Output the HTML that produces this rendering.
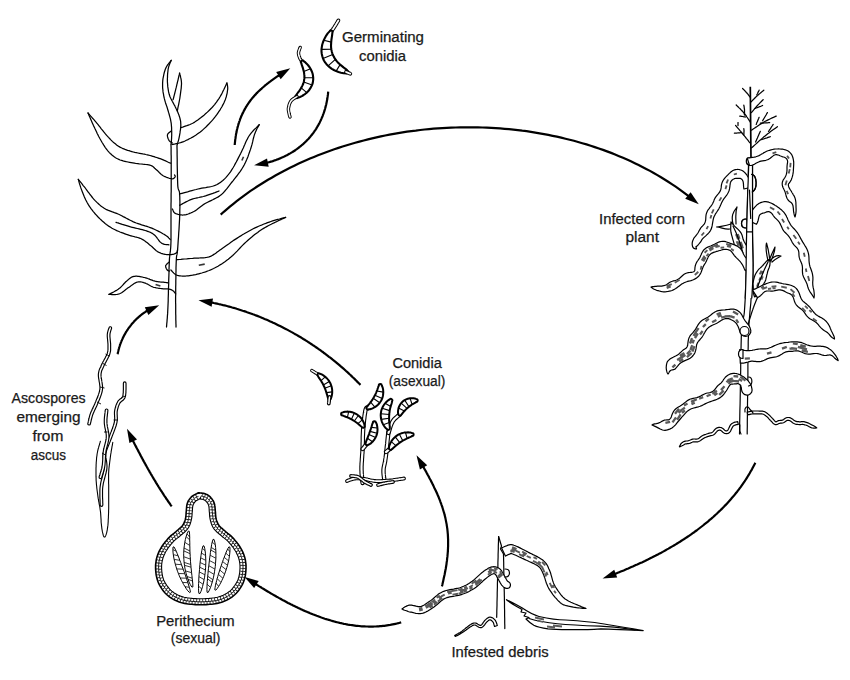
<!DOCTYPE html>
<html><head><meta charset="utf-8">
<style>
html,body{margin:0;padding:0;background:#fff;}
body{width:850px;height:680px;overflow:hidden;}
svg{display:block;}
text{font-family:"Liberation Sans",sans-serif;font-size:14px;fill:#1a1a1a;stroke:#1a1a1a;stroke-width:0.25px;}
.ln{fill:none;stroke:#000;stroke-width:1.2;stroke-linecap:round;stroke-linejoin:round;}
.lf{fill:#fff;stroke:#000;stroke-width:1.2;stroke-linejoin:round;}
.ar{fill:none;stroke:#000;stroke-width:2.4;}
.rbo{fill:none;stroke:#000;stroke-width:9;stroke-linecap:butt;stroke-linejoin:round;}
.rbi{fill:none;stroke:#fff;stroke-width:6.6;stroke-linecap:butt;stroke-linejoin:round;}
.rbd{fill:none;stroke:#555;stroke-width:2.2;stroke-dasharray:4 3;stroke-linejoin:round;}
</style></head>
<body>
<svg width="850" height="680" viewBox="0 0 850 680">

<g id="young"><path class="ln" style="stroke-width:1.25" d="M171.0,144.0 L171.0,144.9 L171.0,146.0 L171.1,147.4 L171.1,148.9 L171.1,150.5 L171.1,152.3 L171.1,154.1 L171.2,156.0 L171.2,158.0 L171.2,160.0 L171.2,162.1 L171.2,164.3 L171.2,166.5 L171.2,168.9 L171.2,171.4 L171.2,173.9 L171.2,176.4 L171.2,178.9 L171.2,181.5 L171.2,184.0 L171.2,186.5 L171.2,189.0 L171.2,191.4 L171.1,193.9 L171.1,196.4 L171.1,199.0 L171.1,201.6 L171.0,204.3 L171.0,207.1 L171.0,210.0 L171.0,213.1 L171.0,216.5 L171.0,220.0 L171.0,223.7 L171.0,227.3 L171.0,231.0 L171.0,234.5 L171.0,237.8 L171.0,240.8 L170.9,243.5 L170.8,245.8 L170.7,247.7 L170.5,249.4 L170.4,250.9 L170.2,252.2 L170.0,253.5 L169.8,254.9 L169.7,256.4 L169.5,258.0 L169.4,260.0 L169.3,262.2 L169.2,264.6 L169.1,267.2 L169.0,269.8 L169.0,272.5 L168.9,275.3 L168.8,278.1 L168.7,280.8 L168.7,283.4 L168.6,286.0 L168.5,288.5 L168.4,291.0 L168.4,293.5 L168.3,296.0 L168.2,298.5 L168.2,300.9 L168.1,303.2 L168.0,305.5 L167.9,307.7 L167.8,309.8 L167.7,311.9 L167.6,313.9 L167.4,316.0 L167.3,318.0 L167.1,319.9 L167.0,321.7 L166.8,323.3 L166.7,324.8 L166.6,326.0 L166.5,327.0"/><path class="ln" style="stroke-width:1.25" d="M177.0,145.0 L177.0,147.5 L177.1,150.8 L177.1,154.8 L177.2,159.2 L177.2,163.9 L177.3,168.6 L177.4,173.2 L177.5,177.4 L177.6,181.1 L177.7,184.0 L177.8,186.1 L178.0,187.6 L178.2,188.7 L178.5,189.4 L178.7,190.0 L178.9,190.4 L179.1,190.9 L179.3,191.5 L179.5,192.5 L179.6,193.8 L179.7,195.4 L179.8,197.2 L179.8,199.1 L179.9,201.1 L179.9,203.2 L179.9,205.4 L179.9,207.8 L179.8,210.3 L179.8,212.9 L179.7,215.6 L179.6,218.6 L179.4,222.0 L179.2,225.6 L179.0,229.4 L178.7,233.2 L178.5,237.0 L178.2,240.6 L178.0,243.9 L177.8,246.9 L177.6,249.4 L177.4,251.3 L177.3,252.7 L177.1,253.7 L177.0,254.4 L176.9,254.9 L176.7,255.5 L176.6,256.1 L176.5,257.0 L176.4,258.3 L176.3,260.0 L176.2,262.3 L176.1,264.9 L176.0,267.9 L176.0,271.1 L175.9,274.4 L175.9,277.8 L175.8,281.1 L175.8,284.3 L175.7,287.3 L175.7,290.0 L175.7,292.4 L175.7,294.7 L175.6,296.8 L175.6,298.8 L175.6,300.7 L175.6,302.6 L175.7,304.4 L175.7,306.2 L175.7,308.0 L175.7,309.8 L175.7,311.7 L175.7,313.7 L175.8,315.7 L175.8,317.7 L175.8,319.6 L175.9,321.5 L175.9,323.2 L176.0,324.7 L176.0,326.0 L176.0,327.0"/><path class="ln" style="stroke-width:1.25" d="M171.2,60.3 L170.8,60.8 L170.4,61.4 L169.8,62.1 L169.2,62.9 L168.5,63.8 L167.8,64.7 L167.1,65.7 L166.5,66.8 L165.9,67.9 L165.4,69.0 L165.0,70.2 L164.6,71.5 L164.2,72.8 L163.9,74.2 L163.6,75.7 L163.3,77.1 L163.0,78.6 L162.8,80.1 L162.7,81.6 L162.6,83.0 L162.6,84.4 L162.6,85.8 L162.6,87.2 L162.7,88.6 L162.9,90.0 L163.0,91.4 L163.2,92.8 L163.5,94.2 L163.7,95.6 L164.0,97.0 L164.3,98.4 L164.7,99.8 L165.1,101.3 L165.5,102.7 L166.0,104.2 L166.5,105.6 L167.0,107.0 L167.4,108.4 L167.8,109.7 L168.2,111.0 L168.5,112.2 L168.9,113.4 L169.2,114.5 L169.5,115.6 L169.8,116.7 L170.1,117.8 L170.4,118.9 L170.6,119.9 L170.8,121.0 L171.0,122.1 L171.2,123.2 L171.3,124.3 L171.4,125.5 L171.5,126.6 L171.6,127.7 L171.6,128.9 L171.6,130.0 L171.7,131.1 L171.7,132.2 L171.7,133.3 L171.7,134.4 L171.7,135.6 L171.6,136.9 L171.6,138.1 L171.5,139.4 L171.4,140.5 L171.4,141.6 L171.3,142.6 L171.2,143.4 L171.2,144.0"/><path class="ln" style="stroke-width:1.25" d="M171.2,60.3 L171.0,60.8 L170.8,61.4 L170.4,62.1 L170.1,62.9 L169.7,63.8 L169.4,64.7 L169.0,65.7 L168.7,66.8 L168.4,67.9 L168.2,69.0 L168.0,70.2 L167.9,71.5 L167.7,72.9 L167.6,74.3 L167.5,75.8 L167.5,77.3 L167.4,78.7 L167.4,80.2 L167.4,81.6 L167.5,83.0 L167.6,84.3 L167.7,85.6 L167.8,86.9 L168.0,88.2 L168.2,89.4 L168.4,90.7 L168.6,91.9 L168.9,93.1 L169.2,94.3 L169.6,95.5 L170.0,96.7 L170.5,97.8 L171.1,99.0 L171.7,100.1 L172.3,101.3 L172.9,102.4 L173.5,103.5 L174.1,104.6 L174.7,105.6 L175.2,106.7 L175.7,107.7 L176.2,108.8 L176.7,109.8 L177.1,110.8 L177.6,111.8 L178.0,112.7 L178.4,113.7 L178.8,114.7 L179.1,115.6 L179.4,116.5 L179.7,117.4 L179.9,118.2 L180.1,119.0 L180.3,119.8 L180.5,120.6 L180.6,121.4 L180.7,122.2 L180.7,123.1 L180.8,124.0 L180.8,124.9 L180.8,125.9 L180.7,127.0 L180.6,128.1 L180.5,129.3 L180.3,130.5 L180.1,131.7 L180.0,132.9 L179.8,134.0 L179.6,135.1 L179.4,136.1 L179.2,137.1 L179.0,138.1 L178.8,139.1 L178.5,140.1 L178.3,141.0 L178.0,141.9 L177.8,142.7 L177.6,143.4 L177.4,144.0 L177.3,144.5"/><path class="ln" style="stroke-width:1.25" d="M179.6,73.2 L179.4,73.9 L179.2,74.9 L178.9,76.0 L178.6,77.3 L178.3,78.6 L178.0,80.1 L177.6,81.5 L177.3,83.0 L176.9,84.4 L176.6,85.8 L176.3,87.2 L175.9,88.7 L175.5,90.3 L175.1,91.9 L174.7,93.5 L174.3,95.1 L173.9,96.5 L173.6,97.8 L173.3,98.9 L173.1,99.7"/><path class="ln" style="stroke-width:1.25" d="M179.6,73.2 L179.7,73.8 L179.9,74.5 L180.1,75.3 L180.4,76.2 L180.6,77.2 L180.9,78.3 L181.1,79.4 L181.3,80.6 L181.4,81.8 L181.5,83.0 L181.5,84.2 L181.4,85.5 L181.3,86.9 L181.2,88.3 L181.0,89.7 L180.8,91.2 L180.6,92.7 L180.4,94.1 L180.2,95.6 L180.0,97.0 L179.8,98.5 L179.5,100.0 L179.2,101.6 L178.9,103.2 L178.6,104.8 L178.2,106.3 L177.9,107.8 L177.7,109.0 L177.5,110.1 L177.3,110.9"/><path class="ln" style="stroke-width:1.25" d="M180.8,127.7 L181.6,127.4 L182.7,127.1 L183.9,126.7 L185.3,126.2 L186.8,125.7 L188.4,125.1 L190.0,124.5 L191.6,123.8 L193.2,123.0 L194.7,122.1 L196.2,121.1 L197.8,120.0 L199.4,118.8 L201.0,117.6 L202.7,116.2 L204.3,114.9 L205.8,113.5 L207.4,112.1 L208.8,110.8 L210.1,109.5 L211.3,108.3 L212.5,107.0 L213.5,105.8 L214.6,104.6 L215.5,103.3 L216.5,102.1 L217.3,100.9 L218.2,99.6 L219.1,98.3 L219.9,97.0 L220.7,95.6 L221.6,94.1 L222.4,92.5 L223.2,90.8 L224.0,89.2 L224.7,87.7 L225.4,86.2 L226.0,84.9 L226.5,83.8 L226.9,83.0"/><path class="ln" style="stroke-width:1.25" d="M172.4,144.5 L173.1,144.3 L174.1,144.1 L175.2,143.9 L176.4,143.6 L177.7,143.3 L179.2,143.0 L180.6,142.6 L182.1,142.1 L183.6,141.6 L185.0,141.0 L186.4,140.3 L187.9,139.6 L189.4,138.8 L191.0,138.0 L192.6,137.1 L194.1,136.2 L195.7,135.2 L197.3,134.1 L198.8,133.0 L200.3,131.9 L201.8,130.7 L203.3,129.4 L204.7,128.1 L206.2,126.7 L207.6,125.3 L209.1,123.8 L210.4,122.4 L211.8,120.9 L213.1,119.4 L214.3,117.9 L215.5,116.4 L216.6,114.9 L217.7,113.3 L218.8,111.7 L219.9,110.1 L220.8,108.5 L221.8,107.0 L222.6,105.4 L223.4,103.9 L224.1,102.5 L224.7,101.1 L225.3,99.7 L225.7,98.4 L226.2,97.0 L226.5,95.7 L226.8,94.5 L227.1,93.3 L227.3,92.1 L227.4,91.0 L227.6,90.0 L227.7,89.0 L227.7,88.1 L227.7,87.3 L227.6,86.5 L227.5,85.7 L227.3,85.0 L227.2,84.4 L227.1,83.9 L227.0,83.4 L226.9,83.0"/><path class="ln" style="stroke-width:1.25" d="M171.0,131.2 L170.8,131.4 L170.4,131.6 L170.1,131.9 L169.6,132.2 L169.2,132.6 L168.7,133.0 L168.3,133.4 L167.9,133.8 L167.7,134.2 L167.5,134.7 L167.4,135.2 L167.4,135.7 L167.5,136.3 L167.6,136.9 L167.8,137.6 L168.0,138.2 L168.2,138.8 L168.4,139.3 L168.7,139.8 L168.9,140.3 L169.2,140.7 L169.5,141.1 L169.9,141.4 L170.3,141.7 L170.7,142.0 L171.2,142.3 L171.5,142.5 L171.9,142.7 L172.2,142.9 L172.4,143.0"/><path class="ln" style="stroke-width:1.25" d="M88.0,113.0 L88.5,113.6 L89.2,114.3 L89.9,115.2 L90.7,116.1 L91.7,117.2 L92.6,118.3 L93.7,119.4 L94.7,120.6 L95.8,121.9 L96.8,123.1 L97.9,124.4 L99.0,125.8 L100.1,127.2 L101.3,128.8 L102.6,130.3 L103.8,131.9 L105.0,133.4 L106.2,134.8 L107.4,136.2 L108.5,137.4 L109.6,138.5 L110.6,139.6 L111.6,140.6 L112.6,141.6 L113.6,142.5 L114.6,143.3 L115.6,144.1 L116.6,144.9 L117.7,145.7 L118.8,146.4 L120.0,147.1 L121.2,147.7 L122.4,148.3 L123.7,148.8 L125.0,149.4 L126.3,149.8 L127.6,150.3 L129.0,150.7 L130.4,151.2 L131.8,151.6 L133.3,152.0 L134.8,152.4 L136.3,152.7 L137.9,153.0 L139.6,153.3 L141.2,153.6 L142.8,153.9 L144.3,154.1 L145.8,154.5 L147.3,154.8 L148.7,155.2 L150.1,155.5 L151.4,155.9 L152.8,156.3 L154.1,156.7 L155.3,157.1 L156.6,157.5 L157.8,157.9 L159.0,158.3 L160.2,158.7 L161.4,159.1 L162.6,159.6 L163.8,160.1 L165.0,160.7 L166.2,161.2 L167.3,161.7 L168.3,162.2 L169.2,162.6 L170.0,162.9 L170.6,163.2"/><path class="ln" style="stroke-width:1.25" d="M88.0,113.0 L88.4,113.8 L88.8,114.9 L89.4,116.2 L90.0,117.6 L90.7,119.2 L91.4,120.8 L92.1,122.4 L92.8,124.0 L93.5,125.6 L94.2,127.0 L94.8,128.3 L95.5,129.7 L96.1,131.0 L96.7,132.3 L97.3,133.7 L98.0,134.9 L98.6,136.2 L99.3,137.5 L100.0,138.8 L100.7,140.0 L101.4,141.2 L102.1,142.5 L102.9,143.7 L103.6,144.9 L104.4,146.1 L105.1,147.3 L105.9,148.4 L106.8,149.5 L107.6,150.6 L108.5,151.6 L109.4,152.6 L110.3,153.5 L111.2,154.3 L112.2,155.2 L113.2,156.0 L114.2,156.8 L115.2,157.5 L116.4,158.2 L117.5,158.8 L118.8,159.4 L120.1,160.0 L121.6,160.4 L123.1,160.9 L124.7,161.3 L126.3,161.7 L127.9,162.0 L129.6,162.3 L131.2,162.6 L132.8,162.9 L134.4,163.2 L136.0,163.5 L137.7,163.7 L139.3,163.9 L141.0,164.0 L142.7,164.2 L144.4,164.3 L145.9,164.5 L147.4,164.7 L148.7,164.9 L149.9,165.2 L150.9,165.5 L151.8,165.9 L152.5,166.3 L153.2,166.8 L153.7,167.2 L154.2,167.7 L154.7,168.2 L155.3,168.7 L155.8,169.2 L156.4,169.7 L157.0,170.2 L157.6,170.8 L158.2,171.4 L158.8,172.0 L159.4,172.7 L160.1,173.3 L160.7,173.9 L161.3,174.5 L162.1,175.0 L162.8,175.5 L163.6,176.0 L164.5,176.4 L165.5,176.8 L166.5,177.3 L167.6,177.6 L168.6,178.0 L169.5,178.3 L170.4,178.5 L171.2,178.7 L171.9,178.8 L172.5,178.8 L173.0,178.7 L173.4,178.6 L173.8,178.4 L174.1,178.1 L174.4,177.8 L174.6,177.6 L174.8,177.3 L175.0,177.0 L175.1,176.8 L175.2,176.6 L175.2,176.4 L175.2,176.2 L175.1,175.9 L175.0,175.7 L174.9,175.5 L174.8,175.3 L174.6,175.2 L174.6,175.0 L174.5,174.9"/><path class="ln" style="stroke-width:1.25" d="M78.3,179.3 L78.7,179.8 L79.3,180.5 L79.9,181.3 L80.6,182.2 L81.4,183.2 L82.2,184.2 L83.0,185.3 L83.9,186.3 L84.8,187.4 L85.6,188.5 L86.4,189.6 L87.3,190.8 L88.2,192.0 L89.1,193.2 L90.0,194.5 L91.0,195.7 L92.0,197.0 L92.9,198.2 L93.9,199.3 L94.9,200.4 L95.9,201.4 L96.9,202.4 L97.9,203.3 L98.9,204.2 L99.9,205.1 L100.9,206.0 L102.0,206.8 L103.1,207.5 L104.2,208.3 L105.4,209.0 L106.6,209.7 L107.8,210.2 L109.1,210.7 L110.4,211.2 L111.7,211.7 L113.1,212.1 L114.4,212.6 L115.8,213.1 L117.3,213.7 L118.7,214.3 L120.2,215.0 L121.7,215.8 L123.2,216.6 L124.8,217.4 L126.4,218.3 L128.0,219.1 L129.7,220.0 L131.3,220.8 L132.9,221.6 L134.6,222.3 L136.3,223.0 L138.0,223.6 L139.8,224.2 L141.6,224.8 L143.4,225.3 L145.1,225.9 L146.9,226.4 L148.6,227.0 L150.2,227.6 L151.8,228.2 L153.3,228.8 L154.8,229.5 L156.3,230.2 L157.7,230.9 L159.1,231.6 L160.5,232.3 L161.7,233.0 L162.9,233.7 L164.0,234.3 L165.0,234.9 L165.9,235.5 L166.7,236.0 L167.3,236.6 L167.9,237.1 L168.5,237.6 L168.9,238.1 L169.3,238.5 L169.7,238.9 L170.0,239.2 L170.3,239.5"/><path class="ln" style="stroke-width:1.25" d="M78.3,179.3 L78.5,179.9 L78.7,180.7 L78.9,181.6 L79.2,182.6 L79.5,183.7 L79.9,184.9 L80.3,186.1 L80.7,187.4 L81.1,188.6 L81.6,189.9 L82.1,191.2 L82.6,192.6 L83.2,194.0 L83.8,195.5 L84.4,197.0 L85.1,198.5 L85.8,200.0 L86.6,201.5 L87.4,203.0 L88.2,204.4 L89.1,205.8 L90.0,207.2 L91.0,208.6 L92.0,209.9 L93.1,211.3 L94.2,212.6 L95.3,214.0 L96.4,215.2 L97.6,216.5 L98.8,217.7 L100.0,218.9 L101.2,220.0 L102.5,221.2 L103.8,222.3 L105.1,223.4 L106.4,224.4 L107.8,225.4 L109.1,226.4 L110.6,227.3 L112.0,228.2 L113.5,229.0 L115.1,229.8 L116.7,230.6 L118.3,231.3 L120.0,232.0 L121.7,232.6 L123.3,233.2 L124.9,233.8 L126.5,234.4 L128.0,234.9 L129.5,235.4 L130.9,235.8 L132.3,236.2 L133.7,236.5 L135.0,236.9 L136.3,237.2 L137.6,237.5 L138.9,237.9 L140.1,238.3 L141.2,238.8 L142.3,239.4 L143.3,239.9 L144.3,240.6 L145.2,241.2 L146.1,241.9 L147.0,242.6 L147.9,243.3 L148.7,244.0 L149.5,244.7 L150.4,245.4 L151.2,246.1 L152.1,246.8 L152.8,247.5 L153.6,248.3 L154.4,249.0 L155.2,249.7 L155.9,250.4 L156.7,251.0 L157.6,251.6 L158.4,252.1 L159.3,252.5 L160.2,252.9 L161.1,253.3 L162.1,253.6 L163.1,253.9 L164.0,254.1 L165.0,254.3 L165.9,254.5 L166.8,254.6 L167.7,254.7 L168.6,254.7 L169.5,254.7 L170.4,254.7 L171.2,254.6 L172.1,254.4 L172.9,254.3 L173.7,254.1 L174.4,253.9 L175.1,253.6 L175.6,253.4 L176.0,253.1 L176.4,252.8 L176.7,252.5 L176.9,252.1 L177.1,251.7 L177.2,251.3 L177.3,250.9 L177.4,250.6 L177.5,250.3 L177.6,250.1"/><path class="ln" style="stroke-width:1.25" d="M116.0,222.3 L116.9,222.6 L118.0,222.9 L119.3,223.4 L120.7,223.8 L122.3,224.4 L124.0,224.9 L125.7,225.4 L127.4,225.9 L129.0,226.4 L130.6,226.9 L132.2,227.3 L133.8,227.7 L135.5,228.1 L137.3,228.5 L139.0,228.9 L140.7,229.3 L142.3,229.7 L143.8,230.1 L145.2,230.5 L146.5,230.9 L147.6,231.3 L148.6,231.7 L149.5,232.0 L150.4,232.4 L151.1,232.7 L151.8,233.1 L152.5,233.5 L153.1,233.9 L153.8,234.4 L154.4,234.9 L155.0,235.5 L155.6,236.1 L156.2,236.8 L156.8,237.5 L157.3,238.3 L157.8,239.0 L158.3,239.7 L158.8,240.4 L159.2,241.0 L159.7,241.5 L160.1,241.9 L160.6,242.3 L161.0,242.6 L161.3,242.9 L161.7,243.2 L162.1,243.4 L162.4,243.6 L162.8,243.8 L163.3,243.9 L163.7,244.1 L164.2,244.3 L164.8,244.4 L165.4,244.5 L166.0,244.6 L166.6,244.6 L167.2,244.7 L167.8,244.7 L168.3,244.7 L168.7,244.8 L169.0,244.8"/><path class="ln" style="stroke-width:1.25" d="M179.5,194.0 L180.6,193.7 L182.0,193.3 L183.7,192.8 L185.6,192.3 L187.6,191.8 L189.7,191.2 L191.9,190.6 L194.0,190.0 L196.1,189.5 L198.0,189.0 L199.9,188.6 L201.8,188.2 L203.8,187.9 L205.7,187.6 L207.7,187.2 L209.6,186.9 L211.5,186.5 L213.3,186.0 L215.0,185.4 L216.6,184.7 L218.1,183.9 L219.5,183.0 L220.9,182.1 L222.2,181.1 L223.4,180.0 L224.6,178.9 L225.8,177.6 L226.9,176.3 L228.1,174.9 L229.3,173.4 L230.5,171.8 L231.7,169.9 L232.9,168.0 L234.1,166.0 L235.2,163.9 L236.4,161.8 L237.5,159.6 L238.5,157.6 L239.6,155.5 L240.6,153.6 L241.5,151.7 L242.4,149.8 L243.3,148.0 L244.1,146.1 L244.9,144.3 L245.6,142.5 L246.4,140.7 L247.3,139.1 L248.1,137.5 L249.0,136.0 L250.0,134.6 L251.1,133.2 L252.2,131.8 L253.4,130.5 L254.6,129.2 L255.8,128.1 L256.8,127.1 L257.8,126.1 L258.6,125.3 L259.2,124.7"/><path class="ln" style="stroke-width:1.25" d="M172.4,209.0 L172.5,209.3 L172.7,209.6 L172.9,210.1 L173.1,210.6 L173.3,211.1 L173.6,211.6 L173.9,212.2 L174.3,212.6 L174.8,213.1 L175.3,213.4 L175.9,213.7 L176.7,214.0 L177.5,214.2 L178.3,214.5 L179.2,214.7 L180.2,214.8 L181.2,214.9 L182.1,215.0 L183.1,215.0 L184.1,214.9 L185.1,214.8 L186.1,214.6 L187.1,214.3 L188.1,214.0 L189.2,213.6 L190.2,213.2 L191.3,212.7 L192.3,212.3 L193.4,211.7 L194.4,211.2 L195.4,210.6 L196.4,210.0 L197.3,209.3 L198.2,208.6 L199.2,207.8 L200.2,207.0 L201.2,206.2 L202.3,205.4 L203.4,204.6 L204.7,203.8 L206.1,203.0 L207.6,202.2 L209.3,201.4 L211.0,200.6 L212.7,199.8 L214.4,198.9 L216.1,198.0 L217.8,197.1 L219.4,196.1 L220.8,195.0 L222.1,193.9 L223.4,192.7 L224.5,191.5 L225.6,190.2 L226.7,188.9 L227.7,187.6 L228.8,186.2 L229.8,184.8 L230.9,183.4 L232.0,182.0 L233.2,180.6 L234.3,179.1 L235.5,177.6 L236.8,176.0 L238.0,174.4 L239.1,172.9 L240.3,171.3 L241.4,169.7 L242.4,168.0 L243.4,166.4 L244.3,164.7 L245.1,163.1 L245.9,161.4 L246.7,159.6 L247.4,157.9 L248.1,156.2 L248.7,154.4 L249.3,152.7 L249.9,151.0 L250.5,149.4 L251.0,147.8 L251.5,146.1 L252.0,144.4 L252.4,142.8 L252.8,141.2 L253.1,139.6 L253.5,138.0 L253.9,136.6 L254.3,135.2 L254.7,133.9 L255.2,132.7 L255.7,131.5 L256.2,130.4 L256.7,129.3 L257.2,128.3 L257.7,127.4 L258.2,126.6 L258.6,125.9 L258.9,125.2 L259.2,124.7"/><path class="ln" style="stroke-width:1.25" d="M179.7,205.3 L180.4,204.9 L181.3,204.5 L182.3,203.9 L183.4,203.3 L184.7,202.6 L186.0,201.9 L187.4,201.2 L188.8,200.5 L190.1,199.9 L191.5,199.4 L192.9,198.9 L194.3,198.5 L195.8,198.2 L197.3,197.8 L198.8,197.5 L200.3,197.1 L201.8,196.8 L203.3,196.5 L204.8,196.1 L206.2,195.7 L207.6,195.2 L209.1,194.7 L210.6,194.2 L212.1,193.7 L213.5,193.1 L214.9,192.6 L216.2,192.1 L217.3,191.7 L218.2,191.3 L219.0,191.0"/><path d="M241.9,160.5 L243.5,156.8" fill="none" stroke="#333" stroke-width="1.6"/><path class="ln" style="stroke-width:1.25" d="M176.8,259.7 L177.9,259.6 L179.2,259.5 L180.9,259.4 L182.7,259.2 L184.7,259.0 L186.7,258.9 L188.8,258.7 L190.8,258.5 L192.7,258.4 L194.4,258.2 L196.0,258.1 L197.6,258.0 L199.1,258.0 L200.6,257.9 L202.1,257.9 L203.6,257.8 L205.0,257.7 L206.4,257.5 L207.8,257.2 L209.1,256.8 L210.4,256.3 L211.6,255.8 L212.8,255.1 L213.9,254.4 L215.0,253.7 L216.1,252.9 L217.2,252.0 L218.4,251.2 L219.6,250.3 L220.9,249.4 L222.2,248.5 L223.6,247.5 L225.0,246.5 L226.4,245.5 L227.9,244.4 L229.4,243.4 L230.9,242.3 L232.4,241.2 L234.0,240.1 L235.6,239.1 L237.2,238.1 L238.9,237.0 L240.7,235.9 L242.4,234.8 L244.2,233.8 L246.0,232.7 L247.8,231.7 L249.6,230.7 L251.4,229.7 L253.2,228.8 L255.0,227.9 L256.8,227.1 L258.6,226.3 L260.4,225.5 L262.2,224.8 L264.0,224.0 L265.8,223.4 L267.6,222.7 L269.3,222.1 L270.9,221.5 L272.6,220.9 L274.3,220.4 L276.0,219.9 L277.7,219.4 L279.4,219.0 L280.9,218.6 L282.4,218.2 L283.6,217.9 L284.7,217.6 L285.6,217.4"/><path class="ln" style="stroke-width:1.25" d="M170.9,270.0 L171.2,270.3 L171.6,270.8 L172.1,271.3 L172.6,271.9 L173.2,272.5 L173.8,273.1 L174.5,273.7 L175.3,274.3 L176.0,274.7 L176.8,275.1 L177.6,275.4 L178.5,275.6 L179.4,275.8 L180.3,275.9 L181.3,276.0 L182.4,276.1 L183.5,276.1 L184.6,276.0 L185.8,276.0 L187.0,275.9 L188.3,275.8 L189.7,275.6 L191.1,275.4 L192.6,275.2 L194.1,274.9 L195.7,274.6 L197.2,274.2 L198.8,273.8 L200.3,273.4 L201.8,273.0 L203.3,272.5 L204.7,272.1 L206.2,271.6 L207.7,271.0 L209.2,270.5 L210.6,269.9 L212.1,269.2 L213.6,268.5 L215.0,267.8 L216.5,267.0 L218.0,266.2 L219.4,265.3 L220.9,264.4 L222.4,263.4 L223.8,262.4 L225.3,261.4 L226.8,260.3 L228.3,259.2 L229.7,258.0 L231.2,256.8 L232.7,255.5 L234.1,254.1 L235.6,252.6 L237.1,251.1 L238.5,249.6 L240.0,248.0 L241.5,246.4 L243.0,244.9 L244.4,243.5 L245.9,242.1 L247.4,240.8 L248.8,239.5 L250.3,238.2 L251.8,237.0 L253.2,235.8 L254.7,234.6 L256.2,233.5 L257.7,232.4 L259.1,231.3 L260.6,230.3 L262.1,229.3 L263.6,228.4 L265.1,227.5 L266.7,226.6 L268.2,225.8 L269.7,225.0 L271.2,224.3 L272.6,223.5 L274.0,222.9 L275.3,222.2 L276.6,221.6 L277.8,221.0 L279.0,220.4 L280.2,219.8 L281.4,219.3 L282.4,218.8 L283.4,218.4 L284.3,218.0 L285.0,217.7 L285.6,217.4"/><path d="M198.8,265.3 L204.7,264.1" fill="none" stroke="#333" stroke-width="1.6"/><path class="ln" style="stroke-width:1.25" d="M169.4,261.9 L169.2,262.1 L168.8,262.4 L168.4,262.7 L167.9,263.1 L167.5,263.5 L167.0,263.9 L166.5,264.3 L166.2,264.8 L165.9,265.2 L165.7,265.6 L165.6,266.0 L165.7,266.5 L165.7,267.0 L165.9,267.5 L166.1,268.0 L166.3,268.5 L166.5,268.9 L166.8,269.3 L167.0,269.7 L167.2,270.0 L167.4,270.2 L167.6,270.4 L167.9,270.6 L168.2,270.7 L168.4,270.8 L168.7,270.8 L169.0,270.9 L169.2,270.9 L169.4,271.0 L169.5,271.0"/><path class="ln" style="stroke-width:1.25" d="M109.0,294.4 L109.6,294.1 L110.4,293.6 L111.4,293.1 L112.4,292.6 L113.6,292.0 L114.8,291.3 L116.0,290.6 L117.1,290.0 L118.2,289.3 L119.1,288.6 L119.9,287.9 L120.8,287.2 L121.5,286.4 L122.3,285.6 L123.0,284.8 L123.7,284.0 L124.4,283.3 L125.1,282.5 L125.8,281.8 L126.5,281.2 L127.2,280.6 L127.9,280.0 L128.6,279.4 L129.3,278.8 L130.0,278.3 L130.7,277.8 L131.4,277.3 L132.2,276.9 L133.0,276.6 L133.9,276.4 L134.8,276.3 L135.8,276.2 L136.8,276.2 L137.9,276.3 L139.0,276.4 L140.1,276.6 L141.2,276.8 L142.3,277.0 L143.4,277.3 L144.5,277.5 L145.6,277.8 L146.7,278.1 L147.7,278.5 L148.8,278.9 L149.9,279.4 L151.0,279.8 L152.1,280.2 L153.1,280.6 L154.1,280.9 L155.1,281.2 L156.0,281.4 L157.0,281.6 L157.9,281.7 L158.8,281.8 L159.7,281.9 L160.5,282.0 L161.4,282.0 L162.1,282.1 L162.8,282.1 L163.5,282.2 L164.1,282.3 L164.7,282.4 L165.2,282.4 L165.7,282.5 L166.2,282.6 L166.6,282.6 L167.0,282.7 L167.3,282.7 L167.6,282.8 L167.8,282.8"/><path class="ln" style="stroke-width:1.25" d="M109.0,294.4 L109.6,294.4 L110.4,294.4 L111.3,294.5 L112.3,294.5 L113.5,294.5 L114.6,294.5 L115.8,294.5 L117.0,294.4 L118.1,294.2 L119.1,293.9 L120.1,293.5 L121.1,293.0 L122.0,292.4 L123.0,291.7 L124.0,291.0 L124.9,290.3 L125.8,289.5 L126.8,288.8 L127.7,288.1 L128.6,287.5 L129.5,286.9 L130.4,286.3 L131.2,285.6 L132.1,285.0 L132.9,284.4 L133.8,283.8 L134.6,283.3 L135.4,282.9 L136.2,282.5 L137.0,282.2 L137.8,282.0 L138.5,281.9 L139.3,281.8 L140.0,281.8 L140.8,281.9 L141.5,282.0 L142.2,282.2 L143.0,282.4 L143.7,282.6 L144.5,282.8 L145.3,283.1 L146.1,283.5 L147.0,283.9 L147.8,284.3 L148.6,284.8 L149.5,285.3 L150.3,285.8 L151.2,286.3 L152.1,286.7 L152.9,287.0 L153.8,287.3 L154.6,287.5 L155.5,287.7 L156.3,287.9 L157.2,288.0 L158.1,288.2 L158.9,288.3 L159.8,288.4 L160.6,288.5 L161.4,288.6 L162.2,288.7 L163.0,288.8 L163.8,288.8 L164.6,288.8 L165.4,288.9 L166.1,288.9 L166.8,288.9 L167.5,288.9 L168.2,289.0 L168.8,289.1 L169.4,289.2 L169.9,289.3 L170.3,289.4 L170.8,289.6 L171.2,289.7 L171.6,289.9 L172.0,290.1 L172.3,290.3 L172.7,290.5 L173.0,290.7 L173.3,291.0 L173.7,291.3 L174.0,291.6 L174.3,292.0 L174.6,292.4 L174.9,292.8 L175.1,293.1 L175.4,293.4 L175.5,293.7 L175.7,293.9"/><path d="M155.6,284.4 L160.4,286" fill="none" stroke="#333" stroke-width="1.6"/></g><g id="germ"><path d="M338.4,20.4 L338.2,20.7 L337.9,21.2 L337.6,21.7 L337.3,22.2 L336.9,22.8 L336.6,23.5 L336.2,24.1 L335.8,24.8 L335.4,25.4 L335.0,26.0 L334.6,26.6 L334.2,27.3 L333.7,28.0 L333.3,28.7 L332.8,29.4 L332.3,30.0 L331.9,30.6 L331.6,31.2 L331.2,31.6 L331.0,32.0" fill="none" stroke="#000" stroke-width="3.8" stroke-linecap="round" stroke-linejoin="round"/><path d="M338.4,20.4 L338.2,20.7 L337.9,21.2 L337.6,21.7 L337.3,22.2 L336.9,22.8 L336.6,23.5 L336.2,24.1 L335.8,24.8 L335.4,25.4 L335.0,26.0 L334.6,26.6 L334.2,27.3 L333.7,28.0 L333.3,28.7 L332.8,29.4 L332.3,30.0 L331.9,30.6 L331.6,31.2 L331.2,31.6 L331.0,32.0" fill="none" stroke="#fff" stroke-width="1.8" stroke-linecap="round" stroke-linejoin="round"/><path d="M329.6,31.4 L327.7,33.4 L326.2,35.6 L324.9,37.9 L323.8,40.2 L322.9,42.5 L322.2,44.8 L321.8,47.1 L321.5,49.4 L321.5,51.7 L321.8,54.0 L322.3,56.2 L323.0,58.4 L323.9,60.5 L325.1,62.4 L326.5,64.2 L328.1,65.9 L329.9,67.4 L331.8,68.8 L333.9,70.0 L336.1,71.1 L338.5,72.0 L341.0,72.7 L343.6,73.3 L346.5,73.4 A1.5,1.5 0 0 0 347.5,70.6 L347.5,70.6 L345.5,68.8 L343.5,67.4 L341.7,65.9 L340.1,64.6 L338.7,63.2 L337.4,61.9 L336.3,60.6 L335.4,59.3 L334.6,58.1 L333.9,56.9 L333.3,55.7 L332.7,54.5 L332.3,53.3 L331.9,52.0 L331.6,50.6 L331.3,49.2 L331.1,47.6 L331.0,45.9 L331.1,44.1 L331.2,42.1 L331.4,40.0 L331.7,37.8 L332.1,35.3 L332.4,32.6 A1.5,1.5 0 0 0 329.6,31.4 Z" fill="#fff" stroke="#000" stroke-width="2.10" stroke-linejoin="round"/><path d="M323.8,40.2 L331.2,42.1 M321.5,49.4 L331.3,49.2 M323.0,58.4 L332.7,54.5 M328.1,65.9 L335.4,59.3 M336.1,71.1 L340.1,64.6" fill="none" stroke="#000" stroke-width="1.10"/><path d="M346.0,72.0 L346.3,72.1 L346.7,72.3 L347.1,72.4 L347.6,72.6 L348.1,72.8 L348.7,73.1 L349.2,73.3 L349.6,73.4 L350.0,73.6 L350.3,73.7" fill="none" stroke="#000" stroke-width="3.8" stroke-linecap="round" stroke-linejoin="round"/><path d="M346.0,72.0 L346.3,72.1 L346.7,72.3 L347.1,72.4 L347.6,72.6 L348.1,72.8 L348.7,73.1 L349.2,73.3 L349.6,73.4 L350.0,73.6 L350.3,73.7" fill="none" stroke="#fff" stroke-width="1.8" stroke-linecap="round" stroke-linejoin="round"/><path d="M300.2,47.4 L300.1,47.7 L299.9,48.2 L299.7,48.7 L299.5,49.2 L299.3,49.9 L299.0,50.5 L298.8,51.2 L298.7,51.8 L298.5,52.4 L298.5,53.0 L298.5,53.6 L298.6,54.1 L298.7,54.7 L298.8,55.3 L299.0,55.9 L299.2,56.4 L299.4,57.0 L299.6,57.5 L299.8,58.0 L300.0,58.5 L300.2,58.9 L300.5,59.4 L300.7,59.8 L301.0,60.2 L301.3,60.6 L301.6,60.9 L301.8,61.3 L302.1,61.6 L302.3,61.8 L302.4,62.0" fill="none" stroke="#000" stroke-width="3.4" stroke-linecap="round" stroke-linejoin="round"/><path d="M300.2,47.4 L300.1,47.7 L299.9,48.2 L299.7,48.7 L299.5,49.2 L299.3,49.9 L299.0,50.5 L298.8,51.2 L298.7,51.8 L298.5,52.4 L298.5,53.0 L298.5,53.6 L298.6,54.1 L298.7,54.7 L298.8,55.3 L299.0,55.9 L299.2,56.4 L299.4,57.0 L299.6,57.5 L299.8,58.0 L300.0,58.5 L300.2,58.9 L300.5,59.4 L300.7,59.8 L301.0,60.2 L301.3,60.6 L301.6,60.9 L301.8,61.3 L302.1,61.6 L302.3,61.8 L302.4,62.0" fill="none" stroke="#fff" stroke-width="1.5" stroke-linecap="round" stroke-linejoin="round"/><path d="M301.2,62.9 L301.8,64.9 L302.4,66.7 L303.0,68.4 L303.4,70.0 L303.8,71.5 L304.1,72.9 L304.2,74.2 L304.4,75.5 L304.4,76.7 L304.4,77.8 L304.3,78.9 L304.1,79.9 L304.0,81.0 L303.7,82.1 L303.4,83.1 L303.0,84.3 L302.5,85.4 L301.9,86.6 L301.2,87.9 L300.4,89.2 L299.5,90.6 L298.4,92.0 L297.3,93.5 L296.1,95.3 A1.5,1.5 0 0 0 297.9,97.7 L297.9,97.7 L300.0,97.0 L301.9,96.1 L303.6,95.0 L305.3,93.8 L306.8,92.6 L308.1,91.2 L309.4,89.7 L310.4,88.2 L311.3,86.6 L312.1,84.9 L312.7,83.1 L313.0,81.3 L313.2,79.5 L313.2,77.7 L313.0,75.8 L312.7,74.0 L312.1,72.2 L311.4,70.5 L310.5,68.7 L309.5,67.1 L308.3,65.5 L306.9,63.9 L305.4,62.4 L303.6,61.1 A1.5,1.5 0 0 0 301.2,62.9 Z" fill="#fff" stroke="#000" stroke-width="2.10" stroke-linejoin="round"/><path d="M303.8,71.5 L310.5,68.7 M304.4,77.8 L313.2,77.7 M303.7,82.1 L312.1,84.9 M301.2,87.9 L306.8,92.6" fill="none" stroke="#000" stroke-width="1.10"/><path d="M297.0,96.5 L296.6,96.8 L296.1,97.1 L295.5,97.4 L294.9,97.9 L294.2,98.3 L293.4,98.8 L292.7,99.3 L292.1,99.9 L291.5,100.4 L291.0,101.0 L290.6,101.6 L290.2,102.3 L289.9,103.0 L289.6,103.7 L289.3,104.5 L289.1,105.2 L288.9,106.0 L288.8,106.7 L288.6,107.4 L288.5,108.0 L288.4,108.6 L288.4,109.1 L288.4,109.7 L288.5,110.2 L288.5,110.7 L288.6,111.2 L288.7,111.6 L288.8,112.1 L288.9,112.5 L289.0,113.0 L289.1,113.5 L289.2,113.9 L289.3,114.4 L289.4,114.9 L289.5,115.3 L289.6,115.7 L289.8,116.1 L289.9,116.5 L289.9,116.8 L290.0,117.0" fill="none" stroke="#000" stroke-width="3.4" stroke-linecap="round" stroke-linejoin="round"/><path d="M297.0,96.5 L296.6,96.8 L296.1,97.1 L295.5,97.4 L294.9,97.9 L294.2,98.3 L293.4,98.8 L292.7,99.3 L292.1,99.9 L291.5,100.4 L291.0,101.0 L290.6,101.6 L290.2,102.3 L289.9,103.0 L289.6,103.7 L289.3,104.5 L289.1,105.2 L288.9,106.0 L288.8,106.7 L288.6,107.4 L288.5,108.0 L288.4,108.6 L288.4,109.1 L288.4,109.7 L288.5,110.2 L288.5,110.7 L288.6,111.2 L288.7,111.6 L288.8,112.1 L288.9,112.5 L289.0,113.0 L289.1,113.5 L289.2,113.9 L289.3,114.4 L289.4,114.9 L289.5,115.3 L289.6,115.7 L289.8,116.1 L289.9,116.5 L289.9,116.8 L290.0,117.0" fill="none" stroke="#fff" stroke-width="1.5" stroke-linecap="round" stroke-linejoin="round"/></g><g id="rightplant">
<path d="M750.3,86.7 L750.6,120 L751,158" fill="none" stroke="#000" stroke-width="1.7"/>
<path class="ln" style="stroke-width:1.25" d="M750.3,97.3 L750.0,97.0 L749.7,96.6 L749.3,96.0 L748.8,95.5 L748.4,94.9 L747.9,94.2 L747.4,93.6 L746.9,93.0 L746.4,92.5 L746.0,92.0 L745.6,91.6 L745.2,91.1 L744.8,90.7 L744.4,90.3 L744.0,89.9 L743.7,89.6 L743.3,89.2 L743.0,88.9 L742.8,88.7 L742.6,88.5"/>
<path class="ln" style="stroke-width:1.25" d="M750.3,122.0 L749.9,121.5 L749.5,120.8 L748.9,119.9 L748.3,119.0 L747.6,118.0 L746.9,117.0 L746.2,115.9 L745.5,114.9 L744.7,113.9 L744.0,113.0 L743.2,112.1 L742.4,111.2 L741.5,110.3 L740.6,109.3 L739.7,108.4 L738.8,107.6 L738.0,106.8 L737.3,106.1 L736.7,105.5 L736.2,105.0"/>
<path class="ln" style="stroke-width:1.25" d="M744.4,115.0 L744.4,114.7 L744.4,114.3 L744.4,113.9 L744.5,113.4 L744.5,112.8 L744.5,112.2 L744.5,111.7 L744.5,111.1 L744.5,110.5 L744.5,110.0 L744.5,109.5 L744.4,108.9 L744.3,108.3 L744.2,107.8 L744.2,107.2 L744.1,106.6 L744.0,106.1 L743.9,105.7 L743.8,105.3 L743.8,105.0"/>
<path class="ln" style="stroke-width:1.25" d="M745.5,117.0 L745.1,116.9 L744.6,116.9 L744.0,116.8 L743.3,116.7 L742.6,116.5 L741.9,116.4 L741.2,116.3 L740.6,116.2 L740.1,116.2 L739.7,116.1"/>
<path class="ln" style="stroke-width:1.25" d="M750.3,143.2 L749.8,142.6 L749.1,141.8 L748.4,140.8 L747.5,139.7 L746.5,138.6 L745.6,137.4 L744.6,136.2 L743.7,135.0 L742.8,134.0 L742.0,133.0 L741.3,132.1 L740.5,131.2 L739.7,130.3 L739.0,129.4 L738.3,128.6 L737.6,127.8 L737.0,127.1 L736.4,126.5 L736.0,125.9 L735.6,125.5"/>
<path class="ln" style="stroke-width:1.25" d="M743.8,135.0 L743.8,134.8 L743.8,134.4 L743.9,134.0 L743.9,133.6 L743.9,133.2 L743.9,132.7 L744.0,132.2 L744.0,131.8 L744.0,131.4 L744.0,131.0 L744.0,130.7 L744.0,130.4 L744.0,130.1 L743.9,129.8 L743.9,129.5 L743.9,129.2 L743.9,129.0 L743.8,128.8 L743.8,128.6 L743.8,128.5"/>
<path class="ln" style="stroke-width:1.25" d="M741.5,132.6 L741.0,132.6 L740.4,132.7 L739.7,132.8 L738.8,132.8 L738.0,132.9 L737.1,133.0 L736.2,133.0 L735.5,133.1 L734.9,133.2 L734.4,133.2"/>
<path class="ln" style="stroke-width:1.25" d="M738.0,125.5 L738.0,125.3 L738.0,125.1 L738.0,124.8 L738.0,124.4 L738.0,124.0 L738.0,123.7 L738.0,123.3 L738.0,123.0 L738.0,122.8 L738.0,122.6"/>
<path class="ln" style="stroke-width:1.25" d="M750.9,102.0 L751.3,101.6 L751.7,101.2 L752.3,100.6 L752.9,100.0 L753.5,99.4 L754.2,98.7 L754.9,98.0 L755.6,97.3 L756.3,96.6 L757.0,96.0 L757.7,95.4 L758.4,94.7 L759.2,94.1 L760.0,93.4 L760.8,92.7 L761.5,92.1 L762.2,91.5 L762.9,91.0 L763.4,90.5 L763.8,90.2"/>
<path class="ln" style="stroke-width:1.25" d="M756.8,95.0 L756.9,94.7 L757.1,94.3 L757.4,93.8 L757.7,93.2 L757.9,92.6 L758.2,92.0 L758.5,91.4 L758.8,90.9 L759.0,90.5 L759.1,90.2"/>
<path class="ln" style="stroke-width:1.25" d="M751.5,112.6 L751.8,112.2 L752.2,111.7 L752.7,111.1 L753.3,110.4 L753.9,109.7 L754.5,108.9 L755.1,108.2 L755.8,107.4 L756.4,106.7 L757.0,106.0 L757.6,105.3 L758.3,104.6 L759.0,103.9 L759.7,103.1 L760.4,102.4 L761.1,101.7 L761.8,101.0 L762.3,100.5 L762.8,100.0 L763.2,99.6"/>
<path class="ln" style="stroke-width:1.25" d="M755.0,108.5 L755.5,108.3 L756.2,108.0 L757.0,107.7 L757.9,107.4 L758.8,107.0 L759.7,106.6 L760.6,106.3 L761.4,106.0 L762.1,105.7 L762.6,105.5"/>
<path class="ln" style="stroke-width:1.25" d="M751.5,130.2 L752.2,129.7 L753.2,129.0 L754.3,128.3 L755.6,127.4 L757.0,126.5 L758.4,125.5 L759.9,124.5 L761.3,123.6 L762.7,122.8 L764.0,122.0 L765.3,121.3 L766.7,120.6 L768.1,119.9 L769.5,119.2 L770.9,118.5 L772.2,117.9 L773.4,117.4 L774.5,116.9 L775.5,116.4 L776.2,116.1"/>
<path class="ln" style="stroke-width:1.25" d="M756.2,124.4 L756.4,123.9 L756.6,123.3 L756.9,122.6 L757.3,121.7 L757.7,120.9 L758.0,120.0 L758.4,119.1 L758.7,118.4 L758.9,117.8 L759.1,117.3"/>
<path class="ln" style="stroke-width:1.25" d="M762.6,120.8 L762.9,120.3 L763.3,119.6 L763.8,118.7 L764.4,117.7 L765.0,116.7 L765.6,115.7 L766.2,114.7 L766.7,113.8 L767.1,113.1 L767.4,112.6"/>
<path class="ln" style="stroke-width:1.25" d="M760.3,123.2 L760.9,123.2 L761.7,123.1 L762.7,123.0 L763.8,123.0 L765.0,122.9 L766.2,122.8 L767.3,122.8 L768.3,122.7 L769.1,122.6 L769.7,122.6"/>
<path class="ln" style="stroke-width:1.25" d="M751.5,147.9 L752.3,147.2 L753.4,146.2 L754.6,145.1 L756.0,143.9 L757.5,142.5 L759.0,141.1 L760.6,139.8 L762.2,138.4 L763.6,137.1 L765.0,136.0 L766.3,134.9 L767.7,133.8 L769.2,132.7 L770.6,131.6 L772.0,130.6 L773.4,129.6 L774.6,128.7 L775.7,127.9 L776.7,127.2 L777.4,126.7"/>
<path class="ln" style="stroke-width:1.25" d="M755.6,142.0 L755.9,141.3 L756.3,140.4 L756.8,139.3 L757.4,138.0 L757.9,136.7 L758.5,135.4 L759.1,134.1 L759.6,133.0 L760.0,132.1 L760.3,131.4"/>
<path class="ln" style="stroke-width:1.25" d="M761.5,139.6 L762.1,139.4 L762.8,139.2 L763.8,138.9 L764.8,138.5 L765.9,138.1 L767.0,137.8 L768.0,137.4 L769.0,137.1 L769.7,136.9 L770.3,136.7"/>
<path class="ln" style="stroke-width:1.25" d="M768.5,131.4 L768.8,131.0 L769.2,130.3 L769.7,129.6 L770.3,128.8 L770.9,127.9 L771.4,127.0 L772.0,126.2 L772.5,125.5 L772.9,124.8 L773.2,124.4"/>
<path class="ln" style="stroke-width:1.20" d="M748.7,160.0 L748.6,162.4 L748.5,165.4 L748.4,169.1 L748.3,173.1 L748.2,177.5 L748.0,182.1 L747.9,186.7 L747.7,191.4 L747.6,195.8 L747.5,200.0 L747.4,204.0 L747.3,208.1 L747.2,212.1 L747.1,216.2 L747.0,220.2 L746.9,224.3 L746.8,228.3 L746.7,232.3 L746.6,236.2 L746.5,240.0 L746.4,243.8 L746.4,247.5 L746.3,251.2 L746.3,254.8 L746.3,258.4 L746.2,261.9 L746.2,265.5 L746.2,269.0 L746.1,272.5 L746.0,276.0 L745.9,279.5 L745.8,283.1 L745.7,286.7 L745.5,290.3 L745.4,293.8 L745.3,297.3 L745.1,300.7 L744.9,303.9 L744.7,307.1 L744.5,310.0 L744.3,312.6 L744.0,314.9 L743.6,317.0 L743.3,318.8 L743.0,320.7 L742.6,322.6 L742.3,324.7 L742.0,327.0 L741.7,329.8 L741.5,333.0 L741.3,336.7 L741.2,340.8 L741.1,345.1 L741.0,349.7 L740.9,354.6 L740.8,359.5 L740.7,364.6 L740.7,369.8 L740.6,374.9 L740.5,380.0 L740.4,385.4 L740.3,391.2 L740.2,397.4 L740.1,403.7 L739.9,409.9 L739.8,416.0 L739.7,421.5 L739.6,426.5 L739.6,430.8 L739.5,434.0"/>
<path class="ln" style="stroke-width:1.20" d="M752.5,160.0 L752.5,162.4 L752.5,165.6 L752.5,169.3 L752.5,173.5 L752.5,178.0 L752.5,182.7 L752.5,187.3 L752.5,191.9 L752.5,196.1 L752.5,200.0 L752.5,203.5 L752.5,206.8 L752.5,209.9 L752.5,213.0 L752.5,216.0 L752.5,219.0 L752.5,222.1 L752.5,225.2 L752.5,228.5 L752.5,232.0 L752.5,235.7 L752.6,239.7 L752.7,243.8 L752.8,248.0 L752.9,252.2 L753.0,256.5 L753.0,260.6 L753.1,264.6 L753.0,268.4 L753.0,272.0 L752.9,275.3 L752.8,278.3 L752.6,281.1 L752.4,283.8 L752.2,286.4 L752.0,289.0 L751.7,291.6 L751.5,294.3 L751.2,297.1 L751.0,300.0 L750.8,303.0 L750.5,306.1 L750.2,309.1 L749.9,312.2 L749.7,315.3 L749.4,318.6 L749.1,321.9 L748.9,325.4 L748.7,329.1 L748.5,333.0 L748.4,337.1 L748.2,341.4 L748.2,345.9 L748.1,350.5 L748.0,355.2 L748.0,360.0 L747.9,364.9 L747.9,369.9 L747.9,375.0 L747.8,380.0 L747.7,385.4 L747.7,391.2 L747.6,397.4 L747.5,403.7 L747.5,409.9 L747.4,416.0 L747.3,421.5 L747.3,426.5 L747.2,430.8 L747.2,434.0"/>
<path class="ln" style="stroke-width:1.20" d="M746.0,332.0 L746.2,331.2 L746.5,330.1 L746.9,328.8 L747.3,327.3 L747.8,325.8 L748.2,324.1 L748.7,322.5 L749.1,320.9 L749.6,319.4 L750.0,318.0 L750.4,316.7 L750.8,315.5 L751.2,314.2 L751.6,313.0 L752.0,311.8 L752.4,310.6 L752.8,309.5 L753.2,308.3 L753.6,307.2 L754.0,306.0 L754.5,304.8 L755.0,303.6 L755.5,302.3 L756.0,301.0 L756.5,299.8 L757.1,298.6 L757.5,297.5 L758.0,296.5 L758.3,295.6 L758.6,295.0"/>
<path class="lf" d="M748.5,157.8 C745.5,158.2 745.5,164.5 749,165 C751.5,165 753,163 752.5,160.5 C752,158.2 750.5,157.6 748.5,157.8 Z"/>
<path class="lf" d="M749.6,165.7 L750.5,165.6 L751.7,165.3 L753.0,164.9 L754.4,164.2 L755.9,163.3 L757.5,162.5 L759.2,161.7 L760.9,161.2 L762.6,160.9 L764.2,160.6 L765.9,160.3 L767.5,159.8 L768.9,159.1 L770.2,158.3 L771.4,157.3 L772.5,156.4 L773.5,155.6 L774.5,155.0 L775.5,154.7 L776.4,154.6 L777.3,154.8 L778.2,155.0 L779.0,155.3 L779.9,155.7 L780.7,156.0 L781.4,156.3 L782.2,156.6 L782.9,156.8 L783.7,157.0 L784.3,157.2 L785.0,157.5 L785.6,157.9 L786.2,158.4 L786.7,158.9 L787.1,159.6 L787.4,160.4 L787.6,161.2 L787.6,162.0 L787.5,162.9 L787.4,163.7 L787.2,164.6 L787.1,165.7 L787.0,166.9 L787.0,168.4 L787.0,169.9 L786.9,171.5 L786.7,173.0 L786.3,174.4 L785.8,175.7 L785.3,176.8 L784.9,177.6 L784.4,178.2 L784.0,178.8 L783.6,179.3 L783.2,180.0 L782.9,180.7 L782.5,181.7 L782.3,182.7 L782.2,183.9 L782.3,185.2 L782.6,186.3 L783.0,187.5 L783.5,188.5 L784.0,189.6 L784.5,190.6 L785.0,191.7 L785.3,192.7 L785.7,193.8 L785.9,194.9 L786.2,196.0 L786.5,197.1 L787.0,198.2 L787.6,199.2 L788.1,200.0 L788.7,200.7 L789.4,201.3 L790.0,201.8 L790.7,202.3 L791.4,202.8 L792.0,203.5 L792.5,204.5 L793.0,205.8 L793.2,207.3 L793.4,208.9 L793.5,210.6 L793.7,212.2 L794.0,213.7 L794.3,215.0 L794.7,216.2 L795.0,217.0 L795.0,217.0 L795.3,216.1 L795.5,215.0 L795.8,213.6 L796.0,212.1 L796.1,210.5 L796.1,208.8 L796.0,207.1 L796.0,205.5 L795.9,203.9 L795.9,202.5 L795.7,201.1 L795.5,199.9 L795.2,198.6 L794.8,197.5 L794.4,196.5 L793.9,195.6 L793.4,194.9 L793.0,194.2 L792.7,193.6 L792.3,193.0 L791.8,192.2 L791.3,191.3 L790.8,190.5 L790.2,189.6 L789.7,188.7 L789.2,187.9 L788.8,187.0 L788.6,186.3 L788.4,185.5 L788.4,184.9 L788.4,184.4 L788.5,184.0 L788.7,183.7 L789.0,183.3 L789.3,182.9 L789.7,182.3 L790.2,181.6 L790.8,180.7 L791.3,179.7 L791.7,178.5 L792.1,177.4 L792.5,176.1 L792.8,174.7 L793.1,173.1 L793.3,171.4 L793.4,169.7 L793.5,168.0 L793.6,166.4 L793.7,164.8 L793.7,163.3 L793.7,161.9 L793.5,160.6 L793.3,159.3 L793.0,158.0 L792.6,156.7 L792.1,155.5 L791.5,154.3 L790.7,153.3 L789.8,152.4 L788.8,151.5 L787.7,150.8 L786.5,150.2 L785.3,149.8 L783.9,149.5 L782.6,149.2 L781.2,149.1 L779.9,149.0 L778.5,148.9 L777.1,149.0 L775.6,149.0 L774.1,149.2 L772.6,149.5 L771.0,149.9 L769.5,150.3 L768.0,150.8 L766.6,151.3 L765.3,152.0 L764.0,152.6 L762.9,153.4 L761.7,154.1 L760.5,154.8 L759.0,155.6 L757.4,156.2 L755.8,156.8 L754.1,157.2 L752.4,157.4 L750.8,157.6 L749.4,157.8 L748.2,158.0 L747.3,158.2Z"/><path d="M772.5,153.4 L776.3,152.2 M787.1,155.8 L789.0,158.6 M790.6,162.9 L790.2,167.3 M789.8,169.1 L788.7,173.5 M786.8,180.4 L785.4,185.3 M786.7,190.9 L788.1,194.2" fill="none" stroke="#505050" stroke-width="1.8" stroke-linecap="butt"/>
<path class="lf" d="M752.0,187.0 L752.0,186.5 L751.9,185.8 L751.8,184.9 L751.5,183.9 L751.1,182.8 L750.7,181.7 L750.1,180.6 L749.6,179.5 L749.0,178.5 L748.4,177.5 L747.9,176.7 L747.4,176.0 L747.0,175.3 L746.5,174.5 L745.9,173.8 L745.3,173.1 L744.7,172.5 L744.0,171.9 L743.3,171.3 L742.5,170.8 L741.6,170.3 L740.7,170.0 L739.7,169.7 L738.7,169.5 L737.7,169.4 L736.6,169.5 L735.6,169.6 L734.5,169.9 L733.5,170.3 L732.5,170.8 L731.6,171.4 L730.8,172.0 L730.1,172.7 L729.3,173.4 L728.6,174.1 L727.9,174.8 L727.1,175.6 L726.4,176.4 L725.6,177.2 L724.8,178.1 L724.0,179.2 L723.2,180.3 L722.6,181.5 L722.1,182.6 L721.7,183.9 L721.4,185.1 L721.3,186.3 L721.2,187.4 L721.0,188.5 L720.8,189.6 L720.4,190.6 L719.9,191.7 L719.2,192.7 L718.5,193.7 L717.6,194.6 L716.8,195.6 L716.0,196.6 L715.3,197.6 L714.7,198.7 L714.2,199.7 L713.9,200.7 L713.5,201.7 L713.1,202.6 L712.7,203.5 L712.1,204.5 L711.5,205.4 L710.8,206.4 L709.9,207.4 L709.1,208.6 L708.1,209.8 L707.3,211.3 L706.6,212.9 L706.1,214.6 L705.9,216.3 L705.8,218.1 L705.7,219.8 L705.4,221.4 L704.9,222.8 L704.2,224.1 L703.3,225.1 L702.4,226.1 L701.5,227.0 L700.6,228.2 L699.9,229.4 L699.1,230.8 L698.4,232.2 L697.6,233.5 L696.7,234.7 L695.8,235.8 L694.9,236.9 L694.1,237.8 L693.6,238.8 L693.2,239.7 L692.8,240.6 L692.5,241.5 L692.3,242.4 L692.2,243.2 L692.2,244.1 L692.2,244.9 L692.4,245.7 L692.6,246.6 L693.0,247.4 L693.5,248.0 L694.1,248.4 L694.6,248.6 L695.1,248.8 L695.5,248.9 L695.9,248.9 L696.2,249.0 L696.5,249.0 L696.5,249.0 L696.5,248.7 L696.4,248.3 L696.3,248.0 L696.1,247.6 L696.1,247.2 L696.0,246.8 L696.1,246.5 L696.3,246.3 L696.5,246.3 L696.7,246.3 L697.0,246.1 L697.3,245.8 L697.7,245.4 L698.1,245.0 L698.5,244.5 L698.9,244.0 L699.4,243.4 L700.0,242.7 L700.6,242.0 L701.1,241.1 L701.6,240.2 L702.3,239.2 L703.2,238.2 L704.3,237.1 L705.5,236.1 L706.7,234.9 L708.0,233.7 L709.2,232.3 L710.3,230.8 L711.2,229.1 L711.8,227.3 L712.2,225.4 L712.5,223.6 L712.8,221.8 L713.1,220.0 L713.5,218.3 L714.0,216.8 L714.7,215.4 L715.3,214.2 L716.0,213.2 L716.6,212.3 L717.1,211.5 L717.7,210.7 L718.1,209.9 L718.6,209.1 L719.1,208.2 L719.6,207.2 L720.1,206.2 L720.6,205.1 L721.1,203.9 L721.6,202.7 L722.2,201.6 L722.8,200.5 L723.5,199.4 L724.2,198.3 L725.0,197.3 L725.9,196.2 L726.7,195.1 L727.4,194.0 L728.1,192.8 L728.7,191.5 L729.2,190.2 L729.5,188.9 L729.7,187.6 L729.9,186.3 L730.0,185.2 L730.2,184.1 L730.3,183.1 L730.6,182.3 L730.8,181.7 L731.2,181.1 L731.7,180.5 L732.2,180.0 L732.7,179.6 L733.2,179.2 L733.7,179.0 L734.3,178.7 L734.7,178.6 L735.2,178.5 L735.6,178.4 L735.9,178.4 L736.3,178.3 L736.7,178.3 L737.1,178.3 L737.5,178.3 L738.0,178.3 L738.4,178.3 L738.8,178.3 L739.2,178.3 L739.5,178.3 L739.8,178.3 L740.1,178.3 L740.4,178.4 L740.7,178.5 L741.0,178.7 L741.3,178.9 L741.7,179.2 L742.0,179.5 L742.4,180.0 L742.6,180.4 L742.9,181.0 L743.1,181.7 L743.3,182.6 L743.4,183.6 L743.5,184.6 L743.5,185.7 L743.6,186.7 L743.7,187.6 L743.8,188.4 L743.9,189.0Z"/><path d="M736.9,173.7 L733.8,174.5 M728.1,179.5 L726.5,183.3 M726.6,185.4 L725.4,189.1 M721.4,197.4 L719.3,200.9 M713.7,209.4 L711.8,213.4 M711.4,215.0 L710.4,218.5 M708.1,226.2 L706.5,229.2 M704.1,232.5 L701.5,235.5" fill="none" stroke="#505050" stroke-width="1.8" stroke-linecap="butt"/>
<path class="ln" d="M751.5,174.4 C757,175 758,189 752.2,192 M749.5,190 L750.7,218.5 M747,231.8 L752,231.8"/>
<path class="lf" d="M756.4,224.3 L756.8,223.6 L757.3,222.7 L757.8,221.6 L758.1,220.5 L758.4,219.2 L758.7,217.9 L759.0,216.7 L759.3,215.7 L759.7,214.9 L760.2,214.5 L760.8,214.1 L761.5,213.7 L762.2,213.4 L762.9,213.2 L763.6,213.0 L764.3,212.9 L764.8,212.7 L765.3,212.5 L765.8,212.3 L766.1,212.1 L766.6,211.9 L767.2,211.8 L767.9,211.7 L768.7,211.7 L769.5,211.9 L770.3,212.3 L771.0,212.8 L771.7,213.4 L772.3,214.1 L772.8,214.8 L773.2,215.5 L773.7,216.2 L774.3,217.0 L775.1,217.8 L776.0,218.7 L777.0,219.7 L778.0,220.7 L779.0,221.8 L779.8,223.1 L780.5,224.4 L781.1,225.7 L781.7,227.0 L782.2,228.3 L782.9,229.6 L783.7,230.8 L784.6,232.0 L785.7,233.0 L786.8,234.1 L787.8,235.1 L788.8,236.3 L789.6,237.5 L790.4,238.8 L791.1,240.1 L791.7,241.3 L792.4,242.6 L793.1,243.7 L793.8,244.7 L794.6,245.6 L795.4,246.3 L796.2,247.1 L796.9,247.9 L797.5,248.7 L798.0,249.5 L798.4,250.4 L798.6,251.2 L798.8,252.2 L798.9,253.2 L798.9,254.4 L799.0,255.8 L799.2,257.2 L799.6,258.7 L800.2,260.3 L801.0,262.1 L801.8,263.9 L802.3,266.0 L802.5,268.1 L802.4,270.4 L802.5,272.7 L802.8,274.9 L803.6,277.0 L804.7,279.2 L805.9,281.5 L807.0,283.9 L807.7,286.5 L808.5,289.0 L809.7,291.3 L811.1,293.4 L812.3,295.2 L813.3,296.8 L814.0,298.0 L814.0,298.0 L814.2,296.5 L814.3,294.7 L814.1,292.5 L813.8,290.2 L813.2,287.7 L812.8,285.1 L812.7,282.4 L812.9,279.6 L812.9,277.1 L812.6,274.9 L812.2,272.9 L811.5,270.8 L810.8,268.8 L810.0,266.7 L809.5,264.7 L809.2,262.6 L809.0,260.5 L809.0,258.5 L808.9,256.6 L808.7,254.8 L808.4,253.3 L808.0,251.9 L807.6,250.7 L807.1,249.5 L806.6,248.4 L806.0,247.4 L805.4,246.3 L804.7,245.3 L804.1,244.3 L803.4,243.1 L802.6,241.9 L801.9,240.6 L801.2,239.4 L800.5,238.1 L799.8,236.8 L799.1,235.5 L798.4,234.3 L797.7,233.2 L796.9,232.1 L796.1,231.1 L795.3,230.1 L794.3,229.0 L793.3,228.0 L792.3,226.9 L791.4,225.8 L790.5,224.6 L789.8,223.3 L789.1,222.0 L788.4,220.7 L787.8,219.4 L787.3,218.1 L786.7,216.9 L786.1,215.6 L785.3,214.3 L784.5,213.1 L783.5,211.9 L782.4,210.8 L781.3,209.7 L780.0,208.7 L778.8,207.7 L777.6,206.9 L776.4,206.1 L775.2,205.4 L774.0,204.6 L772.7,203.9 L771.5,203.3 L770.1,202.7 L768.8,202.2 L767.3,201.9 L765.9,201.7 L764.3,201.7 L762.8,202.0 L761.4,202.4 L760.0,202.9 L758.8,203.6 L757.6,204.4 L756.5,205.3 L755.5,206.3 L754.6,207.3 L753.7,208.4 L752.8,209.7 L751.9,211.1 L751.1,212.5 L750.3,213.8 L749.5,215.1 L748.7,216.3 L747.9,217.4 L747.3,218.4 L746.9,219.1 L746.5,219.6Z"/><path d="M769.9,207.3 L774.3,209.6 M777.5,211.5 L780.1,214.8 M782.0,219.0 L784.2,222.4 M787.2,226.8 L788.8,229.2 M793.4,235.0 L796.3,238.7 M798.0,241.8 L799.8,244.5 M803.8,252.8 L804.8,256.7 M805.8,268.5 L806.5,272.0 M808.0,276.1 L809.3,281.1" fill="none" stroke="#505050" stroke-width="1.8" stroke-linecap="butt"/>
<path class="ln" d="M746,219 C740,219 740,228 746,228"/>
<path class="lf" d="M747.0,268.0 L747.6,266.6 L748.1,264.7 L748.3,262.6 L748.1,260.4 L747.8,258.1 L747.8,255.9 L748.0,253.6 L748.1,251.3 L747.8,249.2 L747.2,247.1 L746.2,245.1 L745.1,243.2 L744.0,241.3 L743.1,239.3 L742.6,237.1 L742.0,235.0 L741.1,233.1 L739.9,231.3 L738.3,229.6 L736.3,227.8 L734.5,226.1 L733.2,224.4 L732.0,223.0 L731.0,222.0 L731.0,222.0 L730.9,223.4 L730.8,225.4 L730.7,227.7 L730.7,230.1 L731.0,232.5 L731.5,234.6 L732.1,236.6 L732.6,238.6 L733.2,240.7 L733.8,242.7 L734.3,244.8 L734.6,246.9 L735.1,249.0 L735.6,251.0 L736.4,253.0 L737.3,254.8 L738.7,256.6 L740.1,258.2 L741.5,259.9 L742.7,261.8 L743.7,263.8 L744.7,265.6 L745.8,267.0 L747.0,268.0Z"/><path d="M743.0,248.2 L741.5,243.9 M741.4,249.2 L740.2,245.6 M742.5,246.6 L740.8,241.8 M738.4,245.9 L736.7,241.2 M740.7,246.9 L738.7,241.4 M739.6,238.7 L737.9,234.0 M738.0,239.4 L735.9,234.1" fill="none" stroke="#5a5a5a" stroke-width="1.9" stroke-linecap="butt"/>
<path class="ln" d="M733,224 C731,216 733,212 737,207 C735,213 736,218 736,224 M731,224 C726,226 722,226 716.5,227 C721,227 725,230 729.7,229 M746,268 C744,256 740,240 733,226"/>
<path class="lf" d="M752.6,265.4 L752.2,264.7 L751.7,263.8 L750.9,262.8 L750.0,261.8 L748.8,260.7 L747.6,259.6 L746.5,258.4 L745.4,257.2 L744.6,256.0 L743.9,254.8 L743.3,253.7 L742.9,252.5 L742.3,251.4 L741.7,250.3 L740.9,249.2 L739.9,248.1 L738.8,247.2 L737.5,246.3 L736.1,245.6 L734.6,244.9 L733.2,244.4 L731.8,243.9 L730.3,243.4 L728.9,242.8 L727.3,242.2 L725.8,241.7 L724.2,241.4 L722.5,241.3 L720.9,241.5 L719.3,241.9 L717.8,242.5 L716.4,243.2 L714.9,244.0 L713.5,244.7 L712.1,245.4 L710.7,246.0 L709.2,246.5 L707.8,247.1 L706.4,247.8 L705.2,248.7 L704.0,249.7 L703.1,250.9 L702.3,252.2 L701.6,253.5 L701.1,254.8 L700.5,256.0 L700.0,257.2 L699.3,258.4 L698.6,259.4 L697.9,260.5 L697.0,261.7 L696.3,263.1 L695.7,264.4 L695.3,265.7 L695.1,266.8 L694.9,267.9 L694.9,268.8 L694.8,269.6 L694.8,270.2 L694.6,270.8 L694.3,271.3 L693.7,271.7 L692.9,272.0 L692.0,272.3 L690.8,272.4 L689.6,272.5 L688.3,272.7 L686.9,273.0 L685.5,273.5 L684.1,274.3 L682.9,275.2 L681.8,276.2 L680.7,277.2 L679.6,278.2 L678.5,279.0 L677.2,279.7 L675.9,280.2 L674.7,280.6 L673.4,280.9 L672.3,281.3 L671.1,281.7 L669.9,282.3 L668.8,283.0 L667.8,283.7 L666.8,284.4 L665.8,285.0 L664.7,285.4 L663.7,285.7 L662.7,285.9 L661.8,286.1 L660.9,286.2 L659.8,286.1 L658.7,286.1 L657.5,286.1 L656.2,286.3 L655.0,286.4 L653.7,286.6 L652.7,286.7 L651.7,286.8 L651.0,287.0 L651.0,287.0 L651.6,287.5 L652.3,288.1 L653.2,288.7 L654.2,289.3 L655.4,289.8 L656.6,290.3 L658.0,290.6 L659.4,291.0 L660.8,291.4 L662.2,291.7 L663.6,291.9 L665.0,291.8 L666.4,291.7 L667.9,291.5 L669.3,291.2 L670.6,290.9 L672.0,290.5 L673.3,289.9 L674.5,289.3 L675.7,288.6 L676.9,287.7 L678.1,286.8 L679.3,285.9 L680.5,285.0 L681.7,284.1 L682.9,283.4 L684.1,282.7 L685.4,282.2 L686.6,281.8 L687.7,281.4 L688.8,281.1 L689.8,280.9 L691.0,280.6 L692.1,280.2 L693.4,279.7 L694.6,279.1 L695.9,278.4 L697.1,277.5 L698.3,276.5 L699.4,275.3 L700.3,273.9 L701.0,272.5 L701.6,271.1 L702.0,269.8 L702.5,268.6 L702.9,267.4 L703.4,266.3 L703.9,265.4 L704.3,264.6 L704.8,263.9 L705.4,263.0 L705.9,262.0 L706.5,260.9 L706.9,259.9 L707.3,258.9 L707.8,257.9 L708.2,256.9 L708.8,256.0 L709.4,255.2 L710.1,254.4 L710.9,253.8 L712.0,253.1 L713.1,252.6 L714.3,252.1 L715.5,251.8 L716.6,251.4 L717.8,251.1 L718.8,250.8 L719.8,250.5 L720.7,250.3 L721.6,250.0 L722.7,249.7 L723.8,249.5 L725.0,249.4 L726.2,249.4 L727.4,249.5 L728.6,249.8 L729.6,250.3 L730.5,250.8 L731.2,251.3 L731.7,251.9 L732.2,252.5 L732.6,253.2 L733.2,253.9 L733.7,254.7 L734.4,255.6 L735.2,256.5 L736.0,257.4 L737.0,258.4 L738.0,259.3 L739.0,260.3 L740.0,261.3 L740.9,262.5 L741.8,263.8 L742.6,265.1 L743.3,266.5 L743.9,267.8 L744.4,268.9 L744.9,269.9 L745.3,270.6Z"/><path d="M733.8,250.6 L730.9,248.8 M731.0,247.0 L727.0,246.0 M731.5,245.3 L726.2,244.0 M724.2,247.5 L720.5,247.7 M718.0,244.5 L713.7,246.0 M719.7,246.0 L715.4,247.2 M713.6,246.1 L708.8,249.0 M713.5,248.3 L709.6,250.6 M707.4,250.1 L704.6,252.7 M708.6,253.7 L706.5,256.2 M705.8,257.2 L703.3,261.4 M704.5,255.8 L701.7,260.6 M701.5,265.9 L700.7,269.8 M698.3,271.8 L694.8,275.0 M679.6,279.8 L674.8,282.7 M671.8,284.1 L666.5,286.2 M670.7,286.5 L666.7,288.0" fill="none" stroke="#5a5a5a" stroke-width="1.9" stroke-linecap="butt"/>
<path class="lf" d="M754.7,297.0 L755.8,296.1 L757.1,294.8 L758.2,293.3 L759.1,291.5 L759.9,289.7 L760.8,288.1 L762.0,286.6 L762.9,285.0 L764.0,283.3 L765.0,281.6 L765.7,279.9 L766.1,278.2 L766.5,276.6 L766.8,275.0 L767.3,273.4 L767.6,271.8 L768.1,270.2 L768.7,268.7 L769.3,267.2 L769.8,265.5 L770.0,263.6 L770.1,261.7 L770.1,260.2 L770.0,259.0 L770.0,259.0 L768.9,259.5 L767.6,260.3 L766.3,261.4 L765.1,262.8 L763.9,264.2 L762.8,265.5 L761.6,266.7 L760.3,267.9 L758.9,269.1 L757.8,270.5 L756.7,272.1 L755.7,273.7 L754.9,275.5 L754.2,277.5 L753.7,279.5 L753.3,281.6 L753.0,283.7 L753.2,285.9 L753.3,288.0 L753.4,290.2 L753.5,292.2 L753.7,294.1 L754.1,295.7 L754.7,297.0Z"/><path d="M757.0,286.8 L758.4,282.7 M759.2,280.5 L760.4,277.5 M761.4,279.7 L762.8,276.3 M761.9,274.0 L763.3,271.1 M759.7,274.4 L761.5,270.6" fill="none" stroke="#5a5a5a" stroke-width="1.9" stroke-linecap="butt"/>
<path class="ln" d="M768,261 C767,255 765,250 766.5,243 C768,248 769,253 769.5,258 M769,261 C771,255 773,252 775,247 C775,252 773,256 771,261 M770,261 C773,257 777,255 781,256 C778,258 775,259 772,262 M755,296 C758,284 762,274 768,262"/>
<path class="lf" d="M757.4,297.7 L758.1,297.3 L759.0,296.8 L759.8,296.2 L760.7,295.5 L761.5,294.7 L762.4,293.8 L763.2,292.9 L764.2,292.1 L765.1,291.5 L766.0,291.2 L767.1,291.0 L768.4,291.0 L769.7,291.0 L771.0,291.1 L772.3,291.1 L773.6,291.0 L774.9,290.7 L776.2,290.4 L777.5,290.1 L778.7,289.9 L780.0,289.9 L781.3,290.1 L782.5,290.4 L783.7,290.9 L784.8,291.4 L785.8,292.0 L786.7,292.5 L787.6,292.9 L788.6,293.3 L789.5,293.6 L790.4,294.0 L791.3,294.7 L792.2,295.6 L793.0,296.9 L793.6,298.4 L794.1,300.1 L794.6,301.8 L795.4,303.5 L796.5,305.1 L797.8,306.5 L799.3,307.7 L800.7,308.8 L802.1,309.9 L803.4,311.2 L804.5,312.6 L805.5,314.1 L806.5,315.6 L807.7,316.9 L808.9,318.0 L810.3,319.0 L811.8,319.8 L813.4,320.7 L814.8,321.5 L816.1,322.4 L817.2,323.5 L818.3,324.6 L819.2,325.8 L820.1,326.9 L821.0,327.9 L822.0,328.8 L823.1,329.7 L824.5,330.8 L826.2,331.7 L827.7,332.8 L829.0,334.2 L830.1,335.5 L831.2,336.8 L832.4,337.8 L833.5,338.5 L834.5,339.0 L834.5,339.0 L834.4,337.9 L834.1,336.6 L833.5,335.2 L832.8,333.7 L832.0,332.1 L831.2,330.4 L830.4,328.5 L829.7,326.6 L828.8,325.0 L827.8,323.4 L826.7,322.0 L825.5,320.7 L824.2,319.6 L822.9,318.7 L821.5,317.8 L820.1,317.1 L818.8,316.4 L817.4,315.6 L816.2,314.7 L815.1,313.7 L814.0,312.5 L812.9,311.2 L811.9,309.9 L810.8,308.5 L809.8,307.2 L808.6,306.0 L807.4,304.9 L806.2,303.8 L804.9,302.8 L803.7,301.8 L802.7,300.8 L801.8,299.6 L801.0,298.2 L800.3,296.6 L799.8,295.0 L799.2,293.3 L798.4,291.6 L797.5,290.0 L796.2,288.4 L794.7,287.1 L793.1,286.2 L791.5,285.5 L789.9,285.0 L788.2,284.6 L786.7,284.3 L785.1,284.0 L783.6,283.8 L782.2,283.5 L780.7,283.1 L779.3,282.8 L777.8,282.4 L776.2,282.1 L774.6,282.0 L772.9,282.0 L771.3,282.2 L769.7,282.5 L768.2,283.0 L766.7,283.5 L765.3,284.1 L763.9,284.7 L762.5,285.3 L761.1,286.0 L759.7,286.7 L758.3,287.4 L757.0,288.0 L755.8,288.6 L754.7,289.1 L753.8,289.6 L753.1,290.0 L752.5,290.2Z"/><path d="M762.2,289.0 L767.1,287.2 M761.0,287.8 L763.9,286.4 M768.0,289.0 L771.2,288.5 M771.5,286.6 L776.4,286.3 M772.5,288.3 L775.6,288.2 M781.2,286.6 L786.8,287.7 M790.5,289.1 L794.5,292.8 M792.5,293.4 L794.5,296.8 M805.0,305.9 L807.8,308.7 M802.1,308.0 L805.6,311.6 M809.3,310.1 L811.7,312.3 M812.9,318.4 L816.7,321.3" fill="none" stroke="#5a5a5a" stroke-width="1.9" stroke-linecap="butt"/>
<path d="M748.7,166.0 L748.6,168.6 L748.5,172.0 L748.3,176.0 L748.2,180.5 L748.0,185.3 L747.8,190.3 L747.6,195.2 L747.5,200.0 L747.4,204.7 L747.2,209.7 L747.1,214.7 L747.0,219.9 L746.8,225.0 L746.7,230.1 L746.6,235.2 L746.5,240.0 L746.4,244.8 L746.3,249.6 L746.3,254.4 L746.2,259.1 L746.2,263.7 L746.1,268.1 L746.1,272.2 L746.0,276.0 L745.9,279.6 L745.8,283.0 L745.7,286.2 L745.6,289.2 L745.5,292.0 L745.4,294.4 L745.3,296.4 L745.2,298.0 L751.8,298.0 L751.9,296.1 L752.1,293.7 L752.2,290.8 L752.4,287.5 L752.6,283.9 L752.8,280.1 L752.9,276.1 L753.0,272.0 L753.0,267.6 L753.0,262.8 L752.9,257.7 L752.8,252.4 L752.7,247.0 L752.6,241.8 L752.6,236.7 L752.5,232.0 L752.5,227.6 L752.5,223.5 L752.5,219.5 L752.5,215.6 L752.5,211.8 L752.5,208.0 L752.5,204.0 L752.5,200.0 L752.5,195.6 L752.5,190.8 L752.5,185.9 L752.5,181.0 L752.5,176.3 L752.5,172.2 L752.5,168.6 L752.5,166.0Z" fill="#fff" stroke="none"/>
<path class="ln" d="M748.7,166.0 L748.6,168.6 L748.5,172.0 L748.3,176.0 L748.2,180.5 L748.0,185.3 L747.8,190.3 L747.6,195.2 L747.5,200.0 L747.4,204.7 L747.2,209.7 L747.1,214.7 L747.0,219.9 L746.8,225.0 L746.7,230.1 L746.6,235.2 L746.5,240.0 L746.4,244.8 L746.3,249.6 L746.3,254.4 L746.2,259.1 L746.2,263.7 L746.1,268.1 L746.1,272.2 L746.0,276.0 L745.9,279.6 L745.8,283.0 L745.7,286.2 L745.6,289.2 L745.5,292.0 L745.4,294.4 L745.3,296.4 L745.2,298.0"/>
<path class="ln" d="M752.5,166.0 L752.5,168.6 L752.5,172.2 L752.5,176.3 L752.5,181.0 L752.5,185.9 L752.5,190.8 L752.5,195.6 L752.5,200.0 L752.5,204.0 L752.5,208.0 L752.5,211.8 L752.5,215.6 L752.5,219.5 L752.5,223.5 L752.5,227.6 L752.5,232.0 L752.6,236.7 L752.6,241.8 L752.7,247.0 L752.8,252.4 L752.9,257.7 L753.0,262.8 L753.0,267.6 L753.0,272.0 L752.9,276.1 L752.8,280.1 L752.6,283.9 L752.4,287.5 L752.2,290.8 L752.1,293.7 L751.9,296.1 L751.8,298.0"/>
<path class="ln" d="M751.5,174.4 C757,175 758,189 752.2,192 M749.5,190 L750.7,218.5 M747,231.8 L752.5,231.8 M746,219 C740,219 740,228 746,228"/>
<path class="lf" d="M750.2,328.3 L749.9,327.5 L749.3,326.3 L748.5,324.9 L747.3,323.5 L746.0,321.9 L744.8,320.3 L743.7,318.5 L742.7,316.7 L741.8,314.8 L740.6,313.2 L739.4,311.9 L738.1,310.9 L736.7,310.1 L735.3,309.5 L733.7,309.2 L732.2,309.1 L730.8,309.1 L729.4,309.3 L728.0,309.5 L726.6,309.7 L725.0,309.9 L723.4,310.0 L721.7,310.2 L720.0,310.4 L718.2,310.7 L716.5,311.2 L714.9,312.0 L713.4,312.9 L712.0,314.0 L710.8,315.0 L709.5,316.0 L708.2,316.9 L706.8,317.7 L705.4,318.5 L704.0,319.3 L702.6,320.1 L701.3,321.0 L700.1,322.1 L699.1,323.3 L698.2,324.6 L697.4,326.0 L696.6,327.4 L695.8,328.9 L694.9,330.2 L693.9,331.4 L692.9,332.6 L691.8,333.8 L690.8,334.9 L689.9,336.2 L689.2,337.5 L688.6,339.1 L688.2,340.8 L688.0,342.3 L687.8,343.7 L687.7,345.0 L687.4,346.1 L687.0,347.0 L686.5,347.8 L685.9,348.3 L685.2,348.7 L684.4,349.2 L683.5,349.8 L682.5,350.6 L681.4,351.6 L680.2,352.8 L678.9,353.9 L677.5,354.9 L676.1,355.8 L674.6,356.5 L673.1,357.3 L671.9,357.9 L670.7,358.6 L669.7,359.3 L668.8,360.1 L668.0,360.9 L667.3,361.8 L666.9,362.9 L666.6,364.1 L666.4,365.2 L666.3,366.4 L666.2,367.6 L666.3,368.7 L666.4,369.7 L666.6,370.6 L666.8,371.4 L667.0,372.1 L667.2,372.7 L667.5,373.2 L667.7,373.6 L668.0,374.0 L668.0,374.0 L668.3,373.7 L668.6,373.2 L668.9,372.7 L669.2,372.1 L669.5,371.5 L670.0,371.0 L670.5,370.5 L671.1,370.2 L671.6,370.0 L672.2,369.9 L672.8,369.8 L673.5,369.6 L674.3,369.4 L675.0,369.1 L675.5,368.5 L676.1,367.9 L676.7,367.2 L677.4,366.4 L678.1,365.5 L678.8,364.7 L679.6,363.8 L680.6,363.0 L681.9,362.1 L683.3,361.4 L684.9,360.6 L686.6,359.9 L688.4,359.1 L690.1,358.2 L691.7,357.0 L693.1,355.5 L694.3,353.9 L695.1,352.2 L695.6,350.5 L696.0,348.9 L696.2,347.5 L696.4,346.2 L696.6,345.0 L696.9,343.9 L697.4,342.9 L697.9,342.0 L698.7,341.0 L699.6,340.0 L700.5,338.9 L701.4,337.9 L702.2,336.8 L702.9,335.7 L703.6,334.5 L704.2,333.4 L704.9,332.2 L705.5,331.1 L706.2,330.1 L707.0,329.0 L707.9,328.1 L708.9,327.2 L710.0,326.5 L711.1,325.9 L712.3,325.3 L713.4,324.8 L714.6,324.3 L715.7,323.8 L716.8,323.2 L718.0,322.5 L719.2,321.7 L720.4,320.9 L721.7,320.1 L722.9,319.5 L724.2,319.0 L725.4,318.7 L726.5,318.5 L727.4,318.6 L728.4,318.7 L729.2,318.9 L729.9,319.1 L730.5,319.3 L730.9,319.6 L731.3,319.8 L731.7,320.0 L732.2,320.2 L732.7,320.5 L733.3,320.8 L734.0,321.3 L735.0,322.1 L736.1,323.2 L737.1,324.7 L738.0,326.3 L738.7,328.0 L739.3,329.8 L739.8,331.3 L740.3,332.7 L740.7,333.7 L742.2,335.2 L744.1,336.2 L746.2,336.3 L748.2,335.7 L749.7,334.3 L750.7,332.4 L750.8,330.3Z"/><path d="M738.3,322.8 L736.2,319.5 M738.1,314.5 L733.0,311.6 M734.6,317.6 L730.1,316.1 M730.1,316.2 L724.7,316.5 M725.9,316.5 L721.2,317.7 M721.6,315.2 L717.8,316.6 M720.8,312.9 L716.6,314.5 M716.4,319.9 L712.1,322.2 M708.8,318.8 L705.5,321.2 M705.8,324.2 L702.9,327.0 M702.6,331.0 L700.0,334.5 M698.6,328.1 L695.8,332.2 M696.9,330.4 L693.5,335.8 M697.8,333.4 L695.0,338.2 M692.0,338.2 L690.0,343.5 M693.9,339.9 L692.6,343.4 M692.2,345.2 L690.5,350.0 M694.5,346.1 L692.4,351.7 M691.7,353.0 L686.9,357.1 M690.4,350.5 L687.0,354.1 M684.4,352.9 L679.8,355.7 M685.4,355.1 L681.5,357.5 M683.2,359.2 L679.2,361.6 M682.1,357.1 L677.1,360.1 M675.4,364.6 L672.4,367.4" fill="none" stroke="#5a5a5a" stroke-width="2.3" stroke-linecap="butt"/>
<ellipse class="lf" cx="744.5" cy="331" rx="4.5" ry="4.5"/>
<path class="lf" d="M740.3,363.1 L740.9,363.2 L741.6,363.2 L742.4,363.2 L743.4,363.1 L744.5,362.9 L745.6,362.6 L746.8,362.3 L748.0,362.0 L749.2,361.6 L750.4,361.4 L751.5,361.2 L752.7,361.2 L754.0,361.3 L755.3,361.4 L756.7,361.6 L758.2,361.7 L759.6,361.6 L761.1,361.3 L762.6,360.9 L764.1,360.3 L765.6,359.6 L767.0,358.9 L768.5,358.3 L769.9,357.9 L771.4,357.6 L772.9,357.3 L774.4,357.1 L775.9,356.9 L777.3,356.5 L778.7,355.9 L780.2,355.1 L781.7,354.2 L783.1,353.3 L784.5,352.5 L786.0,351.9 L787.4,351.6 L788.8,351.4 L790.1,351.4 L791.3,351.4 L792.3,351.3 L793.2,351.2 L794.2,351.0 L795.3,350.9 L796.5,350.8 L797.9,350.9 L799.2,351.2 L800.6,351.7 L802.1,352.3 L803.6,353.0 L805.2,353.6 L806.9,354.0 L808.5,354.2 L810.1,354.1 L811.8,353.9 L813.4,353.7 L815.0,353.5 L816.5,353.5 L817.9,353.6 L819.2,354.0 L820.4,354.4 L821.6,354.8 L822.8,355.1 L823.8,355.4 L824.8,355.5 L825.7,355.5 L826.5,355.4 L827.4,355.2 L828.2,355.1 L829.0,355.0 L829.8,354.9 L830.7,355.1 L831.7,355.5 L832.6,356.1 L833.5,356.9 L834.3,357.7 L835.2,358.5 L836.0,359.2 L836.8,359.8 L837.5,360.3 L838.2,360.6 L838.2,360.6 L838.0,359.9 L837.7,359.1 L837.3,358.2 L836.7,357.2 L836.1,356.2 L835.4,355.2 L834.6,354.1 L833.8,353.1 L833.0,352.1 L832.1,351.2 L831.2,350.3 L830.2,349.6 L829.3,348.9 L828.3,348.2 L827.2,347.6 L826.2,347.2 L825.1,346.9 L824.0,346.6 L822.9,346.4 L821.6,346.3 L820.2,346.2 L818.7,346.2 L817.2,346.2 L815.6,346.3 L814.1,346.3 L812.5,346.2 L810.9,346.0 L809.4,345.6 L808.0,345.2 L806.7,344.7 L805.6,344.2 L804.4,343.7 L803.2,343.2 L801.9,342.7 L800.4,342.4 L798.8,342.1 L797.2,341.9 L795.5,341.8 L793.6,341.8 L791.8,341.9 L789.9,342.0 L788.1,342.3 L786.3,342.5 L784.5,342.7 L782.8,343.0 L781.1,343.3 L779.5,343.7 L778.0,344.2 L776.7,344.7 L775.4,345.3 L774.0,345.9 L772.6,346.6 L771.2,347.3 L769.8,347.8 L768.4,348.3 L767.0,348.6 L765.7,348.8 L764.3,348.9 L763.0,348.9 L761.8,348.9 L760.6,348.9 L759.4,349.0 L758.2,349.1 L757.0,349.3 L755.8,349.5 L754.5,349.8 L753.3,350.0 L752.0,350.3 L750.8,350.5 L749.6,350.6 L748.5,350.7 L747.3,350.7 L746.2,350.6 L745.0,350.5 L743.9,350.3 L742.9,350.1 L741.9,350.0 L741.1,349.9 L740.3,349.8 L739.7,349.7Z"/><path d="M744.8,358.7 L749.9,358.4 M767.0,353.7 L771.5,352.3 M782.0,348.7 L786.8,346.9 M789.5,348.7 L793.2,348.3 M792.9,343.4 L797.7,344.2 M791.2,348.2 L797.1,348.8 M800.3,345.1 L805.8,346.6 M797.9,346.8 L804.0,348.7 M801.7,350.6 L807.9,351.8 M802.0,348.1 L807.0,349.3" fill="none" stroke="#5a5a5a" stroke-width="2.3" stroke-linecap="butt"/>
<path class="lf" d="M743,349.5 C737,349.5 737,358.5 743,358.5 Z"/>
<path class="lf" d="M751.8,388.2 L751.7,387.8 L751.6,387.3 L751.5,386.6 L751.2,385.8 L750.8,384.9 L750.4,384.0 L749.8,383.0 L749.1,382.1 L748.4,381.1 L747.6,380.2 L746.8,379.5 L746.1,378.9 L745.3,378.3 L744.6,377.7 L743.8,377.1 L742.9,376.5 L742.0,375.9 L741.1,375.4 L740.0,374.8 L739.0,374.4 L737.9,374.0 L736.9,373.7 L735.7,373.5 L734.5,373.4 L733.2,373.4 L731.9,373.6 L730.5,373.9 L729.2,374.5 L727.8,375.2 L726.5,376.2 L725.3,377.3 L724.4,378.5 L723.5,379.7 L722.8,380.8 L722.0,381.8 L721.2,382.8 L720.4,383.6 L719.6,384.2 L718.9,384.8 L718.2,385.3 L717.5,386.0 L716.8,386.8 L716.2,387.7 L715.5,388.6 L714.9,389.4 L714.2,390.3 L713.3,391.0 L712.4,391.6 L711.3,392.1 L710.0,392.5 L708.7,392.8 L707.2,393.0 L705.6,393.5 L704.0,394.2 L702.3,395.1 L700.6,396.1 L698.8,396.9 L696.9,397.6 L695.0,398.0 L693.1,398.4 L691.4,398.8 L689.8,399.3 L688.3,400.1 L686.9,401.0 L685.5,402.1 L684.1,403.2 L682.8,404.3 L681.3,405.3 L679.8,406.2 L678.0,407.2 L676.2,408.5 L674.6,410.0 L673.4,411.7 L672.5,413.5 L671.8,415.2 L671.3,416.9 L670.6,418.3 L669.7,419.2 L668.8,419.8 L668.0,419.9 L667.0,419.9 L665.7,420.0 L664.1,420.2 L662.3,421.1 L660.4,422.2 L658.3,423.1 L656.4,423.6 L654.6,423.9 L653.1,424.3 L652.0,425.0 L652.0,425.0 L653.1,425.5 L654.5,426.1 L656.2,426.9 L658.1,427.9 L660.2,429.0 L662.5,430.0 L665.0,430.4 L667.4,429.9 L669.7,429.1 L672.0,428.0 L673.9,426.4 L675.5,424.8 L676.8,423.1 L678.1,421.5 L679.4,420.0 L680.7,418.5 L681.8,417.2 L682.8,416.1 L683.7,415.1 L684.4,414.3 L685.2,413.4 L686.2,412.3 L687.2,411.4 L688.3,410.5 L689.5,409.7 L690.8,409.0 L692.2,408.5 L693.8,408.0 L695.4,407.6 L697.0,407.2 L698.5,406.8 L700.1,406.3 L701.7,405.6 L703.4,404.8 L705.1,403.9 L706.9,403.0 L708.7,402.3 L710.4,401.6 L712.2,401.0 L714.0,400.4 L715.6,399.9 L717.0,399.3 L718.4,398.6 L719.7,397.9 L720.9,397.1 L721.9,396.2 L722.9,395.3 L723.7,394.3 L724.5,393.3 L725.3,392.2 L726.2,391.0 L727.0,389.7 L727.7,388.5 L728.4,387.3 L729.0,386.3 L729.7,385.4 L730.3,384.7 L730.9,384.3 L731.3,384.1 L731.6,384.1 L731.9,384.1 L732.3,384.1 L732.8,384.1 L733.3,384.0 L733.9,384.0 L734.5,383.9 L735.2,383.9 L735.8,383.8 L736.5,383.8 L737.0,383.7 L737.4,383.7 L737.7,383.7 L738.1,383.7 L738.5,383.8 L738.9,384.0 L739.3,384.2 L739.7,384.5 L740.1,384.8 L740.4,385.2 L740.7,385.6 L740.9,385.9 L741.0,386.3 L741.1,386.9 L741.3,387.6 L741.4,388.4 L741.5,389.2 L741.6,389.9 L741.8,390.6 L741.9,391.3 L742.1,391.9 L743.3,393.5 L744.9,394.7 L746.9,395.1 L748.8,394.8 L750.5,393.7 L751.7,392.1 L752.1,390.1Z"/><path d="M742.1,380.9 L738.8,379.0 M745.5,380.7 L740.4,376.7 M739.1,381.5 L733.9,380.9 M738.2,376.5 L733.5,376.1 M734.3,380.7 L728.3,382.4 M732.8,378.4 L727.6,380.4 M731.0,381.2 L728.4,383.9 M729.2,379.6 L726.5,382.3 M724.5,386.3 L721.0,390.1 M723.7,390.7 L719.2,394.9 M717.4,393.1 L714.3,395.3 M716.9,390.6 L712.3,393.8 M710.7,394.5 L706.6,396.2 M703.2,397.2 L699.1,398.6 M696.8,399.3 L691.0,401.9 M694.8,402.8 L691.5,404.3 M687.5,403.5 L684.0,405.4 M684.9,410.5 L682.0,412.8 M684.9,407.6 L680.3,410.9 M679.0,408.8 L675.0,413.8 M681.1,410.4 L678.6,412.9 M680.6,414.3 L677.2,419.8 M676.0,417.4 L672.5,422.4 M670.1,421.8 L665.4,422.8" fill="none" stroke="#5a5a5a" stroke-width="2.3" stroke-linecap="butt"/>
<path class="ln" d="M748.5,377 C753,377 753,385 748.5,386"/>
<path class="lf" d="M737.7,421.6 L737.3,421.7 L736.6,421.8 L735.9,422.0 L735.0,422.2 L734.2,422.4 L733.5,422.7 L732.9,423.0 L732.4,423.3 L731.8,423.6 L731.3,424.0 L730.9,424.5 L730.3,425.2 L729.8,426.1 L729.3,427.2 L728.8,428.3 L728.3,429.3 L727.9,430.1 L727.5,430.5 L727.2,430.7 L727.0,430.8 L726.7,430.9 L726.3,430.9 L725.9,430.8 L725.5,430.7 L725.1,430.5 L724.6,430.1 L724.0,429.5 L723.3,428.8 L722.4,428.2 L721.5,427.7 L720.6,427.5 L719.7,427.4 L718.8,427.4 L718.0,427.6 L717.1,427.9 L716.3,428.3 L715.4,429.0 L714.7,429.7 L714.0,430.5 L713.4,431.3 L712.8,431.9 L712.3,432.3 L711.7,432.6 L711.0,432.8 L710.3,433.0 L709.4,433.2 L708.5,433.4 L707.6,433.7 L706.7,434.0 L705.9,434.3 L705.0,434.6 L704.1,434.9 L703.2,435.3 L702.3,435.8 L701.4,436.3 L700.5,437.0 L699.8,437.6 L699.0,438.2 L698.3,438.6 L697.7,438.9 L697.1,439.0 L696.4,439.1 L695.6,439.1 L694.7,439.0 L693.7,439.0 L692.7,439.1 L691.8,439.4 L691.0,439.7 L690.3,440.0 L689.6,440.3 L689.0,440.5 L688.4,440.7 L687.8,440.9 L687.1,441.0 L686.3,441.0 L685.4,441.1 L684.4,441.4 L683.4,441.7 L682.4,442.4 L681.4,443.2 L680.7,444.2 L680.1,445.2 L679.7,446.1 L679.4,446.8 L679.4,446.8 L680.1,446.6 L681.0,446.2 L682.1,445.7 L683.1,445.2 L684.0,444.7 L684.6,444.3 L685.2,444.0 L685.8,443.9 L686.6,443.8 L687.4,443.7 L688.2,443.6 L689.2,443.5 L690.0,443.2 L690.8,442.9 L691.5,442.5 L692.1,442.3 L692.7,442.0 L693.3,441.9 L693.9,441.8 L694.6,441.8 L695.5,441.8 L696.5,441.9 L697.6,441.8 L698.7,441.5 L699.7,441.0 L700.6,440.5 L701.5,439.8 L702.3,439.2 L703.0,438.7 L703.7,438.2 L704.4,437.9 L705.2,437.5 L706.0,437.2 L706.8,436.9 L707.6,436.6 L708.4,436.3 L709.2,436.1 L710.0,435.9 L710.9,435.7 L711.8,435.5 L712.8,435.2 L713.7,434.7 L714.7,434.0 L715.5,433.2 L716.1,432.3 L716.8,431.6 L717.3,431.0 L717.7,430.7 L718.2,430.5 L718.7,430.3 L719.2,430.2 L719.6,430.2 L720.1,430.2 L720.5,430.3 L720.9,430.5 L721.4,430.9 L722.1,431.5 L722.8,432.2 L723.6,432.8 L724.5,433.3 L725.3,433.5 L726.1,433.7 L726.9,433.7 L727.8,433.5 L728.7,433.1 L729.5,432.5 L730.2,431.6 L730.8,430.6 L731.3,429.4 L731.8,428.4 L732.3,427.4 L732.7,426.8 L733.0,426.4 L733.3,426.0 L733.5,425.8 L733.8,425.7 L734.1,425.5 L734.5,425.3 L735.1,425.1 L735.7,424.9 L736.5,424.7 L737.2,424.6 L737.8,424.5 L738.3,424.4Z"/>
<path class="lf" d="M747.8,414.9 L748.4,414.7 L749.1,414.6 L750.0,414.4 L750.9,414.2 L751.9,414.0 L752.9,413.9 L754.0,413.8 L755.3,413.8 L756.7,413.8 L758.0,413.8 L759.3,413.9 L760.3,413.9 L761.2,413.9 L761.8,413.9 L762.3,414.0 L762.6,414.0 L763.0,414.1 L763.4,414.3 L764.0,414.5 L764.5,414.9 L765.1,415.3 L765.7,415.7 L766.3,416.2 L767.0,416.7 L767.6,417.3 L768.3,418.0 L768.9,418.8 L769.6,419.5 L770.3,420.3 L771.0,421.0 L771.6,421.6 L772.1,422.2 L772.7,422.9 L773.3,423.5 L774.1,424.1 L775.0,424.6 L776.1,424.6 L777.0,424.4 L777.8,424.1 L778.4,423.8 L778.9,423.5 L779.4,423.4 L779.8,423.3 L780.4,423.2 L781.1,423.2 L781.8,423.1 L782.6,423.0 L783.5,422.7 L784.4,422.3 L785.1,421.8 L785.8,421.3 L786.5,420.8 L787.0,420.5 L787.4,420.3 L787.8,420.3 L788.1,420.3 L788.5,420.3 L788.9,420.4 L789.4,420.5 L789.9,420.8 L790.4,421.1 L791.1,421.5 L791.8,422.1 L792.6,422.7 L793.5,423.3 L794.5,423.8 L795.5,424.1 L796.4,424.3 L797.4,424.4 L798.3,424.5 L799.1,424.6 L799.9,424.6 L800.6,424.6 L801.2,424.5 L801.7,424.5 L802.1,424.4 L802.4,424.4 L802.8,424.4 L803.4,424.5 L804.0,424.6 L804.7,424.8 L805.5,425.0 L806.2,425.2 L806.9,425.5 L807.6,425.8 L808.3,426.2 L809.0,426.6 L809.8,427.0 L810.6,427.4 L811.5,427.8 L812.4,428.0 L813.5,428.1 L814.5,428.1 L815.4,428.1 L816.2,428.0 L816.8,427.9 L816.8,427.9 L816.3,427.5 L815.7,427.1 L814.9,426.6 L814.1,426.1 L813.2,425.6 L812.5,425.2 L811.8,424.9 L811.1,424.5 L810.3,424.1 L809.6,423.7 L808.8,423.3 L807.9,422.9 L807.1,422.6 L806.3,422.3 L805.5,422.1 L804.7,421.9 L803.9,421.7 L803.2,421.6 L802.4,421.6 L801.8,421.6 L801.3,421.7 L800.8,421.8 L800.4,421.8 L799.9,421.8 L799.3,421.8 L798.5,421.7 L797.7,421.7 L796.9,421.6 L796.2,421.4 L795.5,421.2 L794.9,420.9 L794.3,420.4 L793.5,419.9 L792.8,419.3 L791.9,418.7 L791.1,418.2 L790.4,417.9 L789.7,417.7 L788.9,417.5 L788.2,417.5 L787.4,417.5 L786.6,417.7 L785.7,418.0 L784.9,418.5 L784.2,419.0 L783.6,419.5 L783.0,419.9 L782.5,420.1 L782.0,420.2 L781.5,420.3 L780.9,420.4 L780.2,420.4 L779.5,420.5 L778.6,420.6 L777.8,420.9 L777.1,421.3 L776.5,421.6 L776.1,421.8 L775.9,421.9 L775.8,421.8 L775.6,421.7 L775.2,421.5 L774.8,421.0 L774.2,420.4 L773.6,419.7 L773.0,419.0 L772.4,418.4 L771.7,417.6 L771.0,416.9 L770.3,416.1 L769.6,415.3 L768.8,414.7 L768.1,414.1 L767.4,413.5 L766.7,413.0 L766.0,412.5 L765.3,412.1 L764.6,411.7 L763.9,411.5 L763.2,411.3 L762.6,411.2 L761.9,411.1 L761.3,411.1 L760.5,411.1 L759.4,411.1 L758.1,411.0 L756.7,411.0 L755.3,411.0 L753.9,411.0 L752.7,411.1 L751.5,411.2 L750.4,411.4 L749.4,411.6 L748.5,411.8 L747.7,412.0 L747.2,412.1Z"/>
<path class="ln" d="M745,412 C744,408 747,405 749,408 C750,410 752,411 753,413 M739.5,424 C741,427 738,430 741,434"/>
</g><g id="debris"><path class="ln" style="stroke-width:1.20" d="M498.6,536.5 L498.6,537.9 L498.5,539.6 L498.5,541.6 L498.4,543.9 L498.3,546.4 L498.3,549.0 L498.2,551.7 L498.1,554.5 L498.1,557.3 L498.0,560.0 L497.9,562.7 L497.9,565.6 L497.8,568.6 L497.7,571.7 L497.7,574.8 L497.6,577.9 L497.5,581.0 L497.4,584.1 L497.4,587.1 L497.3,590.0 L497.2,593.0 L497.2,596.1 L497.1,599.2 L497.0,602.4 L497.0,605.5 L496.9,608.5 L496.8,611.2 L496.8,613.6 L496.7,615.7 L496.7,617.3"/><path class="ln" d="M498.6,536.5 L501.5,546 L500.5,549 L503.5,554"/><path class="ln" style="stroke-width:1.20" d="M503.5,554.0 L503.5,555.6 L503.6,557.6 L503.6,559.9 L503.7,562.6 L503.7,565.4 L503.8,568.4 L503.8,571.5 L503.9,574.4 L503.9,577.3 L504.0,580.0 L504.1,582.5 L504.1,585.1 L504.2,587.6 L504.2,590.1 L504.3,592.6 L504.3,595.1 L504.4,597.6 L504.4,600.1 L504.5,602.6 L504.5,605.0 L504.5,607.5 L504.6,610.2 L504.6,612.9 L504.6,615.7 L504.7,618.4 L504.7,620.9 L504.7,623.3 L504.8,625.4 L504.8,627.2 L504.8,628.6"/><path class="lf" d="M505.4,556.1 L505.7,555.9 L506.1,555.7 L506.5,555.5 L506.9,555.3 L507.4,555.1 L507.8,554.8 L508.3,554.6 L508.7,554.5 L509.0,554.3 L509.4,554.2 L510.1,553.9 L510.9,553.5 L511.3,553.3 L511.4,553.2 L511.2,553.3 L510.9,553.3 L510.6,553.4 L510.5,553.4 L510.8,553.4 L511.3,553.5 L512.1,553.8 L513.2,554.2 L514.4,554.7 L515.8,555.3 L517.3,556.0 L518.8,556.7 L520.4,557.4 L522.0,558.2 L523.5,558.9 L525.0,559.6 L526.5,560.3 L528.1,561.0 L529.6,561.7 L531.2,562.4 L532.7,563.1 L534.1,563.8 L535.4,564.5 L536.6,565.1 L537.7,565.8 L538.5,566.4 L539.2,567.0 L539.8,567.6 L540.3,568.1 L540.7,568.7 L541.1,569.3 L541.4,570.0 L541.8,570.8 L542.3,571.7 L542.7,572.7 L543.2,573.8 L543.7,574.9 L544.1,576.0 L544.5,577.3 L545.0,578.6 L545.4,580.1 L545.9,581.6 L546.4,583.2 L547.1,584.8 L547.8,586.5 L548.6,588.1 L549.5,589.6 L550.5,591.1 L551.6,592.7 L552.7,594.3 L553.9,595.8 L555.1,597.3 L556.4,598.7 L557.6,600.1 L558.8,601.3 L560.0,602.4 L561.3,603.4 L562.5,604.2 L563.7,604.9 L565.0,605.3 L566.2,605.7 L567.4,605.9 L568.5,606.2 L569.7,606.4 L570.8,606.6 L572.0,606.8 L573.4,607.1 L574.9,607.3 L576.5,607.6 L578.1,607.8 L579.7,608.0 L581.3,608.1 L582.8,608.3 L584.0,608.4 L585.1,608.5 L586.0,608.5 L586.0,608.5 L585.2,608.1 L584.2,607.7 L583.0,607.2 L581.6,606.7 L580.2,606.1 L578.7,605.5 L577.2,604.9 L575.7,604.3 L574.4,603.8 L573.2,603.2 L572.1,602.7 L570.9,602.2 L569.9,601.7 L568.9,601.3 L568.0,600.8 L567.2,600.3 L566.4,599.8 L565.6,599.3 L564.8,598.7 L564.0,598.0 L563.0,597.1 L562.0,596.0 L561.0,594.8 L559.9,593.4 L558.9,592.0 L557.9,590.6 L556.9,589.1 L556.0,587.7 L555.1,586.3 L554.4,584.9 L553.8,583.7 L553.3,582.4 L552.8,581.0 L552.4,579.6 L552.0,578.2 L551.6,576.7 L551.2,575.3 L550.8,573.8 L550.3,572.3 L549.8,571.0 L549.3,569.8 L548.8,568.8 L548.4,567.8 L548.0,566.8 L547.5,565.8 L546.9,564.7 L546.2,563.7 L545.3,562.6 L544.4,561.6 L543.3,560.6 L542.0,559.6 L540.6,558.7 L539.2,557.8 L537.7,556.9 L536.1,556.1 L534.5,555.3 L533.0,554.6 L531.5,553.8 L530.0,553.1 L528.6,552.4 L527.2,551.6 L525.6,550.8 L524.1,550.0 L522.5,549.2 L520.9,548.4 L519.4,547.6 L517.9,546.9 L516.5,546.3 L515.2,545.7 L513.9,545.3 L512.7,544.9 L511.6,544.7 L510.4,544.6 L509.2,544.8 L508.2,545.1 L507.3,545.4 L506.8,545.7 L506.6,545.8 L506.7,545.8 L506.6,545.8 L506.1,546.0 L505.4,546.2 L504.7,546.5 L504.1,546.8 L503.5,547.0 L503.0,547.3 L502.5,547.5 L502.1,547.7 L501.8,547.8 L501.6,547.9Z"/><path d="M512.2,547.2 L516.6,549.0 M510.3,550.5 L514.6,552.0 M511.6,548.9 L516.5,550.9 M516.1,550.8 L519.9,552.6 M522.6,553.9 L525.6,555.4 M519.1,554.2 L524.0,556.6 M522.1,551.6 L526.8,554.0 M526.7,556.0 L530.8,557.9 M532.9,560.9 L536.5,562.7 M533.5,557.1 L537.0,558.9 M535.2,562.0 L540.1,564.9 M538.2,561.6 L540.8,563.3 M542.1,562.0 L545.3,565.4 M539.1,564.1 L542.6,567.7 M542.4,567.7 L544.5,572.3 M546.3,571.8 L547.7,575.2 M544.9,573.2 L546.1,576.5 M552.7,585.1 L554.4,587.8 M549.7,582.9 L552.3,588.1 M554.1,590.7 L555.9,593.3" fill="none" stroke="#5a5a5a" stroke-width="1.9" stroke-linecap="butt"/><path class="lf" d="M509.0,582.1 L508.7,582.0 L508.4,581.8 L508.2,581.6 L508.0,581.5 L507.9,581.4 L507.8,581.4 L507.7,581.3 L507.5,581.2 L507.4,581.1 L507.3,580.9 L507.1,580.6 L506.8,580.2 L506.5,579.7 L506.2,579.1 L505.9,578.5 L505.5,577.9 L505.1,577.2 L504.8,576.5 L504.4,575.8 L504.0,575.2 L503.7,574.7 L503.4,574.2 L503.1,573.6 L502.8,572.9 L502.4,572.3 L502.0,571.6 L501.6,570.8 L501.0,570.1 L500.4,569.4 L499.6,568.7 L498.9,568.2 L498.2,567.8 L497.4,567.5 L496.6,567.2 L495.8,566.9 L494.9,566.8 L493.9,566.7 L493.0,566.8 L492.0,566.9 L491.0,567.1 L490.0,567.5 L489.1,567.9 L488.2,568.3 L487.3,568.9 L486.4,569.4 L485.5,570.0 L484.7,570.6 L483.7,571.3 L482.8,572.0 L481.8,572.7 L480.8,573.6 L479.7,574.6 L478.6,575.6 L477.5,576.6 L476.4,577.6 L475.3,578.6 L474.2,579.6 L473.1,580.6 L472.0,581.4 L471.0,582.1 L470.0,582.8 L468.9,583.5 L467.9,584.1 L466.8,584.7 L465.8,585.2 L464.7,585.7 L463.6,586.2 L462.4,586.7 L461.2,587.2 L459.9,587.7 L458.6,588.1 L457.1,588.4 L455.5,588.7 L453.7,589.1 L451.9,589.4 L450.0,589.7 L448.1,590.1 L446.2,590.5 L444.4,591.1 L442.6,591.8 L440.9,592.7 L439.3,593.6 L437.9,594.6 L436.6,595.7 L435.3,596.7 L434.2,597.8 L433.1,598.7 L432.0,599.6 L431.0,600.4 L430.0,601.1 L428.9,601.8 L427.8,602.6 L426.7,603.3 L425.6,604.0 L424.6,604.7 L423.7,605.2 L422.7,605.7 L421.9,606.1 L421.1,606.4 L420.3,606.6 L419.7,606.7 L418.9,606.7 L418.1,606.6 L417.1,606.4 L416.1,606.2 L415.0,605.9 L413.9,605.6 L412.7,605.4 L411.5,605.1 L410.2,605.0 L409.1,605.1 L408.0,605.5 L407.0,605.9 L406.0,606.4 L405.1,606.8 L404.3,607.3 L403.6,607.7 L403.0,608.2 L402.4,608.6 L402.0,609.0 L402.0,609.0 L402.5,609.3 L403.1,609.6 L403.8,609.9 L404.6,610.2 L405.5,610.5 L406.4,610.8 L407.3,611.1 L408.2,611.5 L409.0,611.8 L409.8,612.0 L410.5,612.1 L411.3,612.2 L412.3,612.4 L413.3,612.7 L414.5,613.0 L415.8,613.3 L417.1,613.5 L418.6,613.6 L420.1,613.6 L421.7,613.4 L423.1,613.1 L424.5,612.6 L425.8,612.0 L427.0,611.4 L428.2,610.7 L429.4,609.9 L430.6,609.2 L431.7,608.4 L432.8,607.7 L434.0,606.9 L435.2,606.0 L436.5,605.0 L437.7,604.0 L438.8,603.0 L439.9,602.0 L441.0,601.1 L442.1,600.2 L443.2,599.4 L444.3,598.8 L445.4,598.2 L446.7,597.7 L448.1,597.3 L449.6,596.9 L451.3,596.6 L453.1,596.3 L454.9,596.0 L456.8,595.6 L458.6,595.3 L460.4,594.8 L462.1,594.3 L463.6,593.8 L465.0,593.2 L466.4,592.7 L467.7,592.1 L469.0,591.5 L470.2,590.8 L471.4,590.1 L472.6,589.4 L473.8,588.7 L475.0,587.9 L476.3,587.0 L477.5,586.0 L478.8,584.9 L480.0,583.8 L481.1,582.7 L482.3,581.7 L483.3,580.7 L484.3,579.8 L485.3,579.0 L486.2,578.3 L487.0,577.6 L487.9,576.9 L488.7,576.3 L489.5,575.8 L490.3,575.3 L490.9,574.8 L491.6,574.5 L492.1,574.2 L492.6,574.0 L493.0,573.9 L493.3,573.8 L493.6,573.7 L493.9,573.7 L494.1,573.7 L494.3,573.8 L494.5,573.8 L494.7,573.9 L494.9,574.0 L495.2,574.2 L495.4,574.3 L495.5,574.4 L495.6,574.5 L495.8,574.8 L496.0,575.1 L496.3,575.6 L496.6,576.2 L496.9,576.8 L497.2,577.4 L497.6,578.1 L498.0,578.8 L498.3,579.4 L498.7,579.9 L499.0,580.6 L499.4,581.2 L499.8,581.9 L500.1,582.6 L500.5,583.2 L500.9,583.9 L501.3,584.5 L501.7,585.1 L502.2,585.7 L502.7,586.2 L503.1,586.6 L503.6,587.0 L504.0,587.3 L504.4,587.5 L504.7,587.7 L504.9,587.8 L505.0,587.8 L505.0,587.9 L506.2,588.4 L507.6,588.4 L508.9,588.0 L509.9,587.0 L510.4,585.8 L510.4,584.4 L510.0,583.1Z"/><path d="M499.5,578.1 L498.0,575.3 M501.0,577.0 L499.2,573.6 M502.3,575.7 L500.0,571.3 M496.5,570.4 L492.3,570.1 M497.0,572.9 L493.5,571.6 M497.7,569.2 L494.2,568.2 M491.7,568.6 L488.7,569.9 M491.7,572.3 L487.9,574.8 M493.4,569.9 L488.0,572.2 M480.1,578.9 L476.1,582.7 M481.8,579.8 L478.5,582.9 M478.8,582.6 L475.6,585.3 M478.8,580.2 L475.0,583.6 M476.2,580.2 L471.7,583.8 M472.6,587.5 L469.6,589.2 M472.8,585.2 L469.3,587.4 M467.9,588.2 L462.9,590.4 M466.9,586.6 L464.0,587.9 M467.0,590.6 L463.9,591.9 M463.7,590.0 L460.0,591.3 M462.5,588.5 L458.3,590.1 M463.6,592.1 L458.7,593.6 M458.2,593.7 L452.5,594.6 M457.5,590.1 L451.8,591.1 M451.8,592.9 L448.1,593.6 M452.8,590.9 L447.2,592.0 M444.7,594.6 L441.3,596.4 M442.1,595.9 L438.9,598.2 M442.2,598.0 L437.9,601.4 M439.7,595.4 L436.7,597.7 M437.4,602.0 L434.1,604.8 M434.9,599.4 L431.6,602.2 M435.9,600.9 L433.4,603.0 M432.8,605.6 L429.7,607.7 M432.8,603.5 L429.6,605.6 M431.4,602.2 L427.3,605.0 M429.7,605.6 L426.0,608.0 M429.1,603.8 L425.2,606.4 M422.3,608.0 L418.9,608.5 M422.8,609.5 L419.2,610.5" fill="none" stroke="#5a5a5a" stroke-width="1.9" stroke-linecap="butt"/><path class="ln" d="M505,569 C511,569 511,577 505,577"/><path class="lf" d="M455.3,636.5 L455.7,636.3 L456.2,636.0 L456.9,635.7 L457.6,635.4 L458.3,635.0 L459.1,634.5 L460.0,634.1 L460.8,633.6 L461.6,633.1 L462.4,632.6 L463.2,632.1 L464.0,631.5 L464.9,630.8 L465.8,630.2 L466.6,629.5 L467.5,628.9 L468.3,628.3 L469.1,627.7 L469.8,627.2 L470.5,626.8 L471.1,626.4 L471.7,626.1 L472.2,625.8 L472.6,625.5 L473.0,625.3 L473.4,625.2 L473.8,625.1 L474.1,625.0 L474.5,625.0 L474.9,625.0 L475.3,625.1 L475.7,625.3 L476.2,625.6 L476.8,625.9 L477.4,626.4 L478.1,626.8 L478.8,627.2 L479.5,627.5 L480.4,627.7 L481.3,627.6 L482.1,627.2 L482.8,626.7 L483.5,626.1 L484.0,625.5 L484.6,624.8 L485.1,624.1 L485.6,623.4 L486.0,622.8 L486.5,622.3 L486.9,621.9 L487.3,621.5 L487.7,621.2 L488.1,620.8 L488.5,620.5 L488.8,620.3 L489.1,620.1 L489.4,620.0 L489.6,619.9 L489.8,619.8 L490.0,619.8 L490.2,619.8 L490.4,619.9 L490.7,620.0 L491.0,620.2 L491.4,620.4 L491.7,620.7 L492.0,621.0 L492.4,621.3 L492.6,621.6 L492.9,621.9 L493.1,622.2 L493.3,622.6 L493.5,623.0 L493.7,623.6 L493.9,624.1 L494.0,624.7 L494.2,625.2 L494.3,625.7 L494.5,626.2 L494.6,626.5 L497.4,625.5 L497.3,625.2 L497.2,624.8 L497.0,624.4 L496.8,623.8 L496.6,623.2 L496.4,622.6 L496.1,621.9 L495.8,621.3 L495.5,620.7 L495.1,620.1 L494.7,619.7 L494.3,619.3 L493.9,618.9 L493.4,618.5 L492.9,618.1 L492.4,617.8 L491.8,617.6 L491.2,617.4 L490.6,617.2 L490.0,617.2 L489.4,617.2 L488.8,617.4 L488.3,617.6 L487.8,617.9 L487.3,618.2 L486.9,618.5 L486.5,618.9 L486.0,619.3 L485.6,619.7 L485.1,620.1 L484.6,620.6 L484.1,621.3 L483.6,622.0 L483.1,622.7 L482.7,623.4 L482.2,624.0 L481.8,624.6 L481.3,625.0 L481.0,625.3 L480.7,625.4 L480.5,625.5 L480.2,625.4 L479.7,625.2 L479.2,624.9 L478.6,624.6 L477.9,624.2 L477.3,623.8 L476.6,623.4 L475.9,623.1 L475.1,623.0 L474.4,623.0 L473.8,623.1 L473.3,623.2 L472.7,623.4 L472.2,623.6 L471.7,623.9 L471.2,624.1 L470.7,624.5 L470.1,624.8 L469.5,625.2 L468.8,625.7 L468.1,626.3 L467.3,626.9 L466.4,627.5 L465.6,628.2 L464.8,628.9 L463.9,629.6 L463.1,630.2 L462.3,630.9 L461.6,631.4 L460.8,631.9 L460.1,632.4 L459.3,632.9 L458.5,633.3 L457.7,633.8 L456.9,634.2 L456.3,634.6 L455.6,634.9 L455.1,635.2 L454.7,635.5Z"/><path class="lf" d="M506.5,599.7 C512,602 517,605 521.5,607.6 C528,612 533,615 539,616.5 C550,619 558,620 565.6,620 C580,621 592,622 600.9,623.5 C615,626 630,628 643.2,630.6 C625,630 612,629 600.9,628.8 C590,629.5 582,629.8 574.4,629.7 C565,629.5 556,629.5 548,628.8 C541,628 537,627 533.8,625.3 C530,623 528,621 526,619 L529,617.5 L524,616 L526,613 L521,612 L522,609.5 C516,606 510,603 506.5,599.7 Z"/><path class="ln" d="M529,618.5 C545,623.5 565,625 600,626.2 C615,627 625,628.5 635,629.8"/><path d="M535,617.5 L544,619.5 M537,620.5 L543,622 M547,626.5 L555,627.5 M553,625.5 L562,626.5" fill="none" stroke="#5a5a5a" stroke-width="1.8"/></g><g id="conidia"><path d="M311.8,370.5 L312.3,370.8 L312.9,371.2 L313.6,371.6 L314.5,372.2 L315.3,372.7 L316.2,373.2 L317.1,373.8 L317.8,374.2 L318.4,374.6 L318.9,374.9" fill="none" stroke="#000" stroke-width="3.4" stroke-linecap="round" stroke-linejoin="round"/><path d="M311.8,370.5 L312.3,370.8 L312.9,371.2 L313.6,371.6 L314.5,372.2 L315.3,372.7 L316.2,373.2 L317.1,373.8 L317.8,374.2 L318.4,374.6 L318.9,374.9" fill="none" stroke="#fff" stroke-width="1.5" stroke-linecap="round" stroke-linejoin="round"/><path d="M318.0,376.1 L318.6,377.2 L319.2,378.1 L319.8,379.0 L320.4,379.9 L321.0,380.7 L321.5,381.6 L322.0,382.4 L322.5,383.2 L322.9,384.0 L323.3,384.9 L323.7,385.7 L324.1,386.5 L324.5,387.3 L324.8,388.2 L325.2,389.0 L325.5,389.9 L325.8,390.8 L326.1,391.7 L326.4,392.6 L326.7,393.6 L327.0,394.6 L327.3,395.7 L327.6,396.8 L328.0,397.9 A1.5,1.5 0 0 0 331.0,398.1 L331.0,398.1 L331.5,396.9 L331.8,395.6 L332.0,394.4 L332.2,393.1 L332.2,391.9 L332.2,390.6 L332.1,389.4 L331.9,388.2 L331.7,387.0 L331.3,385.8 L330.9,384.7 L330.5,383.6 L329.9,382.5 L329.3,381.4 L328.6,380.4 L327.9,379.5 L327.1,378.5 L326.2,377.7 L325.3,376.8 L324.3,376.1 L323.3,375.3 L322.2,374.7 L321.1,374.1 L319.8,373.7 A1.5,1.5 0 0 0 318.0,376.1 Z" fill="#fff" stroke="#000" stroke-width="2.00" stroke-linejoin="round"/><path d="M321.0,380.7 L325.3,376.8 M323.3,384.9 L329.3,381.4 M324.8,388.2 L331.3,385.8 M326.4,392.6 L332.2,391.9" fill="none" stroke="#000" stroke-width="1.10"/><path d="M329.5,397.0 L329.5,397.4 L329.4,398.0 L329.3,398.7 L329.2,399.4 L329.1,400.2 L329.1,401.1 L329.0,401.8 L328.9,402.5 L328.8,403.1 L328.8,403.5" fill="none" stroke="#000" stroke-width="3.8" stroke-linecap="round" stroke-linejoin="round"/><path d="M329.5,397.0 L329.5,397.4 L329.4,398.0 L329.3,398.7 L329.2,399.4 L329.1,400.2 L329.1,401.1 L329.0,401.8 L328.9,402.5 L328.8,403.1 L328.8,403.5" fill="none" stroke="#fff" stroke-width="1.5" stroke-linecap="round" stroke-linejoin="round"/><path d="M362.6,483.0 L362.5,482.2 L362.4,481.2 L362.3,480.0 L362.2,478.7 L362.0,477.2 L361.9,475.8 L361.7,474.2 L361.6,472.7 L361.6,471.3 L361.5,470.0 L361.5,468.7 L361.5,467.5 L361.5,466.2 L361.6,465.0 L361.6,463.8 L361.7,462.6 L361.8,461.4 L361.9,460.2 L361.9,459.1 L362.0,458.0 L362.1,457.0 L362.1,456.1 L362.2,455.3 L362.2,454.6 L362.3,453.8 L362.4,453.0 L362.4,452.1 L362.5,451.1 L362.5,450.0 L362.6,448.6 L362.7,447.0 L362.7,445.3 L362.7,443.3 L362.8,441.3 L362.8,439.2 L362.8,437.0 L362.9,434.8 L363.0,432.7 L363.1,430.6 L363.2,428.6 L363.4,426.6 L363.6,424.5 L363.8,422.4 L364.0,420.2 L364.3,418.1 L364.5,416.1 L364.8,414.2 L365.1,412.5 L365.3,411.0 L365.6,409.8 L365.9,408.9 L366.2,408.2 L366.5,407.8 L366.9,407.5 L367.2,407.4 L367.5,407.4 L367.8,407.4 L368.1,407.5 L368.3,407.5 L368.5,407.4" fill="none" stroke="#000" stroke-width="4.4" stroke-linecap="round" stroke-linejoin="round"/><path d="M362.6,483.0 L362.5,482.2 L362.4,481.2 L362.3,480.0 L362.2,478.7 L362.0,477.2 L361.9,475.8 L361.7,474.2 L361.6,472.7 L361.6,471.3 L361.5,470.0 L361.5,468.7 L361.5,467.5 L361.5,466.2 L361.6,465.0 L361.6,463.8 L361.7,462.6 L361.8,461.4 L361.9,460.2 L361.9,459.1 L362.0,458.0 L362.1,457.0 L362.1,456.1 L362.2,455.3 L362.2,454.6 L362.3,453.8 L362.4,453.0 L362.4,452.1 L362.5,451.1 L362.5,450.0 L362.6,448.6 L362.7,447.0 L362.7,445.3 L362.7,443.3 L362.8,441.3 L362.8,439.2 L362.8,437.0 L362.9,434.8 L363.0,432.7 L363.1,430.6 L363.2,428.6 L363.4,426.6 L363.6,424.5 L363.8,422.4 L364.0,420.2 L364.3,418.1 L364.5,416.1 L364.8,414.2 L365.1,412.5 L365.3,411.0 L365.6,409.8 L365.9,408.9 L366.2,408.2 L366.5,407.8 L366.9,407.5 L367.2,407.4 L367.5,407.4 L367.8,407.4 L368.1,407.5 L368.3,407.5 L368.5,407.4" fill="none" stroke="#fff" stroke-width="2.2" stroke-linecap="round" stroke-linejoin="round"/><path d="M362.6,449.0 L362.9,448.7 L363.2,448.2 L363.7,447.7 L364.2,447.1 L364.7,446.4 L365.2,445.8 L365.7,445.2 L366.2,444.7 L366.5,444.2 L366.8,443.9" fill="none" stroke="#000" stroke-width="4.4" stroke-linecap="round" stroke-linejoin="round"/><path d="M362.6,449.0 L362.9,448.7 L363.2,448.2 L363.7,447.7 L364.2,447.1 L364.7,446.4 L365.2,445.8 L365.7,445.2 L366.2,444.7 L366.5,444.2 L366.8,443.9" fill="none" stroke="#fff" stroke-width="2.2" stroke-linecap="round" stroke-linejoin="round"/><path d="M384.5,481.0 L384.4,480.3 L384.3,479.5 L384.2,478.5 L384.0,477.4 L383.9,476.2 L383.7,475.0 L383.6,473.7 L383.5,472.4 L383.5,471.2 L383.5,470.0 L383.6,468.9 L383.7,467.9 L383.9,466.9 L384.1,466.0 L384.3,465.0 L384.6,463.9 L384.8,462.7 L385.1,461.4 L385.3,459.8 L385.6,458.0 L385.9,455.8 L386.2,453.2 L386.5,450.2 L386.8,447.1 L387.2,443.9 L387.5,440.8 L387.8,437.8 L388.1,435.1 L388.3,432.8 L388.5,431.0 L388.6,429.7 L388.8,428.8 L388.8,428.2 L388.9,427.9 L388.9,427.8 L389.0,427.8 L389.0,427.9 L389.0,428.0 L389.0,428.1 L389.0,428.0" fill="none" stroke="#000" stroke-width="4.4" stroke-linecap="round" stroke-linejoin="round"/><path d="M384.5,481.0 L384.4,480.3 L384.3,479.5 L384.2,478.5 L384.0,477.4 L383.9,476.2 L383.7,475.0 L383.6,473.7 L383.5,472.4 L383.5,471.2 L383.5,470.0 L383.6,468.9 L383.7,467.9 L383.9,466.9 L384.1,466.0 L384.3,465.0 L384.6,463.9 L384.8,462.7 L385.1,461.4 L385.3,459.8 L385.6,458.0 L385.9,455.8 L386.2,453.2 L386.5,450.2 L386.8,447.1 L387.2,443.9 L387.5,440.8 L387.8,437.8 L388.1,435.1 L388.3,432.8 L388.5,431.0 L388.6,429.7 L388.8,428.8 L388.8,428.2 L388.9,427.9 L388.9,427.8 L389.0,427.8 L389.0,427.9 L389.0,428.0 L389.0,428.1 L389.0,428.0" fill="none" stroke="#fff" stroke-width="2.2" stroke-linecap="round" stroke-linejoin="round"/><path d="M388.5,433.0 L388.7,432.3 L389.0,431.4 L389.3,430.3 L389.7,429.0 L390.1,427.7 L390.5,426.3 L391.0,425.0 L391.5,423.7 L392.1,422.5 L392.6,421.5 L393.2,420.6 L393.9,419.7 L394.7,418.8 L395.6,418.0 L396.4,417.3 L397.2,416.6 L398.0,415.9 L398.7,415.4 L399.3,414.9 L399.7,414.5" fill="none" stroke="#000" stroke-width="4.4" stroke-linecap="round" stroke-linejoin="round"/><path d="M388.5,433.0 L388.7,432.3 L389.0,431.4 L389.3,430.3 L389.7,429.0 L390.1,427.7 L390.5,426.3 L391.0,425.0 L391.5,423.7 L392.1,422.5 L392.6,421.5 L393.2,420.6 L393.9,419.7 L394.7,418.8 L395.6,418.0 L396.4,417.3 L397.2,416.6 L398.0,415.9 L398.7,415.4 L399.3,414.9 L399.7,414.5" fill="none" stroke="#fff" stroke-width="2.2" stroke-linecap="round" stroke-linejoin="round"/><path d="M386.0,452.0 L386.3,451.8 L386.7,451.5 L387.1,451.1 L387.6,450.7 L388.1,450.3 L388.7,449.9 L389.2,449.5 L389.6,449.1 L390.0,448.8 L390.3,448.6" fill="none" stroke="#000" stroke-width="4.4" stroke-linecap="round" stroke-linejoin="round"/><path d="M386.0,452.0 L386.3,451.8 L386.7,451.5 L387.1,451.1 L387.6,450.7 L388.1,450.3 L388.7,449.9 L389.2,449.5 L389.6,449.1 L390.0,448.8 L390.3,448.6" fill="none" stroke="#fff" stroke-width="2.2" stroke-linecap="round" stroke-linejoin="round"/><path d="M347.0,481.0 L347.5,480.8 L348.1,480.6 L348.7,480.3 L349.5,480.0 L350.4,479.7 L351.3,479.4 L352.2,479.1 L353.1,478.8 L354.1,478.6 L355.0,478.5 L355.9,478.4 L356.9,478.4 L357.9,478.4 L358.9,478.4 L359.9,478.5 L360.9,478.5 L361.9,478.6 L363.0,478.8 L364.0,478.9 L365.0,479.0 L366.0,479.2 L366.9,479.3 L367.8,479.6 L368.8,479.8 L369.7,480.1 L370.6,480.3 L371.6,480.5 L372.7,480.7 L373.8,480.9 L375.0,481.0 L376.3,481.1 L377.7,481.1 L379.2,481.1 L380.7,481.1 L382.2,481.0 L383.8,480.9 L385.4,480.8 L387.0,480.7 L388.5,480.6 L390.0,480.5 L391.5,480.4 L393.1,480.2 L394.7,479.9 L396.3,479.7 L397.9,479.5 L399.5,479.2 L400.9,479.0 L402.1,478.8 L403.2,478.6 L404.0,478.5" fill="none" stroke="#000" stroke-width="3.8" stroke-linecap="round" stroke-linejoin="round"/><path d="M347.0,481.0 L347.5,480.8 L348.1,480.6 L348.7,480.3 L349.5,480.0 L350.4,479.7 L351.3,479.4 L352.2,479.1 L353.1,478.8 L354.1,478.6 L355.0,478.5 L355.9,478.4 L356.9,478.4 L357.9,478.4 L358.9,478.4 L359.9,478.5 L360.9,478.5 L361.9,478.6 L363.0,478.8 L364.0,478.9 L365.0,479.0 L366.0,479.2 L366.9,479.3 L367.8,479.6 L368.8,479.8 L369.7,480.1 L370.6,480.3 L371.6,480.5 L372.7,480.7 L373.8,480.9 L375.0,481.0 L376.3,481.1 L377.7,481.1 L379.2,481.1 L380.7,481.1 L382.2,481.0 L383.8,480.9 L385.4,480.8 L387.0,480.7 L388.5,480.6 L390.0,480.5 L391.5,480.4 L393.1,480.2 L394.7,479.9 L396.3,479.7 L397.9,479.5 L399.5,479.2 L400.9,479.0 L402.1,478.8 L403.2,478.6 L404.0,478.5" fill="none" stroke="#fff" stroke-width="1.7" stroke-linecap="round" stroke-linejoin="round"/><path d="M351.0,476.0 L351.4,476.0 L352.0,476.1 L352.6,476.1 L353.3,476.1 L354.1,476.2 L354.9,476.3 L355.7,476.4 L356.5,476.5 L357.3,476.7 L358.0,477.0 L358.7,477.3 L359.4,477.8 L360.1,478.3 L360.8,478.8 L361.6,479.4 L362.3,480.0 L363.0,480.5 L363.7,481.1 L364.3,481.6 L365.0,482.0 L365.7,482.4 L366.4,482.8 L367.1,483.1 L367.8,483.5 L368.4,483.8 L369.1,484.1 L369.7,484.4 L370.2,484.6 L370.6,484.8 L371.0,485.0" fill="none" stroke="#000" stroke-width="3.8" stroke-linecap="round" stroke-linejoin="round"/><path d="M351.0,476.0 L351.4,476.0 L352.0,476.1 L352.6,476.1 L353.3,476.1 L354.1,476.2 L354.9,476.3 L355.7,476.4 L356.5,476.5 L357.3,476.7 L358.0,477.0 L358.7,477.3 L359.4,477.8 L360.1,478.3 L360.8,478.8 L361.6,479.4 L362.3,480.0 L363.0,480.5 L363.7,481.1 L364.3,481.6 L365.0,482.0 L365.7,482.4 L366.4,482.8 L367.1,483.1 L367.8,483.5 L368.4,483.8 L369.1,484.1 L369.7,484.4 L370.2,484.6 L370.6,484.8 L371.0,485.0" fill="none" stroke="#fff" stroke-width="1.5" stroke-linecap="round" stroke-linejoin="round"/><path d="M378.0,485.0 L378.5,484.9 L379.1,484.7 L379.8,484.5 L380.7,484.3 L381.6,484.1 L382.5,483.8 L383.4,483.6 L384.3,483.4 L385.2,483.2 L386.0,483.0 L386.8,482.9 L387.6,482.7 L388.4,482.6 L389.2,482.5 L390.0,482.4 L390.8,482.3 L391.4,482.2 L392.1,482.1 L392.6,482.1 L393.0,482.0" fill="none" stroke="#000" stroke-width="3.8" stroke-linecap="round" stroke-linejoin="round"/><path d="M378.0,485.0 L378.5,484.9 L379.1,484.7 L379.8,484.5 L380.7,484.3 L381.6,484.1 L382.5,483.8 L383.4,483.6 L384.3,483.4 L385.2,483.2 L386.0,483.0 L386.8,482.9 L387.6,482.7 L388.4,482.6 L389.2,482.5 L390.0,482.4 L390.8,482.3 L391.4,482.2 L392.1,482.1 L392.6,482.1 L393.0,482.0" fill="none" stroke="#fff" stroke-width="1.5" stroke-linecap="round" stroke-linejoin="round"/><path d="M368.7,409.3 L370.1,409.2 L371.4,408.8 L372.6,408.3 L373.8,407.7 L374.9,407.1 L376.0,406.4 L377.0,405.6 L378.0,404.7 L378.9,403.8 L379.7,402.8 L380.4,401.8 L381.1,400.7 L381.7,399.5 L382.2,398.4 L382.6,397.1 L382.9,395.9 L383.1,394.6 L383.2,393.3 L383.3,392.1 L383.2,390.7 L383.1,389.4 L382.8,388.1 L382.4,386.8 L381.8,385.5 A1.5,1.5 0 0 0 378.8,385.7 L378.8,385.7 L378.2,386.9 L377.9,388.0 L377.5,389.1 L377.2,390.1 L376.8,391.0 L376.4,392.0 L376.1,392.8 L375.7,393.7 L375.3,394.5 L374.9,395.3 L374.5,396.0 L374.1,396.8 L373.7,397.5 L373.2,398.3 L372.8,399.0 L372.3,399.8 L371.8,400.6 L371.2,401.3 L370.6,402.1 L370.0,403.0 L369.4,403.8 L368.6,404.7 L367.9,405.6 L367.1,406.7 A1.5,1.5 0 0 0 368.7,409.3 Z" fill="#fff" stroke="#000" stroke-width="2.00" stroke-linejoin="round"/><path d="M374.9,407.1 L370.6,402.1 M379.7,402.8 L373.2,398.3 M382.2,398.4 L374.9,395.3 M383.3,392.1 L376.8,391.0" fill="none" stroke="#000" stroke-width="1.10"/><path d="M364.5,425.4 L364.3,424.2 L363.9,423.0 L363.4,421.9 L362.9,420.8 L362.3,419.8 L361.6,418.8 L360.9,417.9 L360.1,417.0 L359.2,416.2 L358.4,415.5 L357.4,414.8 L356.4,414.1 L355.4,413.6 L354.4,413.1 L353.3,412.6 L352.2,412.3 L351.0,412.0 L349.9,411.8 L348.7,411.7 L347.5,411.6 L346.3,411.7 L345.1,411.8 L343.9,412.0 L342.7,412.4 A1.5,1.5 0 0 0 342.5,415.4 L342.5,415.4 L343.6,415.9 L344.6,416.3 L345.6,416.7 L346.5,417.0 L347.4,417.4 L348.3,417.7 L349.1,418.1 L349.9,418.5 L350.6,418.9 L351.4,419.3 L352.1,419.7 L352.8,420.1 L353.6,420.6 L354.3,421.0 L355.0,421.5 L355.7,422.0 L356.4,422.5 L357.1,423.0 L357.9,423.6 L358.6,424.2 L359.4,424.9 L360.1,425.6 L360.9,426.3 L361.9,427.0 A1.5,1.5 0 0 0 364.5,425.4 Z" fill="#fff" stroke="#000" stroke-width="2.00" stroke-linejoin="round"/><path d="M362.3,419.8 L357.9,423.6 M358.4,415.5 L354.3,421.0 M354.4,413.1 L351.4,419.3 M348.7,411.7 L347.4,417.4" fill="none" stroke="#000" stroke-width="1.10"/><path d="M367.9,444.9 L369.0,444.5 L370.0,443.9 L370.9,443.3 L371.7,442.5 L372.5,441.8 L373.2,441.0 L373.9,440.1 L374.5,439.3 L375.1,438.3 L375.6,437.4 L376.1,436.4 L376.5,435.4 L376.8,434.4 L377.1,433.3 L377.3,432.3 L377.4,431.2 L377.5,430.1 L377.5,429.0 L377.4,428.0 L377.3,426.9 L377.1,425.8 L376.9,424.7 L376.5,423.6 L375.9,422.6 A1.5,1.5 0 0 0 372.9,422.8 L372.9,422.8 L372.4,423.8 L372.1,424.7 L371.8,425.7 L371.6,426.5 L371.3,427.4 L371.0,428.2 L370.8,429.0 L370.5,429.8 L370.2,430.6 L370.0,431.4 L369.7,432.1 L369.4,432.9 L369.2,433.6 L368.9,434.4 L368.6,435.1 L368.3,435.9 L368.0,436.7 L367.7,437.5 L367.4,438.3 L367.0,439.1 L366.7,440.0 L366.3,440.9 L366.0,441.8 L365.7,442.9 A1.5,1.5 0 0 0 367.9,444.9 Z" fill="#fff" stroke="#000" stroke-width="2.00" stroke-linejoin="round"/><path d="M372.5,441.8 L367.4,438.3 M375.6,437.4 L368.9,434.4 M377.1,433.3 L370.0,431.4 M377.4,428.0 L371.3,427.4" fill="none" stroke="#000" stroke-width="1.10"/><path d="M389.8,427.9 L389.8,426.4 L389.6,425.1 L389.5,423.8 L389.3,422.6 L389.2,421.5 L389.1,420.4 L389.1,419.3 L389.1,418.3 L389.1,417.3 L389.1,416.4 L389.2,415.4 L389.3,414.5 L389.3,413.5 L389.5,412.6 L389.6,411.6 L389.7,410.6 L389.9,409.6 L390.1,408.6 L390.4,407.5 L390.7,406.4 L391.0,405.3 L391.4,404.1 L391.8,402.8 L392.1,401.3 A1.5,1.5 0 0 0 389.7,399.5 L389.7,399.5 L388.3,400.2 L387.1,401.2 L386.1,402.2 L385.1,403.3 L384.2,404.5 L383.4,405.7 L382.7,407.0 L382.1,408.3 L381.6,409.6 L381.2,411.0 L381.0,412.3 L380.8,413.7 L380.7,415.2 L380.8,416.6 L380.9,418.0 L381.2,419.4 L381.6,420.8 L382.0,422.1 L382.6,423.4 L383.3,424.7 L384.1,426.0 L384.9,427.2 L385.9,428.3 L387.2,429.3 A1.5,1.5 0 0 0 389.8,427.9 Z" fill="#fff" stroke="#000" stroke-width="2.00" stroke-linejoin="round"/><path d="M389.3,422.6 L383.3,424.7 M389.1,418.3 L381.2,419.4 M389.3,414.5 L380.8,413.7 M389.7,410.6 L382.1,408.3 M390.7,406.4 L385.1,403.3" fill="none" stroke="#000" stroke-width="1.10"/><path d="M401.1,414.9 L402.0,414.0 L402.6,413.2 L403.2,412.4 L403.8,411.7 L404.4,411.1 L404.9,410.5 L405.5,409.9 L406.0,409.4 L406.5,408.9 L407.0,408.4 L407.5,408.0 L408.0,407.5 L408.5,407.1 L409.0,406.7 L409.6,406.2 L410.2,405.8 L410.8,405.4 L411.4,404.9 L412.1,404.5 L412.8,404.0 L413.6,403.6 L414.5,403.1 L415.4,402.6 L416.4,401.9 A1.5,1.5 0 0 0 416.0,398.9 L416.0,398.9 L414.8,398.4 L413.6,398.2 L412.4,398.2 L411.3,398.2 L410.1,398.3 L408.9,398.5 L407.8,398.7 L406.7,399.1 L405.7,399.6 L404.7,400.1 L403.7,400.7 L402.8,401.4 L402.0,402.2 L401.2,403.1 L400.5,404.0 L399.9,405.0 L399.4,406.0 L398.9,407.0 L398.5,408.1 L398.3,409.3 L398.1,410.4 L398.0,411.6 L398.0,412.9 L398.3,414.1 A1.5,1.5 0 0 0 401.1,414.9 Z" fill="#fff" stroke="#000" stroke-width="2.00" stroke-linejoin="round"/><path d="M404.4,411.1 L398.5,408.1 M407.0,408.4 L401.2,403.1 M409.0,406.7 L404.7,400.1 M412.1,404.5 L410.1,398.3" fill="none" stroke="#000" stroke-width="1.10"/><path d="M391.6,449.3 L392.7,448.6 L393.5,447.8 L394.4,447.0 L395.2,446.3 L395.9,445.6 L396.7,445.0 L397.5,444.4 L398.3,443.8 L399.0,443.2 L399.8,442.7 L400.5,442.2 L401.3,441.7 L402.0,441.2 L402.8,440.7 L403.6,440.2 L404.4,439.8 L405.3,439.3 L406.2,438.9 L407.1,438.4 L408.0,438.0 L409.0,437.5 L410.0,437.1 L411.1,436.6 L412.2,436.0 A1.5,1.5 0 0 0 412.0,433.0 L412.0,433.0 L410.7,432.6 L409.4,432.4 L408.0,432.3 L406.8,432.4 L405.5,432.5 L404.2,432.6 L403.0,432.9 L401.7,433.2 L400.6,433.7 L399.4,434.2 L398.3,434.7 L397.2,435.4 L396.2,436.1 L395.2,436.9 L394.3,437.7 L393.4,438.6 L392.6,439.6 L391.8,440.6 L391.2,441.7 L390.5,442.8 L390.0,444.0 L389.5,445.2 L389.1,446.5 L389.0,447.9 A1.5,1.5 0 0 0 391.6,449.3 Z" fill="#fff" stroke="#000" stroke-width="2.00" stroke-linejoin="round"/><path d="M395.9,445.6 L391.2,441.7 M399.8,442.7 L395.2,436.9 M402.8,440.7 L399.4,434.2 M407.1,438.4 L405.5,432.5" fill="none" stroke="#000" stroke-width="1.10"/></g><g id="perith"><path d="M198.8,492.9 L199.4,492.9 L200.1,493.0 L200.9,493.0 L201.8,493.1 L202.6,493.3 L203.5,493.4 L204.3,493.6 L205.0,493.8 L205.6,494.0 L206.2,494.3 L206.8,494.5 L207.4,494.8 L207.9,495.1 L208.4,495.4 L208.9,495.8 L209.4,496.2 L209.9,496.6 L210.4,497.1 L210.9,497.7 L211.4,498.2 L211.8,498.8 L212.3,499.4 L212.6,499.9 L213.0,500.5 L213.3,501.0 L213.6,501.6 L213.8,502.1 L214.0,502.6 L214.2,503.2 L214.4,503.8 L214.6,504.4 L214.7,505.0 L214.8,505.7 L214.9,506.3 L215.0,507.1 L215.0,507.8 L215.1,508.5 L215.2,509.3 L215.2,510.1 L215.3,511.0 L215.4,511.9 L215.5,512.9 L215.5,513.9 L215.6,515.0 L215.7,516.0 L215.8,517.1 L216.0,518.1 L216.2,519.0 L216.4,519.9 L216.7,520.8 L217.0,521.6 L217.3,522.4 L217.6,523.2 L218.0,524.0 L218.5,524.7 L219.0,525.5 L219.6,526.2 L220.2,526.9 L220.9,527.6 L221.7,528.2 L222.5,528.9 L223.3,529.6 L224.2,530.3 L225.0,531.0 L225.9,531.8 L226.8,532.5 L227.7,533.3 L228.7,534.1 L229.7,534.9 L230.7,535.7 L231.6,536.6 L232.6,537.6 L233.6,538.6 L234.5,539.7 L235.5,540.9 L236.5,542.1 L237.4,543.3 L238.4,544.5 L239.2,545.8 L240.0,547.0 L240.7,548.2 L241.4,549.4 L242.1,550.6 L242.7,551.9 L243.2,553.1 L243.7,554.4 L244.2,555.7 L244.6,557.0 L245.0,558.4 L245.3,559.7 L245.5,561.1 L245.7,562.5 L245.9,564.0 L246.0,565.4 L246.0,567.0 L246.0,568.5 L245.9,570.1 L245.8,571.8 L245.6,573.5 L245.4,575.2 L245.0,576.9 L244.6,578.6 L244.1,580.3 L243.5,582.0 L242.8,583.6 L241.9,585.3 L240.9,587.0 L239.9,588.6 L238.8,590.2 L237.6,591.8 L236.3,593.2 L235.0,594.5 L233.6,595.7 L232.2,596.8 L230.7,597.9 L229.1,598.9 L227.4,599.8 L225.8,600.6 L224.1,601.3 L222.4,602.0 L220.7,602.6 L218.9,603.0 L217.1,603.4 L215.3,603.7 L213.5,604.0 L211.6,604.2 L209.8,604.3 L208.0,604.5 L206.2,604.6 L204.4,604.7 L202.6,604.8 L200.8,604.8 L199.0,604.8 L197.2,604.7 L195.4,604.6 L193.6,604.5 L191.8,604.3 L190.0,604.2 L188.1,604.0 L186.3,603.7 L184.5,603.4 L182.7,603.0 L180.9,602.6 L179.2,602.0 L177.5,601.3 L175.8,600.6 L174.2,599.8 L172.5,598.9 L170.9,597.9 L169.4,596.8 L168.0,595.7 L166.6,594.5 L165.3,593.2 L164.0,591.8 L162.8,590.2 L161.7,588.6 L160.7,587.0 L159.7,585.3 L158.8,583.6 L158.1,582.0 L157.5,580.3 L157.0,578.6 L156.6,576.9 L156.2,575.2 L156.0,573.5 L155.8,571.8 L155.7,570.1 L155.6,568.5 L155.6,567.0 L155.6,565.4 L155.7,564.0 L155.9,562.5 L156.1,561.1 L156.3,559.7 L156.6,558.4 L157.0,557.0 L157.4,555.7 L157.9,554.4 L158.4,553.1 L158.9,551.9 L159.5,550.6 L160.2,549.4 L160.9,548.2 L161.6,547.0 L162.4,545.8 L163.2,544.5 L164.2,543.3 L165.1,542.1 L166.1,540.9 L167.1,539.7 L168.0,538.6 L169.0,537.6 L170.0,536.6 L170.9,535.7 L171.9,534.9 L172.9,534.1 L173.9,533.3 L174.8,532.5 L175.7,531.8 L176.6,531.0 L177.4,530.3 L178.3,529.6 L179.1,528.9 L179.9,528.2 L180.7,527.6 L181.4,526.9 L182.0,526.2 L182.6,525.5 L183.1,524.7 L183.6,524.0 L184.0,523.2 L184.3,522.4 L184.6,521.6 L184.9,520.8 L185.2,519.9 L185.4,519.0 L185.6,518.1 L185.8,517.1 L185.9,516.0 L186.0,515.0 L186.1,513.9 L186.1,512.9 L186.2,511.9 L186.3,511.0 L186.4,510.1 L186.4,509.3 L186.5,508.5 L186.6,507.8 L186.6,507.1 L186.7,506.3 L186.8,505.7 L186.9,505.0 L187.0,504.4 L187.2,503.8 L187.4,503.2 L187.6,502.6 L187.8,502.1 L188.0,501.6 L188.3,501.0 L188.6,500.5 L189.0,499.9 L189.3,499.4 L189.8,498.8 L190.2,498.2 L190.7,497.7 L191.2,497.1 L191.7,496.6 L192.2,496.2 L192.7,495.8 L193.3,495.4 L193.9,495.1 L194.5,494.8 L195.1,494.5 L195.6,494.2 L196.1,494.0 L196.6,493.8 L197.0,493.6 L197.2,493.4 L197.4,493.3 L197.6,493.1 L197.8,493.0 L198.0,493.0 L198.3,492.9Z" fill="#fff" stroke="none"/><path d="M198.8,494.5 L199.3,494.5 L200.0,494.6 L200.7,494.6 L201.5,494.7 L202.4,494.9 L203.2,495.0 L203.9,495.2 L204.5,495.3 L205.1,495.5 L205.6,495.7 L206.1,495.9 L206.6,496.2 L207.0,496.5 L207.5,496.7 L207.9,497.1 L208.4,497.4 L208.8,497.8 L209.3,498.3 L209.7,498.7 L210.1,499.2 L210.6,499.8 L211.0,500.3 L211.3,500.8 L211.6,501.3 L211.9,501.8 L212.1,502.3 L212.4,502.7 L212.5,503.2 L212.7,503.7 L212.9,504.2 L213.0,504.7 L213.1,505.3 L213.2,505.9 L213.3,506.5 L213.4,507.2 L213.5,507.9 L213.5,508.6 L213.6,509.4 L213.6,510.3 L213.7,511.2 L213.8,512.0 L213.9,513.0 L213.9,514.0 L214.0,515.1 L214.1,516.2 L214.2,517.3 L214.4,518.4 L214.6,519.4 L214.9,520.3 L215.2,521.2 L215.5,522.1 L215.8,523.0 L216.2,523.9 L216.6,524.8 L217.1,525.6 L217.7,526.5 L218.4,527.3 L219.1,528.1 L219.9,528.8 L220.7,529.5 L221.5,530.1 L222.3,530.8 L223.1,531.5 L224.0,532.2 L224.8,533.0 L225.8,533.7 L226.7,534.5 L227.7,535.3 L228.7,536.1 L229.6,536.9 L230.5,537.8 L231.4,538.7 L232.4,539.7 L233.3,540.8 L234.3,541.9 L235.2,543.1 L236.2,544.3 L237.1,545.5 L237.9,546.7 L238.6,547.8 L239.4,549.0 L240.0,550.2 L240.6,551.4 L241.2,552.5 L241.8,553.7 L242.2,554.9 L242.7,556.2 L243.1,557.4 L243.4,558.7 L243.7,560.0 L244.0,561.4 L244.2,562.7 L244.3,564.1 L244.4,565.5 L244.4,567.0 L244.4,568.4 L244.3,570.0 L244.2,571.6 L244.0,573.3 L243.8,574.9 L243.5,576.6 L243.1,578.2 L242.6,579.8 L242.0,581.4 L241.3,582.9 L240.5,584.5 L239.6,586.1 L238.6,587.7 L237.5,589.3 L236.3,590.7 L235.1,592.1 L233.9,593.3 L232.6,594.5 L231.2,595.6 L229.8,596.6 L228.3,597.5 L226.7,598.4 L225.1,599.1 L223.5,599.9 L221.9,600.5 L220.2,601.0 L218.6,601.5 L216.8,601.8 L215.1,602.1 L213.3,602.4 L211.5,602.6 L209.7,602.7 L207.9,602.9 L206.1,603.0 L204.3,603.1 L202.6,603.2 L200.8,603.2 L199.0,603.2 L197.3,603.1 L195.5,603.0 L193.7,602.9 L191.9,602.7 L190.1,602.6 L188.3,602.4 L186.5,602.1 L184.8,601.8 L183.0,601.5 L181.4,601.0 L179.7,600.5 L178.1,599.9 L176.5,599.1 L174.9,598.4 L173.3,597.5 L171.8,596.6 L170.4,595.6 L169.0,594.5 L167.7,593.3 L166.5,592.1 L165.3,590.7 L164.1,589.3 L163.0,587.7 L162.0,586.1 L161.1,584.5 L160.3,582.9 L159.6,581.4 L159.0,579.8 L158.5,578.2 L158.1,576.6 L157.8,574.9 L157.6,573.3 L157.4,571.6 L157.3,570.0 L157.2,568.4 L157.2,567.0 L157.2,565.5 L157.3,564.1 L157.4,562.7 L157.6,561.4 L157.9,560.0 L158.2,558.7 L158.5,557.4 L158.9,556.2 L159.4,554.9 L159.8,553.7 L160.4,552.5 L161.0,551.4 L161.6,550.2 L162.2,549.0 L163.0,547.8 L163.7,546.7 L164.5,545.5 L165.4,544.3 L166.4,543.1 L167.3,541.9 L168.3,540.8 L169.2,539.7 L170.2,538.7 L171.1,537.8 L172.0,536.9 L172.9,536.1 L173.9,535.3 L174.9,534.5 L175.8,533.7 L176.8,533.0 L177.6,532.2 L178.5,531.5 L179.3,530.8 L180.1,530.1 L180.9,529.5 L181.7,528.8 L182.5,528.1 L183.2,527.3 L183.9,526.5 L184.5,525.6 L185.0,524.8 L185.4,523.9 L185.8,523.0 L186.1,522.1 L186.4,521.2 L186.7,520.3 L187.0,519.4 L187.2,518.4 L187.4,517.3 L187.5,516.2 L187.6,515.1 L187.7,514.0 L187.7,513.0 L187.8,512.0 L187.9,511.2 L188.0,510.3 L188.0,509.4 L188.1,508.6 L188.1,507.9 L188.2,507.2 L188.3,506.5 L188.4,505.9 L188.5,505.3 L188.6,504.7 L188.7,504.2 L188.9,503.7 L189.1,503.2 L189.2,502.7 L189.5,502.3 L189.7,501.8 L190.0,501.3 L190.3,500.8 L190.6,500.3 L191.0,499.8 L191.5,499.2 L191.9,498.7 L192.3,498.3 L192.8,497.8 L193.2,497.4 L193.6,497.1 L194.1,496.8 L194.6,496.5 L195.2,496.2 L195.8,496.0 L196.3,495.7 L196.8,495.5 L197.3,495.2 L197.8,495.0 L198.1,494.7 L198.4,494.6 L198.4,494.5 L198.4,494.5 L198.4,494.5 L198.5,494.5Z" fill="none" stroke="#111" stroke-width="2.8" stroke-dasharray="0.8 2.2"/><path d="M198.8,497.3 L199.2,497.3 L199.8,497.3 L200.4,497.4 L201.2,497.5 L201.9,497.6 L202.6,497.7 L203.2,497.9 L203.7,498.0 L204.1,498.2 L204.5,498.3 L204.9,498.5 L205.2,498.6 L205.6,498.8 L205.9,499.0 L206.2,499.3 L206.6,499.6 L206.9,499.9 L207.2,500.2 L207.6,500.6 L208.0,501.0 L208.3,501.5 L208.7,501.9 L209.0,502.4 L209.2,502.8 L209.4,503.1 L209.6,503.5 L209.8,503.8 L209.9,504.2 L210.0,504.5 L210.2,504.9 L210.3,505.4 L210.4,505.9 L210.5,506.4 L210.6,506.9 L210.6,507.4 L210.7,508.1 L210.7,508.8 L210.8,509.6 L210.8,510.5 L210.9,511.4 L211.0,512.3 L211.1,513.2 L211.1,514.2 L211.2,515.3 L211.3,516.5 L211.5,517.7 L211.7,518.9 L211.9,520.0 L212.2,521.1 L212.5,522.1 L212.8,523.1 L213.2,524.1 L213.7,525.1 L214.2,526.1 L214.8,527.1 L215.5,528.1 L216.3,529.1 L217.1,530.0 L218.0,530.8 L218.9,531.6 L219.7,532.3 L220.5,533.0 L221.3,533.6 L222.1,534.3 L223.0,535.1 L224.0,535.9 L225.0,536.7 L225.9,537.5 L226.8,538.2 L227.7,539.0 L228.6,539.8 L229.4,540.6 L230.3,541.6 L231.2,542.6 L232.1,543.7 L233.0,544.8 L233.9,546.0 L234.8,547.1 L235.6,548.2 L236.3,549.3 L236.9,550.4 L237.6,551.5 L238.2,552.6 L238.7,553.7 L239.2,554.8 L239.6,555.9 L240.0,557.0 L240.4,558.2 L240.7,559.4 L241.0,560.6 L241.2,561.9 L241.4,563.1 L241.5,564.4 L241.6,565.6 L241.6,567.0 L241.6,568.3 L241.5,569.8 L241.4,571.4 L241.2,572.9 L241.0,574.5 L240.7,576.0 L240.4,577.5 L240.0,578.9 L239.4,580.3 L238.8,581.7 L238.0,583.2 L237.2,584.7 L236.2,586.2 L235.2,587.6 L234.2,588.9 L233.1,590.2 L232.0,591.3 L230.8,592.3 L229.6,593.3 L228.2,594.2 L226.9,595.1 L225.4,595.9 L223.9,596.6 L222.4,597.3 L220.9,597.9 L219.4,598.4 L217.9,598.8 L216.3,599.1 L214.7,599.4 L212.9,599.6 L211.2,599.8 L209.4,600.0 L207.6,600.1 L205.9,600.2 L204.2,600.3 L202.5,600.4 L200.8,600.4 L199.1,600.4 L197.4,600.3 L195.7,600.2 L194.0,600.1 L192.2,600.0 L190.4,599.8 L188.7,599.6 L186.9,599.4 L185.3,599.1 L183.7,598.8 L182.2,598.4 L180.7,597.9 L179.2,597.3 L177.7,596.6 L176.2,595.9 L174.7,595.1 L173.4,594.2 L172.0,593.3 L170.8,592.3 L169.6,591.3 L168.5,590.2 L167.4,588.9 L166.4,587.6 L165.4,586.2 L164.4,584.7 L163.6,583.2 L162.8,581.7 L162.2,580.3 L161.6,578.9 L161.2,577.5 L160.9,576.0 L160.6,574.5 L160.4,572.9 L160.2,571.4 L160.1,569.8 L160.0,568.3 L160.0,567.0 L160.0,565.6 L160.1,564.4 L160.2,563.1 L160.4,561.9 L160.6,560.6 L160.9,559.4 L161.2,558.2 L161.6,557.0 L162.0,555.9 L162.4,554.8 L162.9,553.7 L163.4,552.6 L164.0,551.5 L164.7,550.4 L165.3,549.3 L166.0,548.2 L166.8,547.1 L167.7,546.0 L168.6,544.8 L169.5,543.7 L170.4,542.6 L171.3,541.6 L172.2,540.6 L173.0,539.8 L173.9,539.0 L174.8,538.2 L175.7,537.5 L176.6,536.7 L177.6,535.9 L178.6,535.1 L179.5,534.3 L180.3,533.6 L181.1,533.0 L181.9,532.3 L182.7,531.6 L183.6,530.8 L184.5,530.0 L185.3,529.1 L186.1,528.1 L186.8,527.1 L187.4,526.1 L187.9,525.1 L188.4,524.1 L188.8,523.1 L189.1,522.1 L189.4,521.1 L189.7,520.0 L189.9,518.9 L190.1,517.7 L190.3,516.5 L190.4,515.3 L190.5,514.2 L190.5,513.2 L190.6,512.3 L190.7,511.4 L190.8,510.5 L190.8,509.6 L190.9,508.8 L190.9,508.1 L191.0,507.4 L191.0,506.9 L191.1,506.4 L191.2,505.9 L191.3,505.4 L191.4,504.9 L191.6,504.5 L191.7,504.2 L191.8,503.8 L192.0,503.5 L192.2,503.1 L192.4,502.8 L192.6,502.4 L192.9,501.9 L193.3,501.5 L193.6,501.0 L194.0,500.6 L194.4,500.2 L194.7,499.9 L195.0,499.6 L195.3,499.4 L195.6,499.2 L196.0,499.0 L196.4,498.7 L196.9,498.5 L197.5,498.3 L198.0,498.0 L198.6,497.7 L199.2,497.4 L199.8,497.0 L200.1,496.8 L199.9,496.9 L199.5,497.1 L199.0,497.3 L198.7,497.3Z" fill="none" stroke="#111" stroke-width="2.8" stroke-dasharray="0.8 2.2" stroke-dashoffset="1.5"/><path d="M198.8,495.9 L199.3,495.9 L199.9,496.0 L200.6,496.0 L201.4,496.1 L202.1,496.2 L202.9,496.4 L203.6,496.5 L204.1,496.7 L204.6,496.8 L205.1,497.0 L205.5,497.2 L205.9,497.4 L206.3,497.6 L206.7,497.9 L207.1,498.2 L207.5,498.5 L207.9,498.8 L208.2,499.2 L208.7,499.7 L209.1,500.1 L209.4,500.6 L209.8,501.1 L210.1,501.6 L210.4,502.0 L210.7,502.5 L210.9,502.9 L211.1,503.3 L211.2,503.7 L211.4,504.1 L211.5,504.6 L211.6,505.1 L211.8,505.6 L211.9,506.1 L211.9,506.7 L212.0,507.3 L212.1,508.0 L212.1,508.7 L212.2,509.5 L212.2,510.4 L212.3,511.3 L212.4,512.2 L212.5,513.1 L212.5,514.1 L212.6,515.2 L212.7,516.3 L212.9,517.5 L213.0,518.6 L213.3,519.7 L213.5,520.7 L213.8,521.7 L214.1,522.6 L214.5,523.5 L214.9,524.5 L215.4,525.4 L216.0,526.4 L216.6,527.3 L217.3,528.2 L218.1,529.0 L218.9,529.8 L219.8,530.5 L220.6,531.2 L221.4,531.9 L222.2,532.6 L223.0,533.3 L223.9,534.0 L224.9,534.8 L225.9,535.6 L226.8,536.4 L227.8,537.2 L228.7,538.0 L229.6,538.8 L230.4,539.7 L231.3,540.6 L232.3,541.7 L233.2,542.8 L234.1,544.0 L235.0,545.1 L235.9,546.3 L236.7,547.4 L237.5,548.6 L238.1,549.7 L238.8,550.9 L239.4,552.0 L240.0,553.1 L240.5,554.3 L240.9,555.4 L241.3,556.6 L241.7,557.8 L242.0,559.1 L242.3,560.3 L242.6,561.6 L242.8,562.9 L242.9,564.2 L243.0,565.6 L243.0,567.0 L243.0,568.4 L242.9,569.9 L242.8,571.5 L242.6,573.1 L242.4,574.7 L242.1,576.3 L241.7,577.9 L241.3,579.4 L240.7,580.8 L240.1,582.3 L239.3,583.9 L238.4,585.4 L237.4,587.0 L236.3,588.4 L235.2,589.8 L234.1,591.1 L232.9,592.3 L231.7,593.4 L230.4,594.4 L229.0,595.4 L227.6,596.3 L226.0,597.1 L224.5,597.9 L222.9,598.6 L221.4,599.2 L219.8,599.7 L218.2,600.1 L216.6,600.5 L214.9,600.8 L213.1,601.0 L211.3,601.2 L209.5,601.4 L207.8,601.5 L206.0,601.6 L204.3,601.7 L202.5,601.8 L200.8,601.8 L199.1,601.8 L197.3,601.7 L195.6,601.6 L193.8,601.5 L192.1,601.4 L190.3,601.2 L188.5,601.0 L186.7,600.8 L185.0,600.5 L183.4,600.1 L181.8,599.7 L180.2,599.2 L178.7,598.6 L177.1,597.9 L175.6,597.1 L174.0,596.3 L172.6,595.4 L171.2,594.4 L169.9,593.4 L168.7,592.3 L167.5,591.1 L166.4,589.8 L165.3,588.4 L164.2,587.0 L163.2,585.4 L162.3,583.9 L161.5,582.3 L160.9,580.8 L160.3,579.4 L159.9,577.9 L159.5,576.3 L159.2,574.7 L159.0,573.1 L158.8,571.5 L158.7,569.9 L158.6,568.4 L158.6,567.0 L158.6,565.6 L158.7,564.2 L158.8,562.9 L159.0,561.6 L159.3,560.3 L159.6,559.1 L159.9,557.8 L160.3,556.6 L160.7,555.4 L161.1,554.3 L161.6,553.1 L162.2,552.0 L162.8,550.9 L163.5,549.7 L164.1,548.6 L164.9,547.4 L165.7,546.3 L166.6,545.1 L167.5,544.0 L168.4,542.8 L169.3,541.7 L170.3,540.6 L171.2,539.7 L172.0,538.8 L172.9,538.0 L173.8,537.2 L174.8,536.4 L175.7,535.6 L176.7,534.8 L177.7,534.0 L178.6,533.3 L179.4,532.6 L180.2,531.9 L181.0,531.2 L181.8,530.5 L182.7,529.8 L183.5,529.0 L184.3,528.2 L185.0,527.3 L185.6,526.4 L186.2,525.4 L186.7,524.5 L187.1,523.5 L187.5,522.6 L187.8,521.7 L188.1,520.7 L188.3,519.7 L188.6,518.6 L188.7,517.5 L188.9,516.3 L189.0,515.2 L189.1,514.1 L189.1,513.1 L189.2,512.2 L189.3,511.3 L189.4,510.4 L189.4,509.5 L189.5,508.7 L189.5,508.0 L189.6,507.3 L189.7,506.7 L189.7,506.1 L189.8,505.6 L190.0,505.1 L190.1,504.6 L190.2,504.1 L190.4,503.7 L190.5,503.3 L190.7,502.9 L190.9,502.5 L191.2,502.0 L191.5,501.6 L191.8,501.1 L192.2,500.6 L192.5,500.1 L192.9,499.7 L193.4,499.2 L193.7,498.8 L194.1,498.5 L194.5,498.3 L194.9,498.0 L195.3,497.7 L195.8,497.5 L196.3,497.2 L196.9,497.0 L197.4,496.7 L198.0,496.5 L198.5,496.2 L199.0,495.9 L199.2,495.7 L199.2,495.7 L198.9,495.8 L198.7,495.9 L198.6,495.9Z" fill="none" stroke="#000" stroke-width="0.9"/><path d="M198.8,498.9 L199.1,498.9 L199.6,498.9 L200.3,499.0 L201.0,499.1 L201.7,499.2 L202.3,499.3 L202.9,499.4 L203.3,499.5 L203.6,499.7 L203.9,499.8 L204.2,499.9 L204.5,500.0 L204.7,500.2 L205.0,500.4 L205.2,500.6 L205.5,500.8 L205.8,501.0 L206.1,501.3 L206.4,501.7 L206.7,502.0 L207.1,502.4 L207.4,502.9 L207.6,503.2 L207.9,503.6 L208.0,503.9 L208.2,504.2 L208.3,504.5 L208.4,504.7 L208.5,505.0 L208.6,505.4 L208.7,505.8 L208.8,506.2 L208.9,506.6 L209.0,507.1 L209.0,507.6 L209.1,508.2 L209.1,508.9 L209.2,509.8 L209.2,510.7 L209.3,511.6 L209.4,512.4 L209.5,513.3 L209.5,514.4 L209.6,515.5 L209.7,516.7 L209.9,517.9 L210.1,519.2 L210.4,520.4 L210.7,521.5 L211.0,522.5 L211.3,523.6 L211.7,524.7 L212.2,525.8 L212.8,526.9 L213.4,528.0 L214.2,529.1 L215.1,530.2 L216.0,531.2 L216.9,532.0 L217.8,532.8 L218.7,533.5 L219.5,534.2 L220.3,534.8 L221.1,535.5 L222.0,536.3 L223.0,537.2 L224.0,537.9 L224.9,538.7 L225.8,539.4 L226.7,540.2 L227.5,540.9 L228.3,541.7 L229.1,542.7 L230.0,543.7 L230.9,544.7 L231.8,545.8 L232.7,546.9 L233.5,548.0 L234.2,549.1 L234.9,550.2 L235.6,551.2 L236.2,552.3 L236.7,553.4 L237.2,554.4 L237.7,555.5 L238.1,556.5 L238.5,557.5 L238.8,558.6 L239.1,559.8 L239.4,560.9 L239.6,562.1 L239.8,563.3 L239.9,564.5 L240.0,565.7 L240.0,567.0 L240.0,568.3 L239.9,569.7 L239.8,571.2 L239.7,572.7 L239.4,574.2 L239.2,575.7 L238.8,577.1 L238.4,578.4 L238.0,579.7 L237.4,581.0 L236.6,582.4 L235.8,583.9 L234.9,585.3 L233.9,586.6 L232.9,587.9 L231.9,589.1 L230.9,590.1 L229.8,591.1 L228.6,592.0 L227.4,592.9 L226.0,593.7 L224.7,594.5 L223.2,595.2 L221.8,595.8 L220.4,596.4 L219.0,596.8 L217.5,597.2 L216.0,597.5 L214.4,597.8 L212.8,598.0 L211.0,598.2 L209.3,598.4 L207.5,598.5 L205.8,598.6 L204.1,598.7 L202.5,598.8 L200.8,598.8 L199.1,598.8 L197.5,598.7 L195.8,598.6 L194.1,598.5 L192.3,598.4 L190.6,598.2 L188.8,598.0 L187.2,597.8 L185.6,597.5 L184.1,597.2 L182.6,596.8 L181.2,596.4 L179.8,595.8 L178.4,595.2 L176.9,594.5 L175.6,593.7 L174.2,592.9 L173.0,592.0 L171.8,591.1 L170.7,590.1 L169.7,589.1 L168.7,587.9 L167.7,586.6 L166.7,585.3 L165.8,583.9 L165.0,582.4 L164.2,581.0 L163.6,579.7 L163.2,578.4 L162.8,577.1 L162.4,575.7 L162.2,574.2 L161.9,572.7 L161.8,571.2 L161.7,569.7 L161.6,568.3 L161.6,567.0 L161.6,565.7 L161.7,564.5 L161.8,563.3 L162.0,562.1 L162.2,560.9 L162.5,559.8 L162.8,558.6 L163.1,557.5 L163.5,556.5 L163.9,555.5 L164.4,554.4 L164.9,553.4 L165.4,552.3 L166.0,551.2 L166.7,550.2 L167.4,549.1 L168.1,548.0 L168.9,546.9 L169.8,545.8 L170.7,544.7 L171.6,543.7 L172.5,542.7 L173.3,541.7 L174.1,540.9 L174.9,540.2 L175.8,539.4 L176.7,538.7 L177.6,537.9 L178.6,537.2 L179.6,536.3 L180.5,535.5 L181.3,534.8 L182.1,534.2 L182.9,533.5 L183.8,532.8 L184.7,532.0 L185.6,531.2 L186.5,530.2 L187.4,529.1 L188.2,528.0 L188.8,526.9 L189.4,525.8 L189.9,524.7 L190.3,523.6 L190.6,522.5 L190.9,521.5 L191.2,520.4 L191.5,519.2 L191.7,517.9 L191.9,516.7 L192.0,515.5 L192.1,514.4 L192.1,513.3 L192.2,512.4 L192.3,511.6 L192.4,510.7 L192.4,509.8 L192.5,508.9 L192.5,508.2 L192.6,507.6 L192.6,507.1 L192.7,506.6 L192.8,506.2 L192.9,505.8 L193.0,505.4 L193.1,505.0 L193.2,504.7 L193.3,504.5 L193.4,504.2 L193.6,503.9 L193.7,503.6 L194.0,503.2 L194.2,502.9 L194.5,502.4 L194.9,502.0 L195.2,501.7 L195.5,501.3 L195.8,501.0 L196.0,500.8 L196.2,500.7 L196.4,500.6 L196.7,500.4 L197.2,500.2 L197.6,499.9 L198.1,499.7 L198.7,499.5 L199.3,499.1 L200.1,498.7 L200.7,498.3 L201.0,498.1 L200.8,498.2 L200.1,498.6 L199.3,498.8 L198.8,498.9Z" fill="none" stroke="#000" stroke-width="1.1"/><path d="M198.8,492.9 L199.4,492.9 L200.1,493.0 L200.9,493.0 L201.8,493.1 L202.6,493.3 L203.5,493.4 L204.3,493.6 L205.0,493.8 L205.6,494.0 L206.2,494.3 L206.8,494.5 L207.4,494.8 L207.9,495.1 L208.4,495.4 L208.9,495.8 L209.4,496.2 L209.9,496.6 L210.4,497.1 L210.9,497.7 L211.4,498.2 L211.8,498.8 L212.3,499.4 L212.6,499.9 L213.0,500.5 L213.3,501.0 L213.6,501.6 L213.8,502.1 L214.0,502.6 L214.2,503.2 L214.4,503.8 L214.6,504.4 L214.7,505.0 L214.8,505.7 L214.9,506.3 L215.0,507.1 L215.0,507.8 L215.1,508.5 L215.2,509.3 L215.2,510.1 L215.3,511.0 L215.4,511.9 L215.5,512.9 L215.5,513.9 L215.6,515.0 L215.7,516.0 L215.8,517.1 L216.0,518.1 L216.2,519.0 L216.4,519.9 L216.7,520.8 L217.0,521.6 L217.3,522.4 L217.6,523.2 L218.0,524.0 L218.5,524.7 L219.0,525.5 L219.6,526.2 L220.2,526.9 L220.9,527.6 L221.7,528.2 L222.5,528.9 L223.3,529.6 L224.2,530.3 L225.0,531.0 L225.9,531.8 L226.8,532.5 L227.7,533.3 L228.7,534.1 L229.7,534.9 L230.7,535.7 L231.6,536.6 L232.6,537.6 L233.6,538.6 L234.5,539.7 L235.5,540.9 L236.5,542.1 L237.4,543.3 L238.4,544.5 L239.2,545.8 L240.0,547.0 L240.7,548.2 L241.4,549.4 L242.1,550.6 L242.7,551.9 L243.2,553.1 L243.7,554.4 L244.2,555.7 L244.6,557.0 L245.0,558.4 L245.3,559.7 L245.5,561.1 L245.7,562.5 L245.9,564.0 L246.0,565.4 L246.0,567.0 L246.0,568.5 L245.9,570.1 L245.8,571.8 L245.6,573.5 L245.4,575.2 L245.0,576.9 L244.6,578.6 L244.1,580.3 L243.5,582.0 L242.8,583.6 L241.9,585.3 L240.9,587.0 L239.9,588.6 L238.8,590.2 L237.6,591.8 L236.3,593.2 L235.0,594.5 L233.6,595.7 L232.2,596.8 L230.7,597.9 L229.1,598.9 L227.4,599.8 L225.8,600.6 L224.1,601.3 L222.4,602.0 L220.7,602.6 L218.9,603.0 L217.1,603.4 L215.3,603.7 L213.5,604.0 L211.6,604.2 L209.8,604.3 L208.0,604.5 L206.2,604.6 L204.4,604.7 L202.6,604.8 L200.8,604.8 L199.0,604.8 L197.2,604.7 L195.4,604.6 L193.6,604.5 L191.8,604.3 L190.0,604.2 L188.1,604.0 L186.3,603.7 L184.5,603.4 L182.7,603.0 L180.9,602.6 L179.2,602.0 L177.5,601.3 L175.8,600.6 L174.2,599.8 L172.5,598.9 L170.9,597.9 L169.4,596.8 L168.0,595.7 L166.6,594.5 L165.3,593.2 L164.0,591.8 L162.8,590.2 L161.7,588.6 L160.7,587.0 L159.7,585.3 L158.8,583.6 L158.1,582.0 L157.5,580.3 L157.0,578.6 L156.6,576.9 L156.2,575.2 L156.0,573.5 L155.8,571.8 L155.7,570.1 L155.6,568.5 L155.6,567.0 L155.6,565.4 L155.7,564.0 L155.9,562.5 L156.1,561.1 L156.3,559.7 L156.6,558.4 L157.0,557.0 L157.4,555.7 L157.9,554.4 L158.4,553.1 L158.9,551.9 L159.5,550.6 L160.2,549.4 L160.9,548.2 L161.6,547.0 L162.4,545.8 L163.2,544.5 L164.2,543.3 L165.1,542.1 L166.1,540.9 L167.1,539.7 L168.0,538.6 L169.0,537.6 L170.0,536.6 L170.9,535.7 L171.9,534.9 L172.9,534.1 L173.9,533.3 L174.8,532.5 L175.7,531.8 L176.6,531.0 L177.4,530.3 L178.3,529.6 L179.1,528.9 L179.9,528.2 L180.7,527.6 L181.4,526.9 L182.0,526.2 L182.6,525.5 L183.1,524.7 L183.6,524.0 L184.0,523.2 L184.3,522.4 L184.6,521.6 L184.9,520.8 L185.2,519.9 L185.4,519.0 L185.6,518.1 L185.8,517.1 L185.9,516.0 L186.0,515.0 L186.1,513.9 L186.1,512.9 L186.2,511.9 L186.3,511.0 L186.4,510.1 L186.4,509.3 L186.5,508.5 L186.6,507.8 L186.6,507.1 L186.7,506.3 L186.8,505.7 L186.9,505.0 L187.0,504.4 L187.2,503.8 L187.4,503.2 L187.6,502.6 L187.8,502.1 L188.0,501.6 L188.3,501.0 L188.6,500.5 L189.0,499.9 L189.3,499.4 L189.8,498.8 L190.2,498.2 L190.7,497.7 L191.2,497.1 L191.7,496.6 L192.2,496.2 L192.7,495.8 L193.3,495.4 L193.9,495.1 L194.5,494.8 L195.1,494.5 L195.6,494.2 L196.1,494.0 L196.6,493.8 L197.0,493.6 L197.2,493.4 L197.4,493.3 L197.6,493.1 L197.8,493.0 L198.0,493.0 L198.3,492.9Z" fill="none" stroke="#000" stroke-width="1.6"/><path d="M197,494 L199.5,498 L202,494" fill="#fff" stroke="none"/><path d="M190.4,592.2 L190.0,589.7 L189.3,587.3 L188.6,585.0 L187.9,582.7 L187.1,580.4 L186.4,578.2 L185.6,575.9 L184.8,573.7 L184.0,571.4 L183.2,569.2 L182.3,567.0 L181.5,564.7 L180.7,562.5 L179.8,560.3 L179.0,558.0 L178.1,555.8 L177.2,553.5 L176.3,551.3 L175.2,549.1 L174.0,546.9 L173.0,547.1 L172.9,549.6 L173.0,552.1 L173.3,554.6 L173.7,557.0 L174.1,559.4 L174.7,561.8 L175.3,564.2 L176.0,566.6 L176.7,568.9 L177.5,571.2 L178.4,573.5 L179.3,575.8 L180.3,578.0 L181.4,580.3 L182.5,582.4 L183.7,584.6 L185.0,586.7 L186.3,588.8 L187.8,590.8 L189.6,592.6Z" fill="#fff" stroke="#000" stroke-width="1.00"/><path d="M189.3,587.3 L185.0,586.7 M187.9,582.7 L182.5,582.4 M186.4,578.2 L180.3,578.0 M184.8,573.7 L178.4,573.5 M183.2,569.2 L176.7,568.9 M181.5,564.7 L175.3,564.2 M179.8,560.3 L174.1,559.4 M178.1,555.8 L173.3,554.6 M176.3,551.3 L172.9,549.6" fill="none" stroke="#000" stroke-width="0.8"/><path d="M192.9,586.9 L192.8,583.9 L192.5,581.0 L192.2,578.2 L191.9,575.5 L191.6,572.7 L191.3,570.0 L191.0,567.2 L190.8,564.5 L190.5,561.8 L190.4,559.1 L190.2,556.4 L190.1,553.7 L189.9,551.0 L189.9,548.2 L189.8,545.5 L189.8,542.7 L189.7,539.9 L189.7,537.1 L189.6,534.2 L189.3,531.3 L188.3,531.1 L187.0,533.8 L186.1,536.6 L185.4,539.4 L184.8,542.3 L184.4,545.2 L184.0,548.0 L183.8,550.9 L183.7,553.8 L183.7,556.7 L183.9,559.5 L184.1,562.4 L184.5,565.3 L184.9,568.1 L185.5,570.9 L186.2,573.7 L187.0,576.5 L188.0,579.3 L189.0,582.0 L190.3,584.6 L191.9,587.1Z" fill="#fff" stroke="#000" stroke-width="1.00"/><path d="M192.5,581.0 L188.0,579.3 M192.2,578.2 L187.0,576.5 M191.6,572.7 L185.5,570.9 M191.0,567.2 L184.5,565.3 M190.8,564.5 L184.1,562.4 M190.4,559.1 L183.7,556.7 M190.1,553.7 L183.8,550.9 M189.9,551.0 L184.0,548.0 M189.8,545.5 L184.8,542.3 M189.7,539.9 L186.1,536.6 M189.7,537.1 L187.0,533.8" fill="none" stroke="#000" stroke-width="0.8"/><path d="M199.9,593.6 L201.0,591.3 L201.8,589.0 L202.5,586.7 L203.1,584.3 L203.7,582.0 L204.1,579.6 L204.6,577.2 L204.9,574.8 L205.2,572.4 L205.4,570.0 L205.6,567.6 L205.7,565.2 L205.8,562.8 L205.8,560.4 L205.7,558.0 L205.6,555.6 L205.4,553.1 L205.1,550.7 L204.7,548.3 L204.0,545.9 L203.0,545.9 L202.3,548.3 L201.8,550.7 L201.4,553.0 L201.0,555.4 L200.7,557.8 L200.4,560.1 L200.1,562.5 L199.9,564.8 L199.7,567.2 L199.5,569.5 L199.3,571.9 L199.1,574.2 L198.9,576.6 L198.8,579.0 L198.7,581.3 L198.6,583.7 L198.5,586.1 L198.5,588.5 L198.6,590.9 L198.9,593.4Z" fill="#fff" stroke="#000" stroke-width="1.00"/><path d="M201.8,589.0 L198.5,586.1 M203.1,584.3 L198.7,581.3 M204.1,579.6 L198.9,576.6 M204.9,574.8 L199.3,571.9 M205.4,570.0 L199.7,567.2 M205.7,565.2 L200.1,562.5 M205.8,560.4 L200.7,557.8 M205.6,555.6 L201.4,553.0 M205.1,550.7 L202.3,548.3" fill="none" stroke="#000" stroke-width="0.8"/><path d="M208.1,592.5 L209.4,590.1 L210.5,587.5 L211.4,584.9 L212.2,582.3 L212.9,579.7 L213.5,577.1 L214.1,574.4 L214.5,571.8 L214.9,569.1 L215.3,566.4 L215.5,563.7 L215.7,561.0 L215.9,558.3 L215.9,555.6 L215.9,552.9 L215.8,550.2 L215.6,547.5 L215.3,544.8 L214.8,542.1 L214.0,539.4 L213.0,539.4 L212.2,542.1 L211.6,544.7 L211.2,547.4 L210.8,550.0 L210.4,552.6 L210.1,555.2 L209.7,557.9 L209.4,560.5 L209.1,563.1 L208.8,565.7 L208.5,568.3 L208.2,570.9 L208.0,573.6 L207.7,576.2 L207.5,578.8 L207.3,581.5 L207.1,584.1 L207.0,586.8 L206.9,589.5 L207.1,592.3Z" fill="#fff" stroke="#000" stroke-width="1.00"/><path d="M210.5,587.5 L207.1,584.1 M212.2,582.3 L207.5,578.8 M212.9,579.7 L207.7,576.2 M214.1,574.4 L208.2,570.9 M214.9,569.1 L208.8,565.7 M215.5,563.7 L209.4,560.5 M215.9,558.3 L210.1,555.2 M215.9,552.9 L210.8,550.0 M215.8,550.2 L211.2,547.4 M215.3,544.8 L212.2,542.1" fill="none" stroke="#000" stroke-width="0.8"/><path d="M215.8,590.2 L217.3,588.4 L218.6,586.4 L219.8,584.5 L220.9,582.4 L221.9,580.4 L222.9,578.3 L223.8,576.2 L224.6,574.1 L225.4,571.9 L226.2,569.7 L226.8,567.6 L227.5,565.4 L228.0,563.1 L228.6,560.9 L229.0,558.7 L229.4,556.4 L229.7,554.1 L229.9,551.8 L230.0,549.5 L229.9,547.1 L228.9,546.9 L227.7,548.9 L226.7,551.0 L225.8,553.1 L225.0,555.2 L224.2,557.3 L223.4,559.4 L222.6,561.5 L221.9,563.6 L221.2,565.8 L220.4,567.9 L219.8,570.0 L219.1,572.1 L218.4,574.3 L217.8,576.4 L217.2,578.6 L216.6,580.8 L216.0,583.0 L215.5,585.2 L215.1,587.5 L214.8,589.8Z" fill="#fff" stroke="#000" stroke-width="1.00"/><path d="M218.6,586.4 L216.0,583.0 M220.9,582.4 L217.2,578.6 M222.9,578.3 L218.4,574.3 M224.6,574.1 L219.8,570.0 M226.2,569.7 L221.2,565.8 M227.5,565.4 L222.6,561.5 M228.6,560.9 L224.2,557.3 M229.4,556.4 L225.8,553.1 M229.9,551.8 L227.7,548.9" fill="none" stroke="#000" stroke-width="0.8"/></g><g id="ascus"><path class="ln" style="stroke-width:1.10" d="M100.4,441.2 L100.2,441.8 L100.0,442.7 L99.7,443.7 L99.4,444.8 L99.0,446.0 L98.7,447.2 L98.3,448.5 L98.0,449.7 L97.7,450.9 L97.5,452.0 L97.3,453.0 L97.1,454.0 L97.0,455.0 L96.9,456.0 L96.7,456.9 L96.6,457.9 L96.5,458.9 L96.5,459.8 L96.4,460.8 L96.3,461.8 L96.2,462.8 L96.2,463.8 L96.1,464.8 L96.1,465.8 L96.1,466.9 L96.0,467.9 L96.0,468.9 L96.0,469.9 L96.0,471.0 L96.0,472.0 L96.0,473.0 L96.0,474.0 L96.0,475.0 L96.0,475.9 L96.0,476.9 L96.1,477.9 L96.1,479.0 L96.1,480.0 L96.2,481.2 L96.3,482.4 L96.4,483.7 L96.5,485.1 L96.7,486.5 L96.8,488.0 L97.0,489.5 L97.2,491.0 L97.4,492.5 L97.6,494.0 L97.8,495.5 L98.0,497.0 L98.2,498.4 L98.5,499.9 L98.7,501.3 L99.0,502.7 L99.2,504.1 L99.5,505.5 L99.8,506.9 L100.0,508.4 L100.2,509.8 L100.4,511.2 L100.6,512.7 L100.7,514.1 L100.8,515.6 L100.9,517.1 L101.0,518.6 L101.1,520.1 L101.1,521.6 L101.2,523.0 L101.4,524.3 L101.5,525.6 L101.7,526.8 L101.8,528.1 L102.0,529.3 L102.2,530.5 L102.4,531.7 L102.6,532.7 L102.9,533.7 L103.1,534.6 L103.3,535.3 L103.5,535.9 L103.7,536.4 L103.9,536.7 L104.1,536.9 L104.3,537.0 L104.5,537.1 L104.8,537.0 L105.0,536.8 L105.2,536.6 L105.4,536.3 L105.6,535.9 L105.8,535.4 L106.0,534.9 L106.2,534.2 L106.5,533.4 L106.7,532.6 L106.9,531.7 L107.1,530.7 L107.3,529.8 L107.4,528.7 L107.6,527.7 L107.7,526.6 L107.9,525.4 L108.0,524.2 L108.1,522.9 L108.2,521.6 L108.2,520.2 L108.3,518.9 L108.4,517.6 L108.4,516.3 L108.5,515.0 L108.5,513.8 L108.6,512.6 L108.6,511.4 L108.6,510.3 L108.7,509.1 L108.7,508.0 L108.7,506.8 L108.7,505.6 L108.7,504.3 L108.7,503.0 L108.7,501.6 L108.7,500.2 L108.7,498.8 L108.7,497.3 L108.7,495.8 L108.7,494.2 L108.7,492.7 L108.7,491.1 L108.7,489.6 L108.7,488.0 L108.7,486.4 L108.7,484.9 L108.6,483.3 L108.6,481.7 L108.6,480.1 L108.6,478.4 L108.6,476.8 L108.6,475.2 L108.6,473.6 L108.7,472.0 L108.8,470.4 L108.9,468.8 L109.1,467.1 L109.3,465.5 L109.5,463.9 L109.7,462.2 L109.9,460.6 L110.1,459.1 L110.3,457.5 L110.5,456.0 L110.7,454.5 L111.0,452.9 L111.2,451.3 L111.5,449.7 L111.8,448.1 L112.0,446.6 L112.3,445.3 L112.5,444.0 L112.7,443.0 L112.8,442.2"/><path d="M110.3,328.1 L110.2,328.5 L110.0,328.9 L109.8,329.5 L109.6,330.1 L109.4,330.8 L109.2,331.5 L109.0,332.2 L108.8,333.0 L108.7,333.9 L108.6,334.7 L108.6,335.6 L108.6,336.5 L108.7,337.6 L108.8,338.6 L108.9,339.7 L109.0,340.8 L109.1,341.9 L109.2,343.0 L109.3,344.0 L109.3,345.0 L109.3,345.9 L109.3,346.8 L109.3,347.7 L109.3,348.5 L109.3,349.3 L109.3,350.1 L109.2,351.0 L109.0,351.9 L108.8,352.8 L108.5,353.8 L108.1,354.9 L107.6,356.0 L107.0,357.2 L106.4,358.4 L105.7,359.7 L105.0,361.0 L104.3,362.2 L103.7,363.4 L103.1,364.5 L102.6,365.6 L102.2,366.6 L101.8,367.5 L101.4,368.3 L101.0,369.1 L100.7,369.8 L100.4,370.6 L100.2,371.4 L100.0,372.3 L99.8,373.3 L99.7,374.4 L99.7,375.6 L99.8,377.0 L100.0,378.4 L100.3,379.9 L100.5,381.5 L100.8,383.0 L101.0,384.6 L101.2,386.2 L101.3,387.7 L101.2,389.1 L101.0,390.5 L100.7,391.9 L100.3,393.2 L99.9,394.6 L99.4,395.9 L98.9,397.3 L98.4,398.6 L97.8,399.9 L97.3,401.1 L96.8,402.4 L96.3,403.6 L95.8,404.9 L95.2,406.1 L94.6,407.3 L94.1,408.5 L93.5,409.6 L93.0,410.8 L92.5,411.9 L92.0,413.0 L91.6,414.1 L91.2,415.2 L90.9,416.3 L90.6,417.4 L90.3,418.6 L90.0,419.6 L89.8,420.7 L89.6,421.6 L89.4,422.4 L89.2,423.1 L89.1,423.7" fill="none" stroke="#000" stroke-width="3.8" stroke-linecap="round" stroke-linejoin="round"/><path d="M110.3,328.1 L110.2,328.5 L110.0,328.9 L109.8,329.5 L109.6,330.1 L109.4,330.8 L109.2,331.5 L109.0,332.2 L108.8,333.0 L108.7,333.9 L108.6,334.7 L108.6,335.6 L108.6,336.5 L108.7,337.6 L108.8,338.6 L108.9,339.7 L109.0,340.8 L109.1,341.9 L109.2,343.0 L109.3,344.0 L109.3,345.0 L109.3,345.9 L109.3,346.8 L109.3,347.7 L109.3,348.5 L109.3,349.3 L109.3,350.1 L109.2,351.0 L109.0,351.9 L108.8,352.8 L108.5,353.8 L108.1,354.9 L107.6,356.0 L107.0,357.2 L106.4,358.4 L105.7,359.7 L105.0,361.0 L104.3,362.2 L103.7,363.4 L103.1,364.5 L102.6,365.6 L102.2,366.6 L101.8,367.5 L101.4,368.3 L101.0,369.1 L100.7,369.8 L100.4,370.6 L100.2,371.4 L100.0,372.3 L99.8,373.3 L99.7,374.4 L99.7,375.6 L99.8,377.0 L100.0,378.4 L100.3,379.9 L100.5,381.5 L100.8,383.0 L101.0,384.6 L101.2,386.2 L101.3,387.7 L101.2,389.1 L101.0,390.5 L100.7,391.9 L100.3,393.2 L99.9,394.6 L99.4,395.9 L98.9,397.3 L98.4,398.6 L97.8,399.9 L97.3,401.1 L96.8,402.4 L96.3,403.6 L95.8,404.9 L95.2,406.1 L94.6,407.3 L94.1,408.5 L93.5,409.6 L93.0,410.8 L92.5,411.9 L92.0,413.0 L91.6,414.1 L91.2,415.2 L90.9,416.3 L90.6,417.4 L90.3,418.6 L90.0,419.6 L89.8,420.7 L89.6,421.6 L89.4,422.4 L89.2,423.1 L89.1,423.7" fill="none" stroke="#fff" stroke-width="1.5" stroke-linecap="round" stroke-linejoin="round"/><path d="M124.7,383.2 L124.7,384.0 L124.7,385.1 L124.7,386.4 L124.7,387.9 L124.7,389.5 L124.6,391.1 L124.6,392.6 L124.4,394.1 L124.3,395.4 L124.0,396.5 L123.7,397.4 L123.2,398.1 L122.7,398.7 L122.1,399.3 L121.5,399.7 L120.9,400.2 L120.3,400.6 L119.8,401.2 L119.2,401.7 L118.8,402.4 L118.4,403.2 L118.0,403.9 L117.7,404.7 L117.3,405.6 L117.0,406.5 L116.8,407.4 L116.5,408.3 L116.3,409.2 L116.1,410.2 L115.9,411.2 L115.8,412.2 L115.8,413.2 L115.8,414.3 L115.9,415.3 L115.9,416.4 L116.0,417.5 L116.0,418.7 L116.0,420.0 L115.8,421.2 L115.6,422.6 L115.2,424.1 L114.8,425.6 L114.2,427.2 L113.6,428.9 L112.9,430.7 L112.3,432.4 L111.6,434.1 L110.9,435.9 L110.3,437.5 L109.7,439.1 L109.1,440.6 L108.5,442.1 L107.9,443.6 L107.3,445.0 L106.7,446.4 L106.2,447.8 L105.7,449.2 L105.2,450.6 L104.9,452.1 L104.6,453.5 L104.5,454.9 L104.5,456.3 L104.6,457.7 L104.8,459.1 L105.0,460.5 L105.3,461.9 L105.5,463.4 L105.6,464.8 L105.7,466.4 L105.6,468.0 L105.4,469.7 L105.0,471.4 L104.6,473.3 L104.1,475.1 L103.6,477.0 L103.1,478.9 L102.6,480.8 L102.1,482.7 L101.8,484.6 L101.5,486.5 L101.3,488.4 L101.2,490.5 L101.2,492.6 L101.2,494.8 L101.2,496.9 L101.3,498.9 L101.4,500.8 L101.4,502.5 L101.5,503.9 L101.5,505.0" fill="none" stroke="#000" stroke-width="3.8" stroke-linecap="round" stroke-linejoin="round"/><path d="M124.7,383.2 L124.7,384.0 L124.7,385.1 L124.7,386.4 L124.7,387.9 L124.7,389.5 L124.6,391.1 L124.6,392.6 L124.4,394.1 L124.3,395.4 L124.0,396.5 L123.7,397.4 L123.2,398.1 L122.7,398.7 L122.1,399.3 L121.5,399.7 L120.9,400.2 L120.3,400.6 L119.8,401.2 L119.2,401.7 L118.8,402.4 L118.4,403.2 L118.0,403.9 L117.7,404.7 L117.3,405.6 L117.0,406.5 L116.8,407.4 L116.5,408.3 L116.3,409.2 L116.1,410.2 L115.9,411.2 L115.8,412.2 L115.8,413.2 L115.8,414.3 L115.9,415.3 L115.9,416.4 L116.0,417.5 L116.0,418.7 L116.0,420.0 L115.8,421.2 L115.6,422.6 L115.2,424.1 L114.8,425.6 L114.2,427.2 L113.6,428.9 L112.9,430.7 L112.3,432.4 L111.6,434.1 L110.9,435.9 L110.3,437.5 L109.7,439.1 L109.1,440.6 L108.5,442.1 L107.9,443.6 L107.3,445.0 L106.7,446.4 L106.2,447.8 L105.7,449.2 L105.2,450.6 L104.9,452.1 L104.6,453.5 L104.5,454.9 L104.5,456.3 L104.6,457.7 L104.8,459.1 L105.0,460.5 L105.3,461.9 L105.5,463.4 L105.6,464.8 L105.7,466.4 L105.6,468.0 L105.4,469.7 L105.0,471.4 L104.6,473.3 L104.1,475.1 L103.6,477.0 L103.1,478.9 L102.6,480.8 L102.1,482.7 L101.8,484.6 L101.5,486.5 L101.3,488.4 L101.2,490.5 L101.2,492.6 L101.2,494.8 L101.2,496.9 L101.3,498.9 L101.4,500.8 L101.4,502.5 L101.5,503.9 L101.5,505.0" fill="none" stroke="#fff" stroke-width="1.5" stroke-linecap="round" stroke-linejoin="round"/><path d="M106.6,410.3 L106.5,411.0 L106.4,411.9 L106.3,413.0 L106.1,414.2 L106.0,415.6 L105.8,416.9 L105.7,418.4 L105.6,419.8 L105.6,421.2 L105.6,422.6 L105.7,424.0 L105.9,425.3 L106.1,426.8 L106.4,428.2 L106.7,429.7 L107.0,431.1 L107.3,432.6 L107.5,434.1 L107.6,435.5 L107.6,437.0 L107.5,438.4 L107.3,439.9 L107.0,441.3 L106.7,442.8 L106.3,444.3 L105.9,445.7 L105.5,447.2 L105.2,448.6 L104.8,450.1 L104.6,451.5 L104.4,453.0 L104.3,454.4 L104.2,455.9 L104.1,457.4 L104.1,458.9 L104.0,460.4 L103.9,461.8 L103.8,463.2 L103.7,464.6 L103.5,465.9 L103.3,467.2 L103.0,468.5 L102.6,469.9 L102.3,471.2 L101.9,472.4 L101.5,473.6 L101.2,474.7 L100.9,475.7 L100.6,476.5 L100.4,477.2" fill="none" stroke="#000" stroke-width="3.8" stroke-linecap="round" stroke-linejoin="round"/><path d="M106.6,410.3 L106.5,411.0 L106.4,411.9 L106.3,413.0 L106.1,414.2 L106.0,415.6 L105.8,416.9 L105.7,418.4 L105.6,419.8 L105.6,421.2 L105.6,422.6 L105.7,424.0 L105.9,425.3 L106.1,426.8 L106.4,428.2 L106.7,429.7 L107.0,431.1 L107.3,432.6 L107.5,434.1 L107.6,435.5 L107.6,437.0 L107.5,438.4 L107.3,439.9 L107.0,441.3 L106.7,442.8 L106.3,444.3 L105.9,445.7 L105.5,447.2 L105.2,448.6 L104.8,450.1 L104.6,451.5 L104.4,453.0 L104.3,454.4 L104.2,455.9 L104.1,457.4 L104.1,458.9 L104.0,460.4 L103.9,461.8 L103.8,463.2 L103.7,464.6 L103.5,465.9 L103.3,467.2 L103.0,468.5 L102.6,469.9 L102.3,471.2 L101.9,472.4 L101.5,473.6 L101.2,474.7 L100.9,475.7 L100.6,476.5 L100.4,477.2" fill="none" stroke="#fff" stroke-width="1.5" stroke-linecap="round" stroke-linejoin="round"/><path d="M106.5,365.5 L103,363.5 M104.5,388 L100,387 M97,402 L101,404 M109.5,356 L105.5,354 M125.5,396 L121.5,397.5 M118,420 L113.5,420 M105.5,455 L102,453 M107.7,432 L104,432" fill="none" stroke="#000" stroke-width="0.9"/></g><g id="arrows"><path d="M234.7,145.0 L234.8,144.0 L234.9,143.0 L235.0,142.0 L235.1,141.1 L235.2,140.1 L235.3,139.1 L235.5,138.2 L235.6,137.3 L235.7,136.3 L235.9,135.4 L236.0,134.5 L236.2,133.6 L236.4,132.7 L236.6,131.8 L236.7,131.0 L236.9,130.1 L237.1,129.2 L237.3,128.4 L237.5,127.5 L237.8,126.7 L238.0,125.9 L238.2,125.0 L238.5,124.2 L238.7,123.4 L239.0,122.6 L239.2,121.8 L239.5,121.1 L239.8,120.3 L240.0,119.5 L240.3,118.7 L240.6,118.0 L240.9,117.2 L241.2,116.5 L241.5,115.8 L241.9,115.0 L242.2,114.3 L242.5,113.6 L242.9,112.9 L243.2,112.2 L243.6,111.5 L243.9,110.8 L244.3,110.1 L244.7,109.4 L245.0,108.7 L245.4,108.1 L245.8,107.4 L246.2,106.7 L246.6,106.1 L247.0,105.4 L247.4,104.8 L247.9,104.2 L248.3,103.5 L248.7,102.9 L249.2,102.3 L249.6,101.6 L250.1,101.0 L250.5,100.4 L251.0,99.8 L251.5,99.2 L251.9,98.6 L252.4,98.0 L252.9,97.4 L253.4,96.9 L253.9,96.3 L254.4,95.7 L254.9,95.1 L255.5,94.6 L256.0,94.0 L256.5,93.4 L257.1,92.9 L257.6,92.3 L258.1,91.8 L258.7,91.2 L259.3,90.7 L259.8,90.2 L260.4,89.6 L261.0,89.1 L261.6,88.6 L262.2,88.0 L262.8,87.5 L263.4,87.0 L264.0,86.5 L264.6,85.9 L265.2,85.4 L265.8,84.9 L266.5,84.4 L267.1,83.9 L267.7,83.4 L268.4,82.9 L269.0,82.4 L269.7,81.9 L270.4,81.4 L271.0,80.9 L271.7,80.4 L272.4,79.9 L273.1,79.4 L273.8,78.9 L274.5,78.4 L275.2,77.9 L275.9,77.4 L276.6,76.9 L277.3,76.4 L278.0,76.0 L278.5,75.7 L280.2,74.6" fill="none" stroke="#000" stroke-width="2.20"/><path d="M290.3,68.2 L280.7,79.3 L276.2,72.1 Z" fill="#000"/><path d="M328.2,91.7 L328.1,92.8 L328.0,93.8 L327.9,94.9 L327.7,95.9 L327.6,96.9 L327.4,98.0 L327.3,99.0 L327.1,100.0 L326.9,101.0 L326.7,102.0 L326.5,103.0 L326.3,104.0 L326.1,105.0 L325.8,105.9 L325.6,106.9 L325.3,107.8 L325.1,108.8 L324.8,109.7 L324.5,110.7 L324.2,111.6 L323.9,112.5 L323.6,113.4 L323.2,114.3 L322.9,115.2 L322.6,116.1 L322.2,117.0 L321.8,117.9 L321.5,118.7 L321.1,119.6 L320.7,120.4 L320.3,121.3 L319.9,122.1 L319.5,123.0 L319.0,123.8 L318.6,124.6 L318.1,125.4 L317.7,126.2 L317.2,127.0 L316.7,127.8 L316.3,128.6 L315.8,129.3 L315.3,130.1 L314.7,130.8 L314.2,131.6 L313.7,132.3 L313.2,133.1 L312.6,133.8 L312.1,134.5 L311.5,135.2 L310.9,135.9 L310.4,136.6 L309.8,137.3 L309.2,138.0 L308.6,138.7 L308.0,139.3 L307.3,140.0 L306.7,140.6 L306.1,141.3 L305.4,141.9 L304.8,142.5 L304.1,143.1 L303.5,143.7 L302.8,144.4 L302.1,144.9 L301.4,145.5 L300.7,146.1 L300.0,146.7 L299.3,147.2 L298.6,147.8 L297.8,148.3 L297.1,148.9 L296.4,149.4 L295.6,149.9 L294.9,150.5 L294.1,151.0 L293.3,151.5 L292.5,152.0 L291.8,152.4 L291.0,152.9 L290.2,153.4 L289.4,153.8 L288.5,154.3 L287.7,154.7 L286.9,155.2 L286.1,155.6 L285.2,156.0 L284.4,156.4 L283.5,156.8 L282.7,157.2 L281.8,157.6 L280.9,158.0 L280.0,158.4 L279.2,158.7 L278.3,159.1 L277.4,159.4 L276.5,159.8 L275.6,160.1 L274.6,160.4 L273.7,160.7 L272.8,161.1 L271.9,161.4 L270.9,161.6 L270.0,161.9 L269.0,162.2 L268.1,162.5 L267.8,162.5 L265.9,162.9" fill="none" stroke="#000" stroke-width="2.20"/><path d="M254.1,165.3 L267.0,158.4 L268.7,166.7 Z" fill="#000"/><path d="M220.7,214.6 L223.8,211.8 L227.0,209.1 L230.2,206.4 L233.4,203.8 L236.7,201.2 L240.0,198.6 L243.4,196.1 L246.8,193.7 L250.2,191.2 L253.7,188.9 L257.2,186.5 L260.8,184.3 L264.4,182.0 L268.0,179.8 L271.7,177.7 L275.4,175.5 L279.1,173.5 L282.9,171.5 L286.7,169.5 L290.5,167.6 L294.3,165.7 L298.2,163.8 L302.1,162.0 L306.1,160.3 L310.0,158.6 L314.0,156.9 L318.0,155.3 L322.1,153.7 L326.1,152.2 L330.2,150.7 L334.3,149.3 L338.5,147.9 L342.6,146.5 L346.8,145.2 L351.0,144.0 L355.2,142.8 L359.4,141.6 L363.7,140.5 L368.0,139.4 L372.2,138.4 L376.5,137.4 L380.9,136.4 L385.2,135.5 L389.5,134.7 L393.9,133.9 L398.2,133.1 L402.6,132.4 L407.0,131.7 L411.4,131.1 L415.8,130.6 L420.2,130.0 L424.6,129.5 L429.1,129.1 L433.5,128.7 L437.9,128.4 L442.4,128.1 L446.8,127.8 L451.2,127.6 L455.7,127.5 L460.1,127.3 L464.6,127.3 L469.0,127.3 L473.5,127.3 L477.9,127.4 L482.4,127.5 L486.8,127.6 L491.3,127.9 L495.7,128.1 L500.1,128.4 L504.6,128.8 L509.0,129.2 L513.4,129.6 L517.8,130.1 L522.2,130.7 L526.6,131.2 L530.9,131.9 L535.3,132.6 L539.6,133.3 L544.0,134.1 L548.3,134.9 L552.6,135.8 L556.9,136.7 L561.2,137.6 L565.5,138.7 L569.7,139.7 L573.9,140.8 L578.1,142.0 L582.3,143.2 L586.5,144.4 L590.7,145.7 L594.8,147.1 L598.9,148.5 L603.0,149.9 L607.0,151.4 L611.1,152.9 L615.1,154.5 L619.1,156.2 L623.0,157.8 L627.0,159.6 L630.9,161.3 L634.8,163.2 L638.6,165.0 L642.4,167.0 L646.2,168.9 L650.0,170.9 L653.7,173.0 L657.4,175.1 L661.0,177.3 L664.6,179.5 L668.2,181.8 L671.8,184.1 L675.3,186.4 L678.8,188.8 L682.2,191.3 L685.6,193.8 L687.9,195.5 L689.4,196.8" fill="none" stroke="#000" stroke-width="2.20"/><path d="M698.8,204.3 L685.2,198.8 L690.6,192.2 Z" fill="#000"/><path d="M755.3,462.7 L754.6,464.2 L753.8,465.7 L753.0,467.2 L752.3,468.6 L751.5,470.1 L750.6,471.5 L749.8,473.0 L749.0,474.4 L748.1,475.8 L747.3,477.2 L746.4,478.6 L745.5,480.0 L744.6,481.4 L743.7,482.7 L742.7,484.1 L741.8,485.4 L740.8,486.8 L739.8,488.1 L738.9,489.4 L737.9,490.7 L736.9,492.0 L735.8,493.3 L734.8,494.6 L733.8,495.8 L732.7,497.1 L731.6,498.3 L730.6,499.6 L729.5,500.8 L728.4,502.0 L727.3,503.2 L726.2,504.4 L725.0,505.6 L723.9,506.8 L722.7,508.0 L721.6,509.1 L720.4,510.3 L719.2,511.4 L718.0,512.5 L716.8,513.7 L715.6,514.8 L714.4,515.9 L713.2,517.0 L711.9,518.1 L710.7,519.2 L709.4,520.2 L708.2,521.3 L706.9,522.4 L705.6,523.4 L704.3,524.4 L703.0,525.5 L701.7,526.5 L700.4,527.5 L699.1,528.5 L697.8,529.5 L696.5,530.5 L695.1,531.5 L693.8,532.5 L692.4,533.4 L691.1,534.4 L689.7,535.3 L688.3,536.3 L686.9,537.2 L685.5,538.1 L684.2,539.0 L682.8,539.9 L681.4,540.8 L680.0,541.7 L678.5,542.6 L677.1,543.5 L675.7,544.4 L674.3,545.2 L672.8,546.1 L671.4,546.9 L669.9,547.8 L668.5,548.6 L667.0,549.4 L665.6,550.2 L664.1,551.1 L662.7,551.9 L661.2,552.7 L659.7,553.4 L658.3,554.2 L656.8,555.0 L655.3,555.8 L653.8,556.5 L652.3,557.3 L650.8,558.0 L649.3,558.8 L647.9,559.5 L646.4,560.2 L644.9,561.0 L643.4,561.7 L641.9,562.4 L640.3,563.1 L638.8,563.8 L637.3,564.5 L635.8,565.1 L634.3,565.8 L632.8,566.5 L631.3,567.1 L629.8,567.8 L628.3,568.5 L626.8,569.1 L625.2,569.7 L623.7,570.4 L622.2,571.0 L620.7,571.6 L619.2,572.2 L617.7,572.8 L616.2,573.4 L615.7,573.6 L613.8,574.3" fill="none" stroke="#000" stroke-width="2.20"/><path d="M602.6,578.6 L614.2,569.7 L617.2,577.6 Z" fill="#000"/><path d="M360.5,384.9 L359.4,383.8 L358.3,382.7 L357.2,381.6 L356.1,380.5 L355.0,379.4 L353.9,378.3 L352.7,377.2 L351.6,376.1 L350.5,375.0 L349.3,374.0 L348.2,372.9 L347.0,371.8 L345.8,370.8 L344.7,369.7 L343.5,368.7 L342.3,367.7 L341.1,366.7 L340.0,365.6 L338.8,364.6 L337.6,363.6 L336.4,362.6 L335.2,361.6 L333.9,360.6 L332.7,359.7 L331.5,358.7 L330.3,357.7 L329.0,356.8 L327.8,355.8 L326.5,354.8 L325.3,353.9 L324.0,353.0 L322.8,352.0 L321.5,351.1 L320.3,350.2 L319.0,349.3 L317.7,348.4 L316.4,347.5 L315.1,346.6 L313.8,345.7 L312.5,344.9 L311.2,344.0 L309.9,343.1 L308.6,342.3 L307.3,341.4 L306.0,340.6 L304.7,339.8 L303.3,339.0 L302.0,338.1 L300.7,337.3 L299.3,336.5 L298.0,335.7 L296.6,334.9 L295.3,334.2 L293.9,333.4 L292.6,332.6 L291.2,331.9 L289.8,331.1 L288.5,330.4 L287.1,329.6 L285.7,328.9 L284.3,328.2 L282.9,327.5 L281.5,326.8 L280.1,326.1 L278.7,325.4 L277.3,324.7 L275.9,324.0 L274.5,323.3 L273.1,322.7 L271.7,322.0 L270.3,321.4 L268.8,320.7 L267.4,320.1 L266.0,319.5 L264.5,318.9 L263.1,318.3 L261.7,317.7 L260.2,317.1 L258.8,316.5 L257.3,315.9 L255.9,315.4 L254.4,314.8 L252.9,314.3 L251.5,313.7 L250.0,313.2 L248.5,312.7 L247.1,312.2 L245.6,311.6 L244.1,311.1 L242.6,310.7 L241.1,310.2 L239.6,309.7 L238.1,309.2 L236.7,308.8 L235.2,308.3 L233.7,307.9 L232.2,307.5 L230.7,307.0 L229.1,306.6 L227.6,306.2 L226.1,305.8 L224.6,305.4 L223.1,305.1 L221.6,304.7 L220.0,304.3 L218.5,304.0 L217.0,303.6 L215.5,303.3 L213.9,303.0 L212.4,302.6 L212.3,302.6 L210.3,302.3" fill="none" stroke="#000" stroke-width="2.20"/><path d="M198.5,300.2 L213.0,298.4 L211.6,306.8 Z" fill="#000"/><path d="M441.9,586.4 L442.3,585.0 L442.6,583.6 L442.9,582.2 L443.2,580.9 L443.5,579.5 L443.8,578.1 L444.1,576.8 L444.4,575.5 L444.7,574.2 L444.9,572.9 L445.2,571.6 L445.4,570.3 L445.7,569.0 L445.9,567.8 L446.1,566.5 L446.3,565.3 L446.5,564.1 L446.6,562.8 L446.8,561.6 L447.0,560.4 L447.1,559.2 L447.2,558.0 L447.4,556.9 L447.5,555.7 L447.6,554.5 L447.7,553.4 L447.8,552.2 L447.9,551.1 L447.9,550.0 L448.0,548.9 L448.0,547.7 L448.1,546.6 L448.1,545.5 L448.1,544.4 L448.1,543.3 L448.1,542.3 L448.1,541.2 L448.1,540.1 L448.1,539.0 L448.0,538.0 L448.0,536.9 L447.9,535.9 L447.9,534.8 L447.8,533.8 L447.7,532.8 L447.6,531.7 L447.5,530.7 L447.4,529.7 L447.3,528.6 L447.1,527.6 L447.0,526.6 L446.8,525.6 L446.7,524.6 L446.5,523.6 L446.3,522.6 L446.1,521.6 L445.9,520.6 L445.7,519.6 L445.5,518.6 L445.3,517.6 L445.0,516.6 L444.8,515.6 L444.5,514.6 L444.3,513.6 L444.0,512.7 L443.7,511.7 L443.4,510.7 L443.1,509.7 L442.8,508.7 L442.5,507.7 L442.2,506.7 L441.9,505.8 L441.5,504.8 L441.2,503.8 L440.8,502.8 L440.4,501.8 L440.1,500.8 L439.7,499.8 L439.3,498.8 L438.9,497.8 L438.5,496.8 L438.0,495.8 L437.6,494.8 L437.2,493.8 L436.7,492.8 L436.3,491.8 L435.8,490.7 L435.3,489.7 L434.8,488.7 L434.3,487.7 L433.8,486.6 L433.3,485.6 L432.8,484.6 L432.3,483.5 L431.8,482.5 L431.2,481.4 L430.7,480.3 L430.1,479.3 L429.5,478.2 L429.0,477.1 L428.4,476.0 L427.8,475.0 L427.2,473.9 L426.6,472.8 L426.0,471.6 L425.4,470.5 L424.7,469.4 L424.1,468.3 L423.6,467.4 L422.6,465.7" fill="none" stroke="#000" stroke-width="2.20"/><path d="M416.5,455.3 L427.2,465.2 L419.9,469.5 Z" fill="#000"/><path d="M401.2,622.4 L399.8,622.8 L398.4,623.2 L397.0,623.5 L395.5,623.8 L394.1,624.1 L392.7,624.4 L391.3,624.7 L389.9,625.0 L388.5,625.2 L387.1,625.4 L385.7,625.6 L384.3,625.8 L382.9,625.9 L381.4,626.1 L380.0,626.2 L378.6,626.3 L377.2,626.4 L375.8,626.5 L374.4,626.5 L373.0,626.6 L371.6,626.6 L370.2,626.6 L368.8,626.6 L367.4,626.5 L366.0,626.5 L364.6,626.4 L363.2,626.4 L361.8,626.3 L360.4,626.2 L359.0,626.0 L357.7,625.9 L356.3,625.8 L354.9,625.6 L353.5,625.4 L352.1,625.2 L350.7,625.0 L349.3,624.8 L348.0,624.6 L346.6,624.3 L345.2,624.0 L343.8,623.8 L342.5,623.5 L341.1,623.2 L339.7,622.9 L338.3,622.5 L337.0,622.2 L335.6,621.9 L334.3,621.5 L332.9,621.1 L331.5,620.7 L330.2,620.3 L328.8,619.9 L327.5,619.5 L326.1,619.1 L324.8,618.7 L323.4,618.2 L322.1,617.8 L320.7,617.3 L319.4,616.8 L318.1,616.3 L316.7,615.8 L315.4,615.3 L314.1,614.8 L312.7,614.3 L311.4,613.7 L310.1,613.2 L308.8,612.6 L307.4,612.1 L306.1,611.5 L304.8,610.9 L303.5,610.4 L302.2,609.8 L300.9,609.2 L299.6,608.6 L298.3,608.0 L297.0,607.3 L295.7,606.7 L294.4,606.1 L293.1,605.5 L291.9,604.8 L290.6,604.2 L289.3,603.5 L288.0,602.9 L286.8,602.2 L285.5,601.5 L284.2,600.8 L283.0,600.2 L281.7,599.5 L280.5,598.8 L279.2,598.1 L278.0,597.4 L276.7,596.7 L275.5,596.0 L274.2,595.3 L273.0,594.6 L271.8,593.9 L270.6,593.2 L269.3,592.4 L268.1,591.7 L266.9,591.0 L265.7,590.3 L264.5,589.5 L263.3,588.8 L262.1,588.1 L260.9,587.3 L259.7,586.6 L258.5,585.9 L257.3,585.1 L256.4,584.5 L254.7,583.5" fill="none" stroke="#000" stroke-width="2.20"/><path d="M244.6,577.0 L258.7,581.0 L254.1,588.1 Z" fill="#000"/><path d="M171.7,506.4 L171.3,505.8 L170.8,505.2 L170.4,504.6 L170.0,503.9 L169.5,503.3 L169.1,502.7 L168.7,502.1 L168.2,501.5 L167.8,500.8 L167.4,500.2 L167.0,499.6 L166.5,499.0 L166.1,498.3 L165.7,497.7 L165.3,497.1 L164.9,496.5 L164.4,495.8 L164.0,495.2 L163.6,494.6 L163.2,493.9 L162.8,493.3 L162.4,492.7 L162.0,492.0 L161.6,491.4 L161.1,490.8 L160.7,490.1 L160.3,489.5 L159.9,488.9 L159.5,488.2 L159.1,487.6 L158.7,487.0 L158.3,486.3 L157.9,485.7 L157.5,485.0 L157.1,484.4 L156.7,483.7 L156.3,483.1 L155.9,482.5 L155.6,481.8 L155.2,481.2 L154.8,480.5 L154.4,479.9 L154.0,479.2 L153.6,478.6 L153.2,477.9 L152.8,477.3 L152.5,476.6 L152.1,476.0 L151.7,475.3 L151.3,474.7 L150.9,474.0 L150.6,473.4 L150.2,472.7 L149.8,472.1 L149.4,471.4 L149.1,470.8 L148.7,470.1 L148.3,469.5 L147.9,468.8 L147.6,468.2 L147.2,467.5 L146.8,466.8 L146.5,466.2 L146.1,465.5 L145.7,464.9 L145.4,464.2 L145.0,463.5 L144.6,462.9 L144.3,462.2 L143.9,461.6 L143.5,460.9 L143.2,460.2 L142.8,459.6 L142.5,458.9 L142.1,458.2 L141.7,457.6 L141.4,456.9 L141.0,456.3 L140.7,455.6 L140.3,454.9 L140.0,454.3 L139.6,453.6 L139.3,452.9 L138.9,452.3 L138.6,451.6 L138.2,450.9 L137.9,450.3 L137.5,449.6 L137.2,448.9 L136.8,448.2 L136.5,447.6 L136.1,446.9 L135.8,446.2 L135.4,445.6 L135.1,444.9 L134.7,444.2 L134.4,443.5 L134.1,442.9 L133.7,442.2 L133.4,441.5 L133.2,441.2 L132.3,439.4" fill="none" stroke="#000" stroke-width="2.20"/><path d="M127.0,428.7 L137.0,439.4 L129.4,443.1 Z" fill="#000"/><path d="M117.6,354.3 L117.7,353.7 L117.8,353.2 L117.9,352.6 L118.0,352.1 L118.2,351.5 L118.3,351.0 L118.4,350.4 L118.6,349.9 L118.7,349.3 L118.9,348.8 L119.0,348.2 L119.2,347.7 L119.3,347.1 L119.5,346.6 L119.7,346.0 L119.8,345.5 L120.0,345.0 L120.2,344.4 L120.4,343.9 L120.6,343.4 L120.8,342.8 L121.0,342.3 L121.2,341.8 L121.4,341.3 L121.6,340.7 L121.9,340.2 L122.1,339.7 L122.3,339.2 L122.6,338.7 L122.8,338.1 L123.0,337.6 L123.3,337.1 L123.6,336.6 L123.8,336.1 L124.1,335.6 L124.3,335.1 L124.6,334.6 L124.9,334.1 L125.2,333.6 L125.5,333.1 L125.7,332.6 L126.0,332.1 L126.3,331.7 L126.6,331.2 L126.9,330.7 L127.2,330.2 L127.6,329.8 L127.9,329.3 L128.2,328.8 L128.5,328.3 L128.8,327.9 L129.2,327.4 L129.5,327.0 L129.9,326.5 L130.2,326.1 L130.5,325.6 L130.9,325.2 L131.3,324.7 L131.6,324.3 L132.0,323.9 L132.3,323.4 L132.7,323.0 L133.1,322.6 L133.5,322.2 L133.9,321.7 L134.2,321.3 L134.6,320.9 L135.0,320.5 L135.4,320.1 L135.8,319.7 L136.2,319.3 L136.6,318.9 L137.0,318.5 L137.4,318.1 L137.9,317.8 L138.3,317.4 L138.7,317.0 L139.1,316.6 L139.6,316.3 L140.0,315.9 L140.4,315.5 L140.9,315.2 L141.3,314.8 L141.8,314.5 L142.2,314.1 L142.7,313.8 L143.1,313.5 L143.6,313.1 L144.0,312.8 L144.5,312.5 L145.0,312.2 L145.4,311.9 L145.9,311.5 L146.4,311.2 L146.6,311.1 L148.4,310.3" fill="none" stroke="#000" stroke-width="2.20"/><path d="M159.2,305.2 L148.4,315.0 L144.8,307.3 Z" fill="#000"/></g><g id="labels">
<text x="342" y="42" textLength="82" lengthAdjust="spacingAndGlyphs">Germinating</text>
<text x="359" y="61" textLength="47" lengthAdjust="spacingAndGlyphs">conidia</text>
<text x="599" y="224" textLength="86" lengthAdjust="spacingAndGlyphs">Infected corn</text>
<text x="625.5" y="242" textLength="33.5" lengthAdjust="spacingAndGlyphs">plant</text>
<text x="11.6" y="403" textLength="74" lengthAdjust="spacingAndGlyphs">Ascospores</text>
<text x="16.5" y="422" textLength="64" lengthAdjust="spacingAndGlyphs">emerging</text>
<text x="32.4" y="441" textLength="31" lengthAdjust="spacingAndGlyphs">from</text>
<text x="30.7" y="460" textLength="35.3" lengthAdjust="spacingAndGlyphs">ascus</text>
<text x="392.4" y="367.6" textLength="49.4" lengthAdjust="spacingAndGlyphs">Conidia</text>
<text x="388.8" y="386.4" textLength="56.5" lengthAdjust="spacingAndGlyphs">(asexual)</text>
<text x="156.2" y="625.8" textLength="78.4" lengthAdjust="spacingAndGlyphs">Perithecium</text>
<text x="170.8" y="642.8" textLength="49.7" lengthAdjust="spacingAndGlyphs">(sexual)</text>
<text x="451.4" y="656.7" textLength="97.2" lengthAdjust="spacingAndGlyphs">Infested debris</text>
</g>
</svg>
</body></html>
